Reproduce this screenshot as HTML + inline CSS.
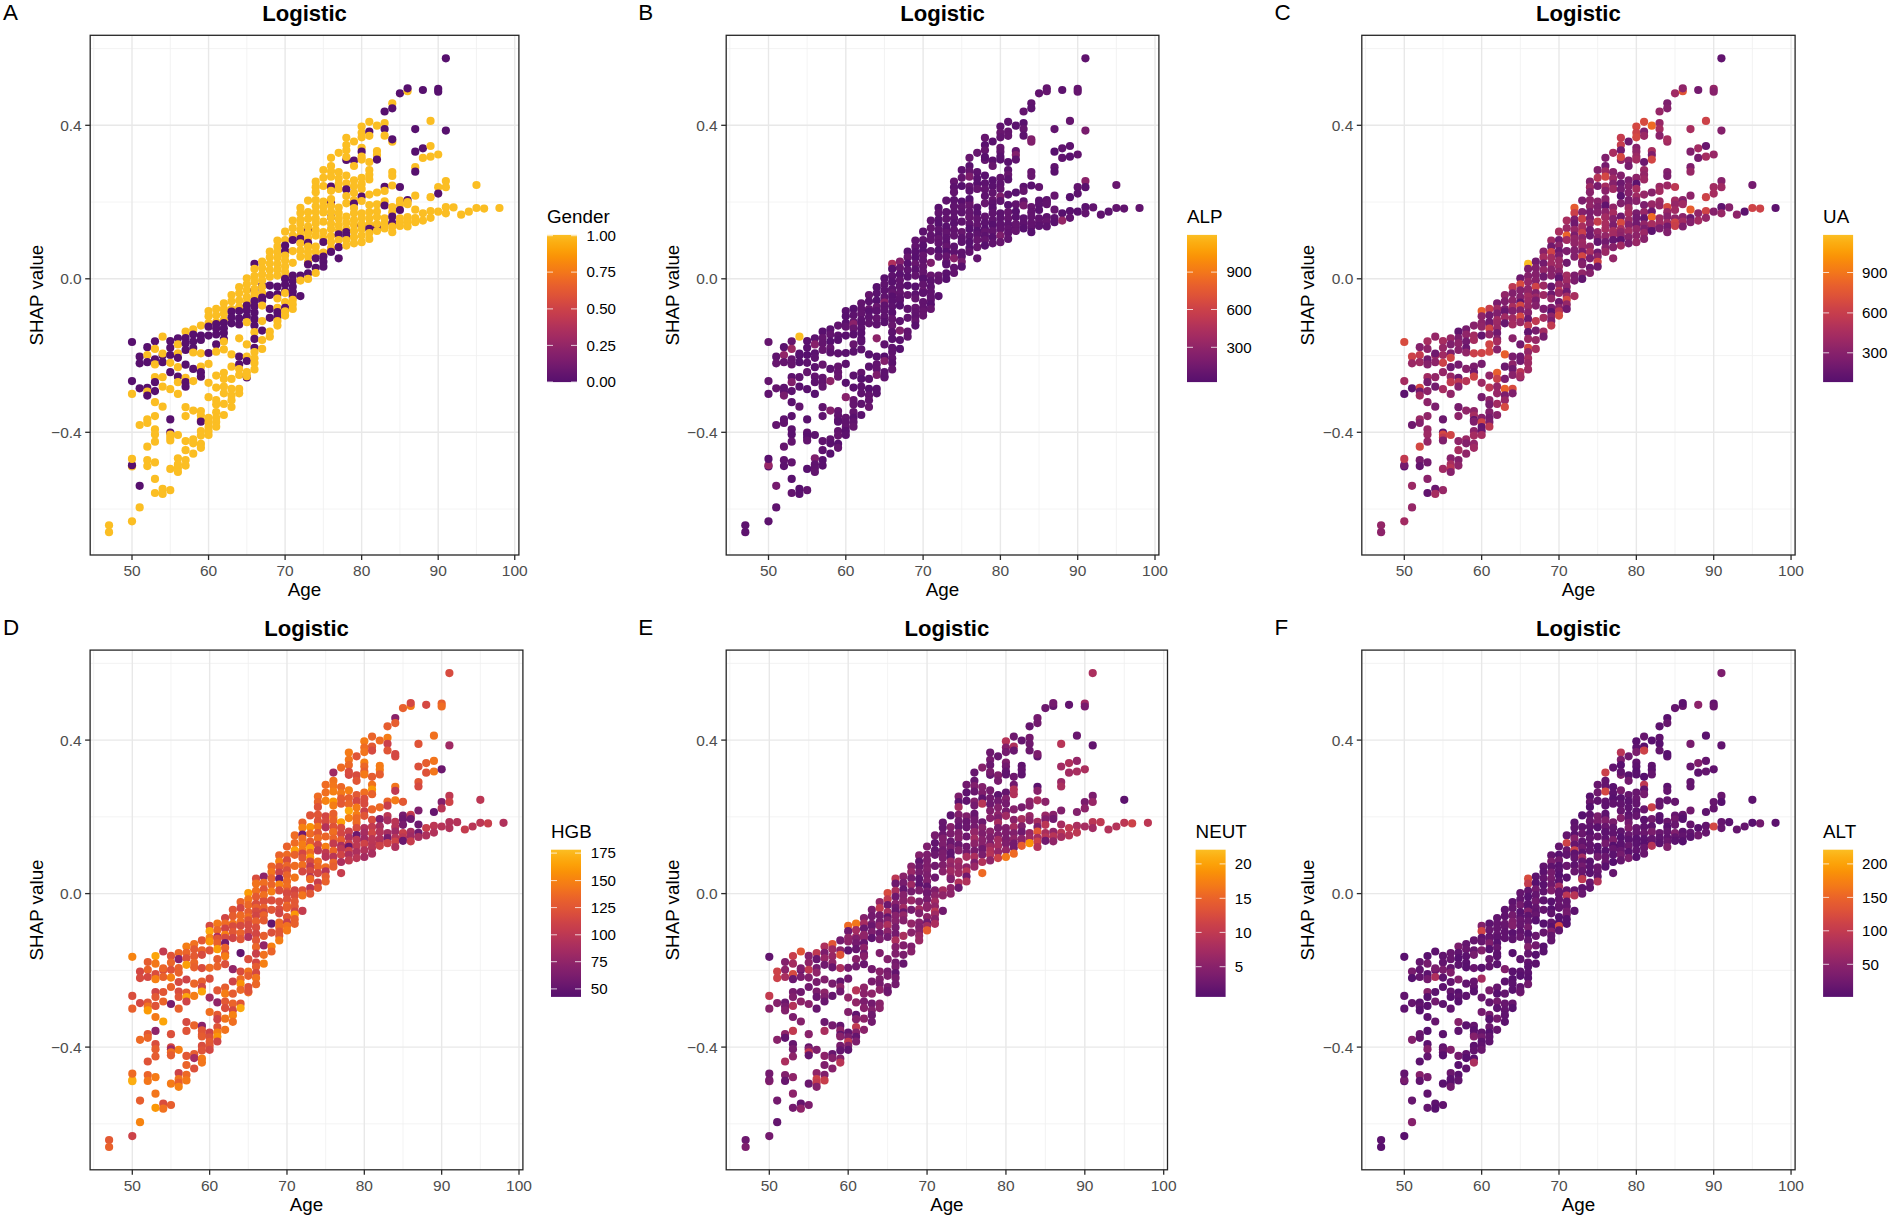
<!DOCTYPE html>
<html lang="en"><head><meta charset="utf-8"><title>SHAP dependence plots</title>
<style>html,body{margin:0;padding:0;background:#fff}svg{display:block}</style></head>
<body>
<svg width="1890" height="1219" viewBox="0 0 1890 1219" font-family="Liberation Sans, Arial, Helvetica, sans-serif">
<defs><linearGradient id="inf" x1="0" y1="1" x2="0" y2="0">
<stop offset="0%" stop-color="#57106e"/>
<stop offset="5%" stop-color="#62146e"/>
<stop offset="10%" stop-color="#6f196e"/>
<stop offset="15%" stop-color="#7c1d6d"/>
<stop offset="20%" stop-color="#87216b"/>
<stop offset="25%" stop-color="#932667"/>
<stop offset="30%" stop-color="#a02a63"/>
<stop offset="35%" stop-color="#ab2f5e"/>
<stop offset="40%" stop-color="#b73557"/>
<stop offset="45%" stop-color="#c33b4f"/>
<stop offset="50%" stop-color="#cc4248"/>
<stop offset="55%" stop-color="#d74b3f"/>
<stop offset="60%" stop-color="#e05536"/>
<stop offset="65%" stop-color="#e75e2e"/>
<stop offset="70%" stop-color="#ee6a24"/>
<stop offset="75%" stop-color="#f37819"/>
<stop offset="80%" stop-color="#f78410"/>
<stop offset="85%" stop-color="#fa9207"/>
<stop offset="90%" stop-color="#fca108"/>
<stop offset="95%" stop-color="#fcae12"/>
<stop offset="100%" stop-color="#fbbe23"/>
</linearGradient></defs>
<rect width="1890" height="1219" fill="#fff"/>
<g>
<line x1="93.72" x2="93.72" y1="35.30" y2="555.00" stroke="#f0f0f0" stroke-width="0.8"/>
<line x1="170.28" x2="170.28" y1="35.30" y2="555.00" stroke="#f0f0f0" stroke-width="0.8"/>
<line x1="246.82" x2="246.82" y1="35.30" y2="555.00" stroke="#f0f0f0" stroke-width="0.8"/>
<line x1="323.38" x2="323.38" y1="35.30" y2="555.00" stroke="#f0f0f0" stroke-width="0.8"/>
<line x1="399.93" x2="399.93" y1="35.30" y2="555.00" stroke="#f0f0f0" stroke-width="0.8"/>
<line x1="476.48" x2="476.48" y1="35.30" y2="555.00" stroke="#f0f0f0" stroke-width="0.8"/>
<line x1="90.20" x2="518.90" y1="48.55" y2="48.55" stroke="#f0f0f0" stroke-width="0.8"/>
<line x1="90.20" x2="518.90" y1="202.05" y2="202.05" stroke="#f0f0f0" stroke-width="0.8"/>
<line x1="90.20" x2="518.90" y1="355.55" y2="355.55" stroke="#f0f0f0" stroke-width="0.8"/>
<line x1="90.20" x2="518.90" y1="509.05" y2="509.05" stroke="#f0f0f0" stroke-width="0.8"/>
<line x1="132.00" x2="132.00" y1="35.30" y2="555.00" stroke="#e8e8e8" stroke-width="1.4"/>
<line x1="208.55" x2="208.55" y1="35.30" y2="555.00" stroke="#e8e8e8" stroke-width="1.4"/>
<line x1="285.10" x2="285.10" y1="35.30" y2="555.00" stroke="#e8e8e8" stroke-width="1.4"/>
<line x1="361.65" x2="361.65" y1="35.30" y2="555.00" stroke="#e8e8e8" stroke-width="1.4"/>
<line x1="438.20" x2="438.20" y1="35.30" y2="555.00" stroke="#e8e8e8" stroke-width="1.4"/>
<line x1="514.75" x2="514.75" y1="35.30" y2="555.00" stroke="#e8e8e8" stroke-width="1.4"/>
<line x1="90.20" x2="518.90" y1="125.30" y2="125.30" stroke="#e8e8e8" stroke-width="1.4"/>
<line x1="90.20" x2="518.90" y1="278.80" y2="278.80" stroke="#e8e8e8" stroke-width="1.4"/>
<line x1="90.20" x2="518.90" y1="432.30" y2="432.30" stroke="#e8e8e8" stroke-width="1.4"/>
<circle cx="109.03" cy="525.30" r="4.1" fill="#fbbe23"/>
<circle cx="109.03" cy="532.20" r="4.1" fill="#fbbe23"/>
<circle cx="132.00" cy="342.00" r="4.1" fill="#57106e"/>
<circle cx="132.00" cy="381.10" r="4.1" fill="#57106e"/>
<circle cx="132.00" cy="393.90" r="4.1" fill="#fbbe23"/>
<circle cx="132.00" cy="466.40" r="4.1" fill="#fbbe23"/>
<circle cx="132.00" cy="465.20" r="4.1" fill="#57106e"/>
<circle cx="132.00" cy="458.90" r="4.1" fill="#fbbe23"/>
<circle cx="132.00" cy="521.30" r="4.1" fill="#fbbe23"/>
<circle cx="139.66" cy="356.70" r="4.1" fill="#57106e"/>
<circle cx="139.66" cy="363.30" r="4.1" fill="#57106e"/>
<circle cx="139.66" cy="388.30" r="4.1" fill="#57106e"/>
<circle cx="139.66" cy="425.00" r="4.1" fill="#fbbe23"/>
<circle cx="139.66" cy="485.80" r="4.1" fill="#57106e"/>
<circle cx="139.66" cy="507.40" r="4.1" fill="#fbbe23"/>
<circle cx="147.31" cy="347.20" r="4.1" fill="#57106e"/>
<circle cx="147.31" cy="355.00" r="4.1" fill="#fbbe23"/>
<circle cx="147.31" cy="362.20" r="4.1" fill="#57106e"/>
<circle cx="147.31" cy="387.80" r="4.1" fill="#57106e"/>
<circle cx="147.31" cy="391.70" r="4.1" fill="#fbbe23"/>
<circle cx="147.31" cy="395.60" r="4.1" fill="#57106e"/>
<circle cx="147.31" cy="419.40" r="4.1" fill="#fbbe23"/>
<circle cx="147.31" cy="423.00" r="4.1" fill="#fbbe23"/>
<circle cx="147.31" cy="446.70" r="4.1" fill="#fbbe23"/>
<circle cx="147.31" cy="460.20" r="4.1" fill="#fbbe23"/>
<circle cx="147.31" cy="466.10" r="4.1" fill="#fbbe23"/>
<circle cx="154.97" cy="341.30" r="4.1" fill="#57106e"/>
<circle cx="154.97" cy="348.90" r="4.1" fill="#fbbe23"/>
<circle cx="154.97" cy="359.40" r="4.1" fill="#57106e"/>
<circle cx="154.97" cy="364.40" r="4.1" fill="#fbbe23"/>
<circle cx="154.97" cy="377.20" r="4.1" fill="#fbbe23"/>
<circle cx="154.97" cy="382.20" r="4.1" fill="#57106e"/>
<circle cx="154.97" cy="391.10" r="4.1" fill="#57106e"/>
<circle cx="154.97" cy="402.20" r="4.1" fill="#fbbe23"/>
<circle cx="154.97" cy="416.10" r="4.1" fill="#fbbe23"/>
<circle cx="154.97" cy="429.40" r="4.1" fill="#fbbe23"/>
<circle cx="154.97" cy="434.40" r="4.1" fill="#fbbe23"/>
<circle cx="154.97" cy="441.70" r="4.1" fill="#fbbe23"/>
<circle cx="154.97" cy="462.40" r="4.1" fill="#fbbe23"/>
<circle cx="154.97" cy="478.90" r="4.1" fill="#fbbe23"/>
<circle cx="154.97" cy="493.00" r="4.1" fill="#fbbe23"/>
<circle cx="162.62" cy="336.70" r="4.1" fill="#fbbe23"/>
<circle cx="162.62" cy="355.50" r="4.1" fill="#57106e"/>
<circle cx="162.62" cy="353.50" r="4.1" fill="#fbbe23"/>
<circle cx="162.62" cy="362.20" r="4.1" fill="#57106e"/>
<circle cx="162.62" cy="377.20" r="4.1" fill="#fbbe23"/>
<circle cx="162.62" cy="386.70" r="4.1" fill="#fbbe23"/>
<circle cx="162.62" cy="406.70" r="4.1" fill="#fbbe23"/>
<circle cx="162.62" cy="488.90" r="4.1" fill="#fbbe23"/>
<circle cx="162.62" cy="493.90" r="4.1" fill="#fbbe23"/>
<circle cx="170.28" cy="341.10" r="4.1" fill="#57106e"/>
<circle cx="170.28" cy="347.77" r="4.1" fill="#57106e"/>
<circle cx="170.28" cy="355.00" r="4.1" fill="#57106e"/>
<circle cx="170.28" cy="362.80" r="4.1" fill="#fbbe23"/>
<circle cx="170.28" cy="372.20" r="4.1" fill="#57106e"/>
<circle cx="170.28" cy="389.20" r="4.1" fill="#fbbe23"/>
<circle cx="170.28" cy="419.40" r="4.1" fill="#57106e"/>
<circle cx="170.28" cy="432.50" r="4.1" fill="#57106e"/>
<circle cx="170.28" cy="434.50" r="4.1" fill="#fbbe23"/>
<circle cx="170.28" cy="437.50" r="4.1" fill="#fbbe23"/>
<circle cx="170.28" cy="440.50" r="4.1" fill="#fbbe23"/>
<circle cx="170.28" cy="468.90" r="4.1" fill="#fbbe23"/>
<circle cx="170.28" cy="490.20" r="4.1" fill="#fbbe23"/>
<circle cx="177.93" cy="338.30" r="4.1" fill="#57106e"/>
<circle cx="177.93" cy="344.40" r="4.1" fill="#fbbe23"/>
<circle cx="177.93" cy="353.30" r="4.1" fill="#fbbe23"/>
<circle cx="177.93" cy="357.80" r="4.1" fill="#57106e"/>
<circle cx="177.93" cy="367.20" r="4.1" fill="#fbbe23"/>
<circle cx="177.93" cy="376.70" r="4.1" fill="#57106e"/>
<circle cx="177.93" cy="382.20" r="4.1" fill="#fbbe23"/>
<circle cx="177.93" cy="393.90" r="4.1" fill="#fbbe23"/>
<circle cx="177.93" cy="435.00" r="4.1" fill="#fbbe23"/>
<circle cx="177.93" cy="458.30" r="4.1" fill="#fbbe23"/>
<circle cx="177.93" cy="464.40" r="4.1" fill="#fbbe23"/>
<circle cx="177.93" cy="468.00" r="4.1" fill="#fbbe23"/>
<circle cx="177.93" cy="472.00" r="4.1" fill="#fbbe23"/>
<circle cx="185.59" cy="331.70" r="4.1" fill="#fbbe23"/>
<circle cx="185.59" cy="338.00" r="4.1" fill="#57106e"/>
<circle cx="185.59" cy="343.44" r="4.1" fill="#57106e"/>
<circle cx="185.59" cy="350.00" r="4.1" fill="#57106e"/>
<circle cx="185.59" cy="364.70" r="4.1" fill="#57106e"/>
<circle cx="185.59" cy="377.80" r="4.1" fill="#fbbe23"/>
<circle cx="185.59" cy="382.20" r="4.1" fill="#57106e"/>
<circle cx="185.59" cy="386.70" r="4.1" fill="#57106e"/>
<circle cx="185.59" cy="407.20" r="4.1" fill="#fbbe23"/>
<circle cx="185.59" cy="416.10" r="4.1" fill="#fbbe23"/>
<circle cx="185.59" cy="441.10" r="4.1" fill="#fbbe23"/>
<circle cx="185.59" cy="450.20" r="4.1" fill="#fbbe23"/>
<circle cx="185.59" cy="460.00" r="4.1" fill="#fbbe23"/>
<circle cx="185.59" cy="465.60" r="4.1" fill="#fbbe23"/>
<circle cx="193.24" cy="329.40" r="4.1" fill="#fbbe23"/>
<circle cx="193.24" cy="334.50" r="4.1" fill="#57106e"/>
<circle cx="193.24" cy="341.49" r="4.1" fill="#57106e"/>
<circle cx="193.24" cy="348.00" r="4.1" fill="#57106e"/>
<circle cx="193.24" cy="352.50" r="4.1" fill="#fbbe23"/>
<circle cx="193.24" cy="368.90" r="4.1" fill="#57106e"/>
<circle cx="193.24" cy="381.10" r="4.1" fill="#fbbe23"/>
<circle cx="193.24" cy="410.60" r="4.1" fill="#fbbe23"/>
<circle cx="193.24" cy="439.40" r="4.1" fill="#fbbe23"/>
<circle cx="193.24" cy="443.30" r="4.1" fill="#fbbe23"/>
<circle cx="193.24" cy="453.70" r="4.1" fill="#fbbe23"/>
<circle cx="200.89" cy="325.60" r="4.1" fill="#fbbe23"/>
<circle cx="200.89" cy="335.60" r="4.1" fill="#57106e"/>
<circle cx="200.89" cy="340.00" r="4.1" fill="#57106e"/>
<circle cx="200.89" cy="353.30" r="4.1" fill="#fbbe23"/>
<circle cx="200.89" cy="366.70" r="4.1" fill="#fbbe23"/>
<circle cx="200.89" cy="372.20" r="4.1" fill="#57106e"/>
<circle cx="200.89" cy="376.70" r="4.1" fill="#57106e"/>
<circle cx="200.89" cy="411.10" r="4.1" fill="#fbbe23"/>
<circle cx="200.89" cy="415.60" r="4.1" fill="#fbbe23"/>
<circle cx="200.89" cy="420.00" r="4.1" fill="#fbbe23"/>
<circle cx="200.89" cy="421.70" r="4.1" fill="#57106e"/>
<circle cx="200.89" cy="431.10" r="4.1" fill="#fbbe23"/>
<circle cx="200.89" cy="435.60" r="4.1" fill="#fbbe23"/>
<circle cx="200.89" cy="443.90" r="4.1" fill="#fbbe23"/>
<circle cx="200.89" cy="447.80" r="4.1" fill="#fbbe23"/>
<circle cx="208.55" cy="311.10" r="4.1" fill="#fbbe23"/>
<circle cx="208.55" cy="316.37" r="4.1" fill="#fbbe23"/>
<circle cx="208.55" cy="323.00" r="4.1" fill="#fbbe23"/>
<circle cx="208.55" cy="326.70" r="4.1" fill="#57106e"/>
<circle cx="208.55" cy="335.60" r="4.1" fill="#57106e"/>
<circle cx="208.55" cy="353.00" r="4.1" fill="#57106e"/>
<circle cx="208.55" cy="363.90" r="4.1" fill="#fbbe23"/>
<circle cx="208.55" cy="382.80" r="4.1" fill="#fbbe23"/>
<circle cx="208.55" cy="397.20" r="4.1" fill="#fbbe23"/>
<circle cx="208.55" cy="417.80" r="4.1" fill="#fbbe23"/>
<circle cx="208.55" cy="422.46" r="4.1" fill="#fbbe23"/>
<circle cx="208.55" cy="427.00" r="4.1" fill="#fbbe23"/>
<circle cx="208.55" cy="431.00" r="4.1" fill="#fbbe23"/>
<circle cx="208.55" cy="435.00" r="4.1" fill="#fbbe23"/>
<circle cx="216.20" cy="308.90" r="4.1" fill="#fbbe23"/>
<circle cx="216.20" cy="315.24" r="4.1" fill="#fbbe23"/>
<circle cx="216.20" cy="322.00" r="4.1" fill="#fbbe23"/>
<circle cx="216.20" cy="324.00" r="4.1" fill="#57106e"/>
<circle cx="216.20" cy="328.49" r="4.1" fill="#57106e"/>
<circle cx="216.20" cy="334.40" r="4.1" fill="#57106e"/>
<circle cx="216.20" cy="344.40" r="4.1" fill="#57106e"/>
<circle cx="216.20" cy="351.70" r="4.1" fill="#fbbe23"/>
<circle cx="216.20" cy="375.60" r="4.1" fill="#fbbe23"/>
<circle cx="216.20" cy="387.60" r="4.1" fill="#fbbe23"/>
<circle cx="216.20" cy="400.00" r="4.1" fill="#fbbe23"/>
<circle cx="216.20" cy="404.40" r="4.1" fill="#fbbe23"/>
<circle cx="216.20" cy="412.20" r="4.1" fill="#fbbe23"/>
<circle cx="216.20" cy="417.80" r="4.1" fill="#fbbe23"/>
<circle cx="216.20" cy="422.00" r="4.1" fill="#fbbe23"/>
<circle cx="216.20" cy="426.70" r="4.1" fill="#fbbe23"/>
<circle cx="223.86" cy="303.30" r="4.1" fill="#fbbe23"/>
<circle cx="223.86" cy="308.88" r="4.1" fill="#fbbe23"/>
<circle cx="223.86" cy="313.69" r="4.1" fill="#fbbe23"/>
<circle cx="223.86" cy="320.00" r="4.1" fill="#fbbe23"/>
<circle cx="223.86" cy="323.00" r="4.1" fill="#57106e"/>
<circle cx="223.86" cy="328.23" r="4.1" fill="#57106e"/>
<circle cx="223.86" cy="332.98" r="4.1" fill="#57106e"/>
<circle cx="223.86" cy="339.00" r="4.1" fill="#57106e"/>
<circle cx="223.86" cy="341.50" r="4.1" fill="#fbbe23"/>
<circle cx="223.86" cy="349.40" r="4.1" fill="#fbbe23"/>
<circle cx="223.86" cy="372.80" r="4.1" fill="#fbbe23"/>
<circle cx="223.86" cy="378.90" r="4.1" fill="#fbbe23"/>
<circle cx="223.86" cy="386.70" r="4.1" fill="#fbbe23"/>
<circle cx="223.86" cy="393.30" r="4.1" fill="#fbbe23"/>
<circle cx="223.86" cy="403.90" r="4.1" fill="#fbbe23"/>
<circle cx="223.86" cy="415.00" r="4.1" fill="#fbbe23"/>
<circle cx="231.51" cy="295.00" r="4.1" fill="#fbbe23"/>
<circle cx="231.51" cy="301.35" r="4.1" fill="#fbbe23"/>
<circle cx="231.51" cy="309.00" r="4.1" fill="#fbbe23"/>
<circle cx="231.51" cy="311.50" r="4.1" fill="#57106e"/>
<circle cx="231.51" cy="317.28" r="4.1" fill="#57106e"/>
<circle cx="231.51" cy="323.30" r="4.1" fill="#57106e"/>
<circle cx="231.51" cy="354.40" r="4.1" fill="#fbbe23"/>
<circle cx="231.51" cy="366.70" r="4.1" fill="#fbbe23"/>
<circle cx="231.51" cy="378.90" r="4.1" fill="#fbbe23"/>
<circle cx="231.51" cy="388.90" r="4.1" fill="#fbbe23"/>
<circle cx="231.51" cy="395.46" r="4.1" fill="#fbbe23"/>
<circle cx="231.51" cy="400.36" r="4.1" fill="#fbbe23"/>
<circle cx="231.51" cy="407.00" r="4.1" fill="#fbbe23"/>
<circle cx="239.17" cy="287.20" r="4.1" fill="#fbbe23"/>
<circle cx="239.17" cy="293.36" r="4.1" fill="#fbbe23"/>
<circle cx="239.17" cy="300.60" r="4.1" fill="#fbbe23"/>
<circle cx="239.17" cy="307.00" r="4.1" fill="#fbbe23"/>
<circle cx="239.17" cy="311.00" r="4.1" fill="#57106e"/>
<circle cx="239.17" cy="318.42" r="4.1" fill="#57106e"/>
<circle cx="239.17" cy="324.40" r="4.1" fill="#57106e"/>
<circle cx="239.17" cy="338.30" r="4.1" fill="#fbbe23"/>
<circle cx="239.17" cy="356.70" r="4.1" fill="#57106e"/>
<circle cx="239.17" cy="364.40" r="4.1" fill="#57106e"/>
<circle cx="239.17" cy="369.00" r="4.1" fill="#fbbe23"/>
<circle cx="239.17" cy="375.00" r="4.1" fill="#fbbe23"/>
<circle cx="239.17" cy="388.90" r="4.1" fill="#fbbe23"/>
<circle cx="239.17" cy="393.30" r="4.1" fill="#fbbe23"/>
<circle cx="246.82" cy="278.30" r="4.1" fill="#fbbe23"/>
<circle cx="246.82" cy="284.47" r="4.1" fill="#fbbe23"/>
<circle cx="246.82" cy="290.23" r="4.1" fill="#fbbe23"/>
<circle cx="246.82" cy="297.21" r="4.1" fill="#fbbe23"/>
<circle cx="246.82" cy="302.50" r="4.1" fill="#fbbe23"/>
<circle cx="246.82" cy="305.60" r="4.1" fill="#57106e"/>
<circle cx="246.82" cy="310.42" r="4.1" fill="#57106e"/>
<circle cx="246.82" cy="316.70" r="4.1" fill="#57106e"/>
<circle cx="246.82" cy="322.20" r="4.1" fill="#fbbe23"/>
<circle cx="246.82" cy="344.40" r="4.1" fill="#fbbe23"/>
<circle cx="246.82" cy="356.70" r="4.1" fill="#fbbe23"/>
<circle cx="246.82" cy="361.00" r="4.1" fill="#57106e"/>
<circle cx="246.82" cy="372.20" r="4.1" fill="#fbbe23"/>
<circle cx="246.82" cy="377.50" r="4.1" fill="#57106e"/>
<circle cx="246.82" cy="376.20" r="4.1" fill="#fbbe23"/>
<circle cx="254.48" cy="263.90" r="4.1" fill="#57106e"/>
<circle cx="254.48" cy="290.00" r="4.1" fill="#57106e"/>
<circle cx="254.48" cy="268.90" r="4.1" fill="#fbbe23"/>
<circle cx="254.48" cy="276.17" r="4.1" fill="#fbbe23"/>
<circle cx="254.48" cy="281.96" r="4.1" fill="#fbbe23"/>
<circle cx="254.48" cy="289.00" r="4.1" fill="#fbbe23"/>
<circle cx="254.48" cy="293.00" r="4.1" fill="#fbbe23"/>
<circle cx="254.48" cy="296.70" r="4.1" fill="#fbbe23"/>
<circle cx="254.48" cy="301.00" r="4.1" fill="#57106e"/>
<circle cx="254.48" cy="306.58" r="4.1" fill="#57106e"/>
<circle cx="254.48" cy="312.69" r="4.1" fill="#57106e"/>
<circle cx="254.48" cy="319.14" r="4.1" fill="#57106e"/>
<circle cx="254.48" cy="325.60" r="4.1" fill="#57106e"/>
<circle cx="254.48" cy="332.20" r="4.1" fill="#fbbe23"/>
<circle cx="254.48" cy="338.90" r="4.1" fill="#57106e"/>
<circle cx="254.48" cy="347.80" r="4.1" fill="#57106e"/>
<circle cx="254.48" cy="352.00" r="4.1" fill="#fbbe23"/>
<circle cx="254.48" cy="358.31" r="4.1" fill="#fbbe23"/>
<circle cx="254.48" cy="363.09" r="4.1" fill="#fbbe23"/>
<circle cx="254.48" cy="369.40" r="4.1" fill="#fbbe23"/>
<circle cx="262.13" cy="285.60" r="4.1" fill="#57106e"/>
<circle cx="262.13" cy="261.70" r="4.1" fill="#fbbe23"/>
<circle cx="262.13" cy="268.09" r="4.1" fill="#fbbe23"/>
<circle cx="262.13" cy="274.44" r="4.1" fill="#fbbe23"/>
<circle cx="262.13" cy="280.28" r="4.1" fill="#fbbe23"/>
<circle cx="262.13" cy="286.82" r="4.1" fill="#fbbe23"/>
<circle cx="262.13" cy="293.00" r="4.1" fill="#fbbe23"/>
<circle cx="262.13" cy="297.50" r="4.1" fill="#57106e"/>
<circle cx="262.13" cy="300.50" r="4.1" fill="#57106e"/>
<circle cx="262.13" cy="305.60" r="4.1" fill="#fbbe23"/>
<circle cx="262.13" cy="321.10" r="4.1" fill="#fbbe23"/>
<circle cx="262.13" cy="330.60" r="4.1" fill="#57106e"/>
<circle cx="262.13" cy="340.00" r="4.1" fill="#fbbe23"/>
<circle cx="262.13" cy="348.90" r="4.1" fill="#fbbe23"/>
<circle cx="269.79" cy="251.70" r="4.1" fill="#fbbe23"/>
<circle cx="269.79" cy="257.25" r="4.1" fill="#fbbe23"/>
<circle cx="269.79" cy="263.50" r="4.1" fill="#fbbe23"/>
<circle cx="269.79" cy="269.98" r="4.1" fill="#fbbe23"/>
<circle cx="269.79" cy="276.70" r="4.1" fill="#fbbe23"/>
<circle cx="269.79" cy="285.60" r="4.1" fill="#57106e"/>
<circle cx="269.79" cy="295.00" r="4.1" fill="#57106e"/>
<circle cx="269.79" cy="308.90" r="4.1" fill="#57106e"/>
<circle cx="269.79" cy="317.80" r="4.1" fill="#57106e"/>
<circle cx="269.79" cy="331.70" r="4.1" fill="#fbbe23"/>
<circle cx="269.79" cy="336.70" r="4.1" fill="#fbbe23"/>
<circle cx="277.44" cy="240.60" r="4.1" fill="#fbbe23"/>
<circle cx="277.44" cy="246.72" r="4.1" fill="#fbbe23"/>
<circle cx="277.44" cy="252.15" r="4.1" fill="#fbbe23"/>
<circle cx="277.44" cy="257.80" r="4.1" fill="#fbbe23"/>
<circle cx="277.44" cy="264.07" r="4.1" fill="#fbbe23"/>
<circle cx="277.44" cy="269.69" r="4.1" fill="#fbbe23"/>
<circle cx="277.44" cy="275.60" r="4.1" fill="#fbbe23"/>
<circle cx="277.44" cy="286.70" r="4.1" fill="#57106e"/>
<circle cx="277.44" cy="294.40" r="4.1" fill="#57106e"/>
<circle cx="277.44" cy="298.50" r="4.1" fill="#fbbe23"/>
<circle cx="277.44" cy="307.80" r="4.1" fill="#fbbe23"/>
<circle cx="277.44" cy="312.20" r="4.1" fill="#57106e"/>
<circle cx="277.44" cy="316.70" r="4.1" fill="#57106e"/>
<circle cx="277.44" cy="321.00" r="4.1" fill="#fbbe23"/>
<circle cx="277.44" cy="325.60" r="4.1" fill="#fbbe23"/>
<circle cx="285.10" cy="231.70" r="4.1" fill="#fbbe23"/>
<circle cx="285.10" cy="240.00" r="4.1" fill="#fbbe23"/>
<circle cx="285.10" cy="245.60" r="4.1" fill="#57106e"/>
<circle cx="285.10" cy="251.10" r="4.1" fill="#57106e"/>
<circle cx="285.10" cy="255.60" r="4.1" fill="#fbbe23"/>
<circle cx="285.10" cy="260.55" r="4.1" fill="#fbbe23"/>
<circle cx="285.10" cy="266.62" r="4.1" fill="#fbbe23"/>
<circle cx="285.10" cy="271.74" r="4.1" fill="#fbbe23"/>
<circle cx="285.10" cy="276.70" r="4.1" fill="#fbbe23"/>
<circle cx="285.10" cy="278.90" r="4.1" fill="#57106e"/>
<circle cx="285.10" cy="284.59" r="4.1" fill="#57106e"/>
<circle cx="285.10" cy="291.10" r="4.1" fill="#57106e"/>
<circle cx="285.10" cy="293.00" r="4.1" fill="#fbbe23"/>
<circle cx="285.10" cy="302.20" r="4.1" fill="#fbbe23"/>
<circle cx="285.10" cy="307.80" r="4.1" fill="#57106e"/>
<circle cx="285.10" cy="311.30" r="4.1" fill="#fbbe23"/>
<circle cx="285.10" cy="315.60" r="4.1" fill="#fbbe23"/>
<circle cx="292.75" cy="220.60" r="4.1" fill="#fbbe23"/>
<circle cx="292.75" cy="228.22" r="4.1" fill="#fbbe23"/>
<circle cx="292.75" cy="235.60" r="4.1" fill="#fbbe23"/>
<circle cx="292.75" cy="240.00" r="4.1" fill="#57106e"/>
<circle cx="292.75" cy="251.10" r="4.1" fill="#fbbe23"/>
<circle cx="292.75" cy="262.80" r="4.1" fill="#fbbe23"/>
<circle cx="292.75" cy="275.60" r="4.1" fill="#57106e"/>
<circle cx="292.75" cy="280.92" r="4.1" fill="#57106e"/>
<circle cx="292.75" cy="286.75" r="4.1" fill="#57106e"/>
<circle cx="292.75" cy="291.79" r="4.1" fill="#57106e"/>
<circle cx="292.75" cy="296.70" r="4.1" fill="#57106e"/>
<circle cx="292.75" cy="299.80" r="4.1" fill="#fbbe23"/>
<circle cx="292.75" cy="304.40" r="4.1" fill="#fbbe23"/>
<circle cx="292.75" cy="309.00" r="4.1" fill="#fbbe23"/>
<circle cx="300.41" cy="207.80" r="4.1" fill="#fbbe23"/>
<circle cx="300.41" cy="213.02" r="4.1" fill="#fbbe23"/>
<circle cx="300.41" cy="219.69" r="4.1" fill="#fbbe23"/>
<circle cx="300.41" cy="223.87" r="4.1" fill="#fbbe23"/>
<circle cx="300.41" cy="229.91" r="4.1" fill="#fbbe23"/>
<circle cx="300.41" cy="235.60" r="4.1" fill="#fbbe23"/>
<circle cx="300.41" cy="238.90" r="4.1" fill="#57106e"/>
<circle cx="300.41" cy="243.30" r="4.1" fill="#fbbe23"/>
<circle cx="300.41" cy="250.41" r="4.1" fill="#fbbe23"/>
<circle cx="300.41" cy="256.70" r="4.1" fill="#fbbe23"/>
<circle cx="300.41" cy="275.60" r="4.1" fill="#57106e"/>
<circle cx="300.41" cy="280.60" r="4.1" fill="#fbbe23"/>
<circle cx="300.41" cy="296.10" r="4.1" fill="#57106e"/>
<circle cx="308.06" cy="200.60" r="4.1" fill="#fbbe23"/>
<circle cx="308.06" cy="230.00" r="4.1" fill="#57106e"/>
<circle cx="308.06" cy="212.20" r="4.1" fill="#fbbe23"/>
<circle cx="308.06" cy="218.89" r="4.1" fill="#fbbe23"/>
<circle cx="308.06" cy="226.70" r="4.1" fill="#fbbe23"/>
<circle cx="308.06" cy="233.00" r="4.1" fill="#fbbe23"/>
<circle cx="308.06" cy="238.00" r="4.1" fill="#fbbe23"/>
<circle cx="308.06" cy="242.80" r="4.1" fill="#57106e"/>
<circle cx="308.06" cy="246.70" r="4.1" fill="#fbbe23"/>
<circle cx="308.06" cy="251.85" r="4.1" fill="#fbbe23"/>
<circle cx="308.06" cy="256.30" r="4.1" fill="#fbbe23"/>
<circle cx="308.06" cy="262.20" r="4.1" fill="#fbbe23"/>
<circle cx="308.06" cy="264.40" r="4.1" fill="#57106e"/>
<circle cx="308.06" cy="273.30" r="4.1" fill="#57106e"/>
<circle cx="308.06" cy="278.90" r="4.1" fill="#fbbe23"/>
<circle cx="315.72" cy="181.70" r="4.1" fill="#fbbe23"/>
<circle cx="315.72" cy="187.22" r="4.1" fill="#fbbe23"/>
<circle cx="315.72" cy="192.20" r="4.1" fill="#fbbe23"/>
<circle cx="315.72" cy="200.00" r="4.1" fill="#fbbe23"/>
<circle cx="315.72" cy="206.36" r="4.1" fill="#fbbe23"/>
<circle cx="315.72" cy="211.98" r="4.1" fill="#fbbe23"/>
<circle cx="315.72" cy="218.40" r="4.1" fill="#fbbe23"/>
<circle cx="315.72" cy="223.44" r="4.1" fill="#fbbe23"/>
<circle cx="315.72" cy="229.98" r="4.1" fill="#fbbe23"/>
<circle cx="315.72" cy="235.60" r="4.1" fill="#fbbe23"/>
<circle cx="315.72" cy="246.70" r="4.1" fill="#fbbe23"/>
<circle cx="315.72" cy="252.00" r="4.1" fill="#fbbe23"/>
<circle cx="315.72" cy="258.30" r="4.1" fill="#57106e"/>
<circle cx="315.72" cy="267.80" r="4.1" fill="#57106e"/>
<circle cx="315.72" cy="273.00" r="4.1" fill="#fbbe23"/>
<circle cx="323.38" cy="170.00" r="4.1" fill="#fbbe23"/>
<circle cx="323.38" cy="177.80" r="4.1" fill="#fbbe23"/>
<circle cx="323.38" cy="186.00" r="4.1" fill="#fbbe23"/>
<circle cx="323.38" cy="201.50" r="4.1" fill="#fbbe23"/>
<circle cx="323.38" cy="207.15" r="4.1" fill="#fbbe23"/>
<circle cx="323.38" cy="212.50" r="4.1" fill="#fbbe23"/>
<circle cx="323.38" cy="221.70" r="4.1" fill="#fbbe23"/>
<circle cx="323.38" cy="232.00" r="4.1" fill="#fbbe23"/>
<circle cx="323.38" cy="238.00" r="4.1" fill="#fbbe23"/>
<circle cx="323.38" cy="242.00" r="4.1" fill="#57106e"/>
<circle cx="323.38" cy="252.50" r="4.1" fill="#fbbe23"/>
<circle cx="323.38" cy="256.50" r="4.1" fill="#57106e"/>
<circle cx="323.38" cy="261.73" r="4.1" fill="#57106e"/>
<circle cx="323.38" cy="266.70" r="4.1" fill="#57106e"/>
<circle cx="331.03" cy="157.80" r="4.1" fill="#fbbe23"/>
<circle cx="331.03" cy="166.00" r="4.1" fill="#fbbe23"/>
<circle cx="331.03" cy="171.28" r="4.1" fill="#fbbe23"/>
<circle cx="331.03" cy="176.70" r="4.1" fill="#fbbe23"/>
<circle cx="331.03" cy="186.70" r="4.1" fill="#57106e"/>
<circle cx="331.03" cy="190.80" r="4.1" fill="#fbbe23"/>
<circle cx="331.03" cy="202.50" r="4.1" fill="#57106e"/>
<circle cx="331.03" cy="217.00" r="4.1" fill="#57106e"/>
<circle cx="331.03" cy="199.00" r="4.1" fill="#fbbe23"/>
<circle cx="331.03" cy="205.67" r="4.1" fill="#fbbe23"/>
<circle cx="331.03" cy="211.96" r="4.1" fill="#fbbe23"/>
<circle cx="331.03" cy="217.33" r="4.1" fill="#fbbe23"/>
<circle cx="331.03" cy="223.76" r="4.1" fill="#fbbe23"/>
<circle cx="331.03" cy="228.92" r="4.1" fill="#fbbe23"/>
<circle cx="331.03" cy="236.07" r="4.1" fill="#fbbe23"/>
<circle cx="331.03" cy="242.11" r="4.1" fill="#fbbe23"/>
<circle cx="331.03" cy="248.00" r="4.1" fill="#fbbe23"/>
<circle cx="331.03" cy="251.90" r="4.1" fill="#57106e"/>
<circle cx="338.69" cy="152.80" r="4.1" fill="#fbbe23"/>
<circle cx="338.69" cy="172.20" r="4.1" fill="#fbbe23"/>
<circle cx="338.69" cy="178.56" r="4.1" fill="#fbbe23"/>
<circle cx="338.69" cy="183.85" r="4.1" fill="#fbbe23"/>
<circle cx="338.69" cy="188.90" r="4.1" fill="#fbbe23"/>
<circle cx="338.69" cy="207.50" r="4.1" fill="#fbbe23"/>
<circle cx="338.69" cy="213.03" r="4.1" fill="#fbbe23"/>
<circle cx="338.69" cy="219.07" r="4.1" fill="#fbbe23"/>
<circle cx="338.69" cy="225.39" r="4.1" fill="#fbbe23"/>
<circle cx="338.69" cy="231.00" r="4.1" fill="#fbbe23"/>
<circle cx="338.69" cy="234.40" r="4.1" fill="#57106e"/>
<circle cx="338.69" cy="240.00" r="4.1" fill="#fbbe23"/>
<circle cx="338.69" cy="247.20" r="4.1" fill="#57106e"/>
<circle cx="338.69" cy="258.30" r="4.1" fill="#57106e"/>
<circle cx="346.34" cy="137.80" r="4.1" fill="#fbbe23"/>
<circle cx="346.34" cy="160.00" r="4.1" fill="#57106e"/>
<circle cx="346.34" cy="145.00" r="4.1" fill="#fbbe23"/>
<circle cx="346.34" cy="150.24" r="4.1" fill="#fbbe23"/>
<circle cx="346.34" cy="157.00" r="4.1" fill="#fbbe23"/>
<circle cx="346.34" cy="175.60" r="4.1" fill="#fbbe23"/>
<circle cx="346.34" cy="183.30" r="4.1" fill="#fbbe23"/>
<circle cx="346.34" cy="189.40" r="4.1" fill="#57106e"/>
<circle cx="346.34" cy="196.00" r="4.1" fill="#fbbe23"/>
<circle cx="346.34" cy="203.30" r="4.1" fill="#fbbe23"/>
<circle cx="346.34" cy="216.70" r="4.1" fill="#fbbe23"/>
<circle cx="346.34" cy="222.79" r="4.1" fill="#fbbe23"/>
<circle cx="346.34" cy="229.00" r="4.1" fill="#fbbe23"/>
<circle cx="346.34" cy="232.00" r="4.1" fill="#57106e"/>
<circle cx="346.34" cy="236.00" r="4.1" fill="#57106e"/>
<circle cx="346.34" cy="240.00" r="4.1" fill="#fbbe23"/>
<circle cx="346.34" cy="245.60" r="4.1" fill="#fbbe23"/>
<circle cx="354.00" cy="141.50" r="4.1" fill="#fbbe23"/>
<circle cx="354.00" cy="160.60" r="4.1" fill="#57106e"/>
<circle cx="354.00" cy="166.00" r="4.1" fill="#fbbe23"/>
<circle cx="354.00" cy="180.30" r="4.1" fill="#fbbe23"/>
<circle cx="354.00" cy="186.34" r="4.1" fill="#fbbe23"/>
<circle cx="354.00" cy="192.82" r="4.1" fill="#fbbe23"/>
<circle cx="354.00" cy="200.00" r="4.1" fill="#fbbe23"/>
<circle cx="354.00" cy="203.60" r="4.1" fill="#57106e"/>
<circle cx="354.00" cy="208.00" r="4.1" fill="#fbbe23"/>
<circle cx="354.00" cy="213.18" r="4.1" fill="#fbbe23"/>
<circle cx="354.00" cy="220.20" r="4.1" fill="#fbbe23"/>
<circle cx="354.00" cy="225.06" r="4.1" fill="#fbbe23"/>
<circle cx="354.00" cy="231.13" r="4.1" fill="#fbbe23"/>
<circle cx="354.00" cy="237.24" r="4.1" fill="#fbbe23"/>
<circle cx="354.00" cy="243.30" r="4.1" fill="#fbbe23"/>
<circle cx="361.65" cy="126.50" r="4.1" fill="#fbbe23"/>
<circle cx="361.65" cy="132.80" r="4.1" fill="#fbbe23"/>
<circle cx="361.65" cy="137.30" r="4.1" fill="#fbbe23"/>
<circle cx="361.65" cy="147.80" r="4.1" fill="#fbbe23"/>
<circle cx="361.65" cy="151.70" r="4.1" fill="#57106e"/>
<circle cx="361.65" cy="156.70" r="4.1" fill="#fbbe23"/>
<circle cx="361.65" cy="159.60" r="4.1" fill="#fbbe23"/>
<circle cx="361.65" cy="177.80" r="4.1" fill="#fbbe23"/>
<circle cx="361.65" cy="183.94" r="4.1" fill="#fbbe23"/>
<circle cx="361.65" cy="188.90" r="4.1" fill="#fbbe23"/>
<circle cx="361.65" cy="196.50" r="4.1" fill="#57106e"/>
<circle cx="361.65" cy="201.00" r="4.1" fill="#fbbe23"/>
<circle cx="361.65" cy="225.60" r="4.1" fill="#57106e"/>
<circle cx="361.65" cy="213.30" r="4.1" fill="#fbbe23"/>
<circle cx="361.65" cy="217.98" r="4.1" fill="#fbbe23"/>
<circle cx="361.65" cy="224.00" r="4.1" fill="#fbbe23"/>
<circle cx="361.65" cy="229.00" r="4.1" fill="#fbbe23"/>
<circle cx="361.65" cy="235.52" r="4.1" fill="#fbbe23"/>
<circle cx="361.65" cy="242.20" r="4.1" fill="#fbbe23"/>
<circle cx="369.31" cy="121.80" r="4.1" fill="#fbbe23"/>
<circle cx="369.31" cy="131.70" r="4.1" fill="#57106e"/>
<circle cx="369.31" cy="135.80" r="4.1" fill="#fbbe23"/>
<circle cx="369.31" cy="162.00" r="4.1" fill="#fbbe23"/>
<circle cx="369.31" cy="170.00" r="4.1" fill="#fbbe23"/>
<circle cx="369.31" cy="174.78" r="4.1" fill="#fbbe23"/>
<circle cx="369.31" cy="179.40" r="4.1" fill="#fbbe23"/>
<circle cx="369.31" cy="194.60" r="4.1" fill="#fbbe23"/>
<circle cx="369.31" cy="205.00" r="4.1" fill="#fbbe23"/>
<circle cx="369.31" cy="212.08" r="4.1" fill="#fbbe23"/>
<circle cx="369.31" cy="218.44" r="4.1" fill="#fbbe23"/>
<circle cx="369.31" cy="224.40" r="4.1" fill="#fbbe23"/>
<circle cx="369.31" cy="228.90" r="4.1" fill="#57106e"/>
<circle cx="369.31" cy="233.00" r="4.1" fill="#fbbe23"/>
<circle cx="369.31" cy="238.90" r="4.1" fill="#fbbe23"/>
<circle cx="376.96" cy="125.70" r="4.1" fill="#fbbe23"/>
<circle cx="376.96" cy="151.00" r="4.1" fill="#fbbe23"/>
<circle cx="376.96" cy="155.00" r="4.1" fill="#fbbe23"/>
<circle cx="376.96" cy="159.60" r="4.1" fill="#57106e"/>
<circle cx="376.96" cy="192.50" r="4.1" fill="#fbbe23"/>
<circle cx="376.96" cy="227.00" r="4.1" fill="#57106e"/>
<circle cx="376.96" cy="204.40" r="4.1" fill="#fbbe23"/>
<circle cx="376.96" cy="211.52" r="4.1" fill="#fbbe23"/>
<circle cx="376.96" cy="217.11" r="4.1" fill="#fbbe23"/>
<circle cx="376.96" cy="224.00" r="4.1" fill="#fbbe23"/>
<circle cx="376.96" cy="231.00" r="4.1" fill="#fbbe23"/>
<circle cx="384.62" cy="111.50" r="4.1" fill="#57106e"/>
<circle cx="384.62" cy="123.00" r="4.1" fill="#fbbe23"/>
<circle cx="384.62" cy="129.00" r="4.1" fill="#57106e"/>
<circle cx="384.62" cy="135.70" r="4.1" fill="#fbbe23"/>
<circle cx="384.62" cy="186.80" r="4.1" fill="#57106e"/>
<circle cx="384.62" cy="190.90" r="4.1" fill="#fbbe23"/>
<circle cx="384.62" cy="201.30" r="4.1" fill="#fbbe23"/>
<circle cx="384.62" cy="205.50" r="4.1" fill="#57106e"/>
<circle cx="384.62" cy="218.40" r="4.1" fill="#fbbe23"/>
<circle cx="384.62" cy="223.26" r="4.1" fill="#fbbe23"/>
<circle cx="384.62" cy="228.40" r="4.1" fill="#fbbe23"/>
<circle cx="392.27" cy="103.30" r="4.1" fill="#fbbe23"/>
<circle cx="392.27" cy="108.30" r="4.1" fill="#57106e"/>
<circle cx="392.27" cy="141.70" r="4.1" fill="#fbbe23"/>
<circle cx="392.27" cy="139.30" r="4.1" fill="#57106e"/>
<circle cx="392.27" cy="172.00" r="4.1" fill="#fbbe23"/>
<circle cx="392.27" cy="176.00" r="4.1" fill="#fbbe23"/>
<circle cx="392.27" cy="185.50" r="4.1" fill="#fbbe23"/>
<circle cx="392.27" cy="207.00" r="4.1" fill="#fbbe23"/>
<circle cx="392.27" cy="212.20" r="4.1" fill="#fbbe23"/>
<circle cx="392.27" cy="216.70" r="4.1" fill="#57106e"/>
<circle cx="392.27" cy="223.00" r="4.1" fill="#57106e"/>
<circle cx="392.27" cy="226.70" r="4.1" fill="#fbbe23"/>
<circle cx="392.27" cy="232.20" r="4.1" fill="#fbbe23"/>
<circle cx="399.93" cy="93.30" r="4.1" fill="#57106e"/>
<circle cx="399.93" cy="187.00" r="4.1" fill="#57106e"/>
<circle cx="399.93" cy="200.70" r="4.1" fill="#fbbe23"/>
<circle cx="399.93" cy="204.50" r="4.1" fill="#fbbe23"/>
<circle cx="399.93" cy="210.00" r="4.1" fill="#57106e"/>
<circle cx="399.93" cy="218.40" r="4.1" fill="#fbbe23"/>
<circle cx="399.93" cy="222.50" r="4.1" fill="#fbbe23"/>
<circle cx="399.93" cy="226.00" r="4.1" fill="#fbbe23"/>
<circle cx="407.58" cy="91.20" r="4.1" fill="#fbbe23"/>
<circle cx="407.58" cy="88.30" r="4.1" fill="#57106e"/>
<circle cx="407.58" cy="200.00" r="4.1" fill="#57106e"/>
<circle cx="407.58" cy="202.00" r="4.1" fill="#fbbe23"/>
<circle cx="407.58" cy="204.20" r="4.1" fill="#fbbe23"/>
<circle cx="407.58" cy="217.00" r="4.1" fill="#fbbe23"/>
<circle cx="407.58" cy="221.52" r="4.1" fill="#fbbe23"/>
<circle cx="407.58" cy="226.50" r="4.1" fill="#fbbe23"/>
<circle cx="415.24" cy="129.10" r="4.1" fill="#57106e"/>
<circle cx="415.24" cy="151.70" r="4.1" fill="#57106e"/>
<circle cx="415.24" cy="167.20" r="4.1" fill="#fbbe23"/>
<circle cx="415.24" cy="171.70" r="4.1" fill="#57106e"/>
<circle cx="415.24" cy="195.70" r="4.1" fill="#fbbe23"/>
<circle cx="415.24" cy="209.70" r="4.1" fill="#fbbe23"/>
<circle cx="415.24" cy="218.00" r="4.1" fill="#fbbe23"/>
<circle cx="415.24" cy="222.20" r="4.1" fill="#fbbe23"/>
<circle cx="422.89" cy="90.00" r="4.1" fill="#57106e"/>
<circle cx="422.89" cy="148.30" r="4.1" fill="#57106e"/>
<circle cx="422.89" cy="157.90" r="4.1" fill="#fbbe23"/>
<circle cx="422.89" cy="213.30" r="4.1" fill="#fbbe23"/>
<circle cx="422.89" cy="220.60" r="4.1" fill="#fbbe23"/>
<circle cx="430.55" cy="120.90" r="4.1" fill="#fbbe23"/>
<circle cx="430.55" cy="146.00" r="4.1" fill="#fbbe23"/>
<circle cx="430.55" cy="156.70" r="4.1" fill="#fbbe23"/>
<circle cx="430.55" cy="197.20" r="4.1" fill="#fbbe23"/>
<circle cx="430.55" cy="211.10" r="4.1" fill="#fbbe23"/>
<circle cx="430.55" cy="217.80" r="4.1" fill="#fbbe23"/>
<circle cx="438.20" cy="88.90" r="4.1" fill="#57106e"/>
<circle cx="438.20" cy="91.70" r="4.1" fill="#57106e"/>
<circle cx="438.20" cy="154.50" r="4.1" fill="#fbbe23"/>
<circle cx="438.20" cy="187.20" r="4.1" fill="#fbbe23"/>
<circle cx="438.20" cy="193.60" r="4.1" fill="#57106e"/>
<circle cx="438.20" cy="211.70" r="4.1" fill="#fbbe23"/>
<circle cx="445.86" cy="58.30" r="4.1" fill="#57106e"/>
<circle cx="445.86" cy="130.60" r="4.1" fill="#57106e"/>
<circle cx="445.86" cy="181.10" r="4.1" fill="#fbbe23"/>
<circle cx="445.86" cy="187.20" r="4.1" fill="#fbbe23"/>
<circle cx="445.86" cy="207.20" r="4.1" fill="#fbbe23"/>
<circle cx="445.86" cy="213.30" r="4.1" fill="#fbbe23"/>
<circle cx="453.51" cy="207.40" r="4.1" fill="#fbbe23"/>
<circle cx="461.17" cy="214.70" r="4.1" fill="#fbbe23"/>
<circle cx="468.82" cy="211.70" r="4.1" fill="#fbbe23"/>
<circle cx="476.48" cy="185.00" r="4.1" fill="#fbbe23"/>
<circle cx="476.48" cy="208.00" r="4.1" fill="#fbbe23"/>
<circle cx="484.13" cy="208.60" r="4.1" fill="#fbbe23"/>
<circle cx="499.44" cy="208.00" r="4.1" fill="#fbbe23"/>
<rect x="90.20" y="35.30" width="428.70" height="519.70" fill="none" stroke="#262626" stroke-width="1.3"/>
<line x1="132.00" x2="132.00" y1="555.00" y2="560.00" stroke="#2b2b2b" stroke-width="1.3"/>
<text x="132.00" y="575.70" font-size="15.5" fill="#4d4d4d" text-anchor="middle">50</text>
<line x1="208.55" x2="208.55" y1="555.00" y2="560.00" stroke="#2b2b2b" stroke-width="1.3"/>
<text x="208.55" y="575.70" font-size="15.5" fill="#4d4d4d" text-anchor="middle">60</text>
<line x1="285.10" x2="285.10" y1="555.00" y2="560.00" stroke="#2b2b2b" stroke-width="1.3"/>
<text x="285.10" y="575.70" font-size="15.5" fill="#4d4d4d" text-anchor="middle">70</text>
<line x1="361.65" x2="361.65" y1="555.00" y2="560.00" stroke="#2b2b2b" stroke-width="1.3"/>
<text x="361.65" y="575.70" font-size="15.5" fill="#4d4d4d" text-anchor="middle">80</text>
<line x1="438.20" x2="438.20" y1="555.00" y2="560.00" stroke="#2b2b2b" stroke-width="1.3"/>
<text x="438.20" y="575.70" font-size="15.5" fill="#4d4d4d" text-anchor="middle">90</text>
<line x1="514.75" x2="514.75" y1="555.00" y2="560.00" stroke="#2b2b2b" stroke-width="1.3"/>
<text x="514.75" y="575.70" font-size="15.5" fill="#4d4d4d" text-anchor="middle">100</text>
<line x1="85.20" x2="90.20" y1="125.30" y2="125.30" stroke="#2b2b2b" stroke-width="1.3"/>
<text x="81.70" y="130.70" font-size="15.5" fill="#4d4d4d" text-anchor="end">0.4</text>
<line x1="85.20" x2="90.20" y1="278.80" y2="278.80" stroke="#2b2b2b" stroke-width="1.3"/>
<text x="81.70" y="284.20" font-size="15.5" fill="#4d4d4d" text-anchor="end">0.0</text>
<line x1="85.20" x2="90.20" y1="432.30" y2="432.30" stroke="#2b2b2b" stroke-width="1.3"/>
<text x="81.70" y="437.70" font-size="15.5" fill="#4d4d4d" text-anchor="end">−0.4</text>
<text x="304.55" y="595.80" font-size="18.8" fill="#000" text-anchor="middle">Age</text>
<text transform="translate(42.80,295.15) rotate(-90)" font-size="18.8" fill="#000" text-anchor="middle">SHAP value</text>
<text x="304.55" y="20.70" font-size="22.1" font-weight="bold" fill="#000" text-anchor="middle">Logistic</text>
<text x="2.9" y="19.70" font-size="22.4" fill="#000">A</text>
<text x="547.00" y="222.90" font-size="18.8" fill="#000">Gender</text>
<rect x="547.00" y="234.90" width="30" height="147.20" fill="url(#inf)"/>
<line x1="547.00" x2="553.00" y1="235.70" y2="235.70" stroke="#fff" stroke-width="0.9" opacity="0.85"/>
<line x1="571.00" x2="577.00" y1="235.70" y2="235.70" stroke="#fff" stroke-width="0.9" opacity="0.85"/>
<text x="586.60" y="241.00" font-size="15.1" fill="#000">1.00</text>
<line x1="547.00" x2="553.00" y1="272.10" y2="272.10" stroke="#fff" stroke-width="0.9" opacity="0.85"/>
<line x1="571.00" x2="577.00" y1="272.10" y2="272.10" stroke="#fff" stroke-width="0.9" opacity="0.85"/>
<text x="586.60" y="277.40" font-size="15.1" fill="#000">0.75</text>
<line x1="547.00" x2="553.00" y1="308.90" y2="308.90" stroke="#fff" stroke-width="0.9" opacity="0.85"/>
<line x1="571.00" x2="577.00" y1="308.90" y2="308.90" stroke="#fff" stroke-width="0.9" opacity="0.85"/>
<text x="586.60" y="314.20" font-size="15.1" fill="#000">0.50</text>
<line x1="547.00" x2="553.00" y1="345.40" y2="345.40" stroke="#fff" stroke-width="0.9" opacity="0.85"/>
<line x1="571.00" x2="577.00" y1="345.40" y2="345.40" stroke="#fff" stroke-width="0.9" opacity="0.85"/>
<text x="586.60" y="350.70" font-size="15.1" fill="#000">0.25</text>
<line x1="547.00" x2="553.00" y1="382.00" y2="382.00" stroke="#fff" stroke-width="0.9" opacity="0.85"/>
<line x1="571.00" x2="577.00" y1="382.00" y2="382.00" stroke="#fff" stroke-width="0.9" opacity="0.85"/>
<text x="586.60" y="387.30" font-size="15.1" fill="#000">0.00</text>
</g>
<g>
<line x1="729.85" x2="729.85" y1="35.30" y2="555.00" stroke="#f0f0f0" stroke-width="0.8"/>
<line x1="807.15" x2="807.15" y1="35.30" y2="555.00" stroke="#f0f0f0" stroke-width="0.8"/>
<line x1="884.45" x2="884.45" y1="35.30" y2="555.00" stroke="#f0f0f0" stroke-width="0.8"/>
<line x1="961.75" x2="961.75" y1="35.30" y2="555.00" stroke="#f0f0f0" stroke-width="0.8"/>
<line x1="1039.05" x2="1039.05" y1="35.30" y2="555.00" stroke="#f0f0f0" stroke-width="0.8"/>
<line x1="1116.35" x2="1116.35" y1="35.30" y2="555.00" stroke="#f0f0f0" stroke-width="0.8"/>
<line x1="726.20" x2="1158.90" y1="48.55" y2="48.55" stroke="#f0f0f0" stroke-width="0.8"/>
<line x1="726.20" x2="1158.90" y1="202.05" y2="202.05" stroke="#f0f0f0" stroke-width="0.8"/>
<line x1="726.20" x2="1158.90" y1="355.55" y2="355.55" stroke="#f0f0f0" stroke-width="0.8"/>
<line x1="726.20" x2="1158.90" y1="509.05" y2="509.05" stroke="#f0f0f0" stroke-width="0.8"/>
<line x1="768.50" x2="768.50" y1="35.30" y2="555.00" stroke="#e8e8e8" stroke-width="1.4"/>
<line x1="845.80" x2="845.80" y1="35.30" y2="555.00" stroke="#e8e8e8" stroke-width="1.4"/>
<line x1="923.10" x2="923.10" y1="35.30" y2="555.00" stroke="#e8e8e8" stroke-width="1.4"/>
<line x1="1000.40" x2="1000.40" y1="35.30" y2="555.00" stroke="#e8e8e8" stroke-width="1.4"/>
<line x1="1077.70" x2="1077.70" y1="35.30" y2="555.00" stroke="#e8e8e8" stroke-width="1.4"/>
<line x1="1155.00" x2="1155.00" y1="35.30" y2="555.00" stroke="#e8e8e8" stroke-width="1.4"/>
<line x1="726.20" x2="1158.90" y1="125.30" y2="125.30" stroke="#e8e8e8" stroke-width="1.4"/>
<line x1="726.20" x2="1158.90" y1="278.80" y2="278.80" stroke="#e8e8e8" stroke-width="1.4"/>
<line x1="726.20" x2="1158.90" y1="432.30" y2="432.30" stroke="#e8e8e8" stroke-width="1.4"/>
<circle cx="745.31" cy="525.30" r="4.1" fill="#5d126e"/>
<circle cx="745.31" cy="532.20" r="4.1" fill="#5d126e"/>
<circle cx="768.50" cy="342.00" r="4.1" fill="#65156e"/>
<circle cx="768.50" cy="381.10" r="4.1" fill="#64156e"/>
<circle cx="768.50" cy="393.90" r="4.1" fill="#5f136e"/>
<circle cx="768.50" cy="466.40" r="4.1" fill="#59106e"/>
<circle cx="768.50" cy="465.20" r="4.1" fill="#982766"/>
<circle cx="768.50" cy="458.90" r="4.1" fill="#59106e"/>
<circle cx="768.50" cy="521.30" r="4.1" fill="#5d126e"/>
<circle cx="776.23" cy="356.70" r="4.1" fill="#5f136e"/>
<circle cx="776.23" cy="363.30" r="4.1" fill="#67166e"/>
<circle cx="776.23" cy="388.30" r="4.1" fill="#65156e"/>
<circle cx="776.23" cy="425.00" r="4.1" fill="#62146e"/>
<circle cx="776.23" cy="485.80" r="4.1" fill="#751b6e"/>
<circle cx="776.23" cy="507.40" r="4.1" fill="#5f136e"/>
<circle cx="783.96" cy="347.20" r="4.1" fill="#5c126e"/>
<circle cx="783.96" cy="355.00" r="4.1" fill="#902568"/>
<circle cx="783.96" cy="362.20" r="4.1" fill="#65156e"/>
<circle cx="783.96" cy="387.80" r="4.1" fill="#5d126e"/>
<circle cx="783.96" cy="391.70" r="4.1" fill="#5d126e"/>
<circle cx="783.96" cy="395.60" r="4.1" fill="#771c6d"/>
<circle cx="783.96" cy="419.40" r="4.1" fill="#5d126e"/>
<circle cx="783.96" cy="423.00" r="4.1" fill="#61136e"/>
<circle cx="783.96" cy="446.70" r="4.1" fill="#65156e"/>
<circle cx="783.96" cy="460.20" r="4.1" fill="#5f136e"/>
<circle cx="783.96" cy="466.10" r="4.1" fill="#5c126e"/>
<circle cx="791.69" cy="341.30" r="4.1" fill="#67166e"/>
<circle cx="791.69" cy="348.90" r="4.1" fill="#9b2964"/>
<circle cx="791.69" cy="359.40" r="4.1" fill="#64156e"/>
<circle cx="791.69" cy="364.40" r="4.1" fill="#65156e"/>
<circle cx="791.69" cy="377.20" r="4.1" fill="#5d126e"/>
<circle cx="791.69" cy="382.20" r="4.1" fill="#801f6c"/>
<circle cx="791.69" cy="391.10" r="4.1" fill="#5c126e"/>
<circle cx="791.69" cy="402.20" r="4.1" fill="#5c126e"/>
<circle cx="791.69" cy="416.10" r="4.1" fill="#5c126e"/>
<circle cx="791.69" cy="429.40" r="4.1" fill="#5d126e"/>
<circle cx="791.69" cy="434.40" r="4.1" fill="#59106e"/>
<circle cx="791.69" cy="441.70" r="4.1" fill="#62146e"/>
<circle cx="791.69" cy="462.40" r="4.1" fill="#62146e"/>
<circle cx="791.69" cy="478.90" r="4.1" fill="#59106e"/>
<circle cx="791.69" cy="493.00" r="4.1" fill="#62146e"/>
<circle cx="799.42" cy="336.70" r="4.1" fill="#fbbe23"/>
<circle cx="799.42" cy="355.50" r="4.1" fill="#57106e"/>
<circle cx="799.42" cy="353.50" r="4.1" fill="#57106e"/>
<circle cx="799.42" cy="362.20" r="4.1" fill="#57106e"/>
<circle cx="799.42" cy="377.20" r="4.1" fill="#5f136e"/>
<circle cx="799.42" cy="386.70" r="4.1" fill="#59106e"/>
<circle cx="799.42" cy="406.70" r="4.1" fill="#62146e"/>
<circle cx="799.42" cy="488.90" r="4.1" fill="#57106e"/>
<circle cx="799.42" cy="493.90" r="4.1" fill="#59106e"/>
<circle cx="807.15" cy="341.10" r="4.1" fill="#5a116e"/>
<circle cx="807.15" cy="347.77" r="4.1" fill="#5a116e"/>
<circle cx="807.15" cy="355.00" r="4.1" fill="#57106e"/>
<circle cx="807.15" cy="362.80" r="4.1" fill="#5d126e"/>
<circle cx="807.15" cy="372.20" r="4.1" fill="#64156e"/>
<circle cx="807.15" cy="389.20" r="4.1" fill="#59106e"/>
<circle cx="807.15" cy="419.40" r="4.1" fill="#5a116e"/>
<circle cx="807.15" cy="432.50" r="4.1" fill="#61136e"/>
<circle cx="807.15" cy="434.50" r="4.1" fill="#5a116e"/>
<circle cx="807.15" cy="437.50" r="4.1" fill="#59106e"/>
<circle cx="807.15" cy="440.50" r="4.1" fill="#62146e"/>
<circle cx="807.15" cy="468.90" r="4.1" fill="#57106e"/>
<circle cx="807.15" cy="490.20" r="4.1" fill="#62146e"/>
<circle cx="814.88" cy="338.30" r="4.1" fill="#5c126e"/>
<circle cx="814.88" cy="344.40" r="4.1" fill="#87216b"/>
<circle cx="814.88" cy="353.30" r="4.1" fill="#5a116e"/>
<circle cx="814.88" cy="357.80" r="4.1" fill="#5d126e"/>
<circle cx="814.88" cy="367.20" r="4.1" fill="#5c126e"/>
<circle cx="814.88" cy="376.70" r="4.1" fill="#61136e"/>
<circle cx="814.88" cy="382.20" r="4.1" fill="#5d126e"/>
<circle cx="814.88" cy="393.90" r="4.1" fill="#57106e"/>
<circle cx="814.88" cy="435.00" r="4.1" fill="#5c126e"/>
<circle cx="814.88" cy="458.30" r="4.1" fill="#7d1e6d"/>
<circle cx="814.88" cy="464.40" r="4.1" fill="#5f136e"/>
<circle cx="814.88" cy="468.00" r="4.1" fill="#5f136e"/>
<circle cx="814.88" cy="472.00" r="4.1" fill="#62146e"/>
<circle cx="822.61" cy="331.70" r="4.1" fill="#59106e"/>
<circle cx="822.61" cy="338.00" r="4.1" fill="#65156e"/>
<circle cx="822.61" cy="343.44" r="4.1" fill="#64156e"/>
<circle cx="822.61" cy="350.00" r="4.1" fill="#67166e"/>
<circle cx="822.61" cy="364.70" r="4.1" fill="#67166e"/>
<circle cx="822.61" cy="377.80" r="4.1" fill="#62146e"/>
<circle cx="822.61" cy="382.20" r="4.1" fill="#62146e"/>
<circle cx="822.61" cy="386.70" r="4.1" fill="#64156e"/>
<circle cx="822.61" cy="407.20" r="4.1" fill="#61136e"/>
<circle cx="822.61" cy="416.10" r="4.1" fill="#5f136e"/>
<circle cx="822.61" cy="441.10" r="4.1" fill="#5f136e"/>
<circle cx="822.61" cy="450.20" r="4.1" fill="#5d126e"/>
<circle cx="822.61" cy="460.00" r="4.1" fill="#57106e"/>
<circle cx="822.61" cy="465.60" r="4.1" fill="#59106e"/>
<circle cx="830.34" cy="329.40" r="4.1" fill="#5a116e"/>
<circle cx="830.34" cy="334.50" r="4.1" fill="#62146e"/>
<circle cx="830.34" cy="341.49" r="4.1" fill="#57106e"/>
<circle cx="830.34" cy="348.00" r="4.1" fill="#65156e"/>
<circle cx="830.34" cy="352.50" r="4.1" fill="#5c126e"/>
<circle cx="830.34" cy="368.90" r="4.1" fill="#5c126e"/>
<circle cx="830.34" cy="381.10" r="4.1" fill="#8c2369"/>
<circle cx="830.34" cy="410.60" r="4.1" fill="#82206c"/>
<circle cx="830.34" cy="439.40" r="4.1" fill="#61136e"/>
<circle cx="830.34" cy="443.30" r="4.1" fill="#5a116e"/>
<circle cx="830.34" cy="453.70" r="4.1" fill="#57106e"/>
<circle cx="838.07" cy="325.60" r="4.1" fill="#61136e"/>
<circle cx="838.07" cy="335.60" r="4.1" fill="#5c126e"/>
<circle cx="838.07" cy="340.00" r="4.1" fill="#59106e"/>
<circle cx="838.07" cy="353.30" r="4.1" fill="#5d126e"/>
<circle cx="838.07" cy="366.70" r="4.1" fill="#65156e"/>
<circle cx="838.07" cy="372.20" r="4.1" fill="#65156e"/>
<circle cx="838.07" cy="376.70" r="4.1" fill="#67166e"/>
<circle cx="838.07" cy="411.10" r="4.1" fill="#65156e"/>
<circle cx="838.07" cy="415.60" r="4.1" fill="#61136e"/>
<circle cx="838.07" cy="420.00" r="4.1" fill="#61136e"/>
<circle cx="838.07" cy="421.70" r="4.1" fill="#5a116e"/>
<circle cx="838.07" cy="431.10" r="4.1" fill="#62146e"/>
<circle cx="838.07" cy="435.60" r="4.1" fill="#65156e"/>
<circle cx="838.07" cy="443.90" r="4.1" fill="#57106e"/>
<circle cx="838.07" cy="447.80" r="4.1" fill="#64156e"/>
<circle cx="845.80" cy="311.10" r="4.1" fill="#5a116e"/>
<circle cx="845.80" cy="316.37" r="4.1" fill="#57106e"/>
<circle cx="845.80" cy="323.00" r="4.1" fill="#59106e"/>
<circle cx="845.80" cy="326.70" r="4.1" fill="#61136e"/>
<circle cx="845.80" cy="335.60" r="4.1" fill="#59106e"/>
<circle cx="845.80" cy="353.00" r="4.1" fill="#5a116e"/>
<circle cx="845.80" cy="363.90" r="4.1" fill="#5d126e"/>
<circle cx="845.80" cy="382.80" r="4.1" fill="#57106e"/>
<circle cx="845.80" cy="397.20" r="4.1" fill="#87216b"/>
<circle cx="845.80" cy="417.80" r="4.1" fill="#64156e"/>
<circle cx="845.80" cy="422.46" r="4.1" fill="#5f136e"/>
<circle cx="845.80" cy="427.00" r="4.1" fill="#61136e"/>
<circle cx="845.80" cy="431.00" r="4.1" fill="#59106e"/>
<circle cx="845.80" cy="435.00" r="4.1" fill="#5c126e"/>
<circle cx="853.53" cy="308.90" r="4.1" fill="#57106e"/>
<circle cx="853.53" cy="315.24" r="4.1" fill="#5d126e"/>
<circle cx="853.53" cy="322.00" r="4.1" fill="#65156e"/>
<circle cx="853.53" cy="324.00" r="4.1" fill="#8a226a"/>
<circle cx="853.53" cy="328.49" r="4.1" fill="#67166e"/>
<circle cx="853.53" cy="334.40" r="4.1" fill="#59106e"/>
<circle cx="853.53" cy="344.40" r="4.1" fill="#67166e"/>
<circle cx="853.53" cy="351.70" r="4.1" fill="#5c126e"/>
<circle cx="853.53" cy="375.60" r="4.1" fill="#5c126e"/>
<circle cx="853.53" cy="387.60" r="4.1" fill="#59106e"/>
<circle cx="853.53" cy="400.00" r="4.1" fill="#67166e"/>
<circle cx="853.53" cy="404.40" r="4.1" fill="#64156e"/>
<circle cx="853.53" cy="412.20" r="4.1" fill="#64156e"/>
<circle cx="853.53" cy="417.80" r="4.1" fill="#59106e"/>
<circle cx="853.53" cy="422.00" r="4.1" fill="#61136e"/>
<circle cx="853.53" cy="426.70" r="4.1" fill="#65156e"/>
<circle cx="861.26" cy="303.30" r="4.1" fill="#62146e"/>
<circle cx="861.26" cy="308.88" r="4.1" fill="#61136e"/>
<circle cx="861.26" cy="313.69" r="4.1" fill="#62146e"/>
<circle cx="861.26" cy="320.00" r="4.1" fill="#5d126e"/>
<circle cx="861.26" cy="323.00" r="4.1" fill="#5c126e"/>
<circle cx="861.26" cy="328.23" r="4.1" fill="#5d126e"/>
<circle cx="861.26" cy="332.98" r="4.1" fill="#59106e"/>
<circle cx="861.26" cy="339.00" r="4.1" fill="#59106e"/>
<circle cx="861.26" cy="341.50" r="4.1" fill="#5c126e"/>
<circle cx="861.26" cy="349.40" r="4.1" fill="#5d126e"/>
<circle cx="861.26" cy="372.80" r="4.1" fill="#62146e"/>
<circle cx="861.26" cy="378.90" r="4.1" fill="#57106e"/>
<circle cx="861.26" cy="386.70" r="4.1" fill="#5c126e"/>
<circle cx="861.26" cy="393.30" r="4.1" fill="#5f136e"/>
<circle cx="861.26" cy="403.90" r="4.1" fill="#5f136e"/>
<circle cx="861.26" cy="415.00" r="4.1" fill="#5a116e"/>
<circle cx="868.99" cy="295.00" r="4.1" fill="#64156e"/>
<circle cx="868.99" cy="301.35" r="4.1" fill="#5c126e"/>
<circle cx="868.99" cy="309.00" r="4.1" fill="#67166e"/>
<circle cx="868.99" cy="311.50" r="4.1" fill="#59106e"/>
<circle cx="868.99" cy="317.28" r="4.1" fill="#5d126e"/>
<circle cx="868.99" cy="323.30" r="4.1" fill="#61136e"/>
<circle cx="868.99" cy="354.40" r="4.1" fill="#57106e"/>
<circle cx="868.99" cy="366.70" r="4.1" fill="#5c126e"/>
<circle cx="868.99" cy="378.90" r="4.1" fill="#5c126e"/>
<circle cx="868.99" cy="388.90" r="4.1" fill="#57106e"/>
<circle cx="868.99" cy="395.46" r="4.1" fill="#61136e"/>
<circle cx="868.99" cy="400.36" r="4.1" fill="#62146e"/>
<circle cx="868.99" cy="407.00" r="4.1" fill="#67166e"/>
<circle cx="876.72" cy="287.20" r="4.1" fill="#57106e"/>
<circle cx="876.72" cy="293.36" r="4.1" fill="#5a116e"/>
<circle cx="876.72" cy="300.60" r="4.1" fill="#57106e"/>
<circle cx="876.72" cy="307.00" r="4.1" fill="#67166e"/>
<circle cx="876.72" cy="311.00" r="4.1" fill="#5d126e"/>
<circle cx="876.72" cy="318.42" r="4.1" fill="#64156e"/>
<circle cx="876.72" cy="324.40" r="4.1" fill="#5f136e"/>
<circle cx="876.72" cy="338.30" r="4.1" fill="#8c2369"/>
<circle cx="876.72" cy="356.70" r="4.1" fill="#57106e"/>
<circle cx="876.72" cy="364.40" r="4.1" fill="#62146e"/>
<circle cx="876.72" cy="369.00" r="4.1" fill="#62146e"/>
<circle cx="876.72" cy="375.00" r="4.1" fill="#7d1e6d"/>
<circle cx="876.72" cy="388.90" r="4.1" fill="#5a116e"/>
<circle cx="876.72" cy="393.30" r="4.1" fill="#5a116e"/>
<circle cx="884.45" cy="278.30" r="4.1" fill="#5a116e"/>
<circle cx="884.45" cy="284.47" r="4.1" fill="#5f136e"/>
<circle cx="884.45" cy="290.23" r="4.1" fill="#5d126e"/>
<circle cx="884.45" cy="297.21" r="4.1" fill="#5f136e"/>
<circle cx="884.45" cy="302.50" r="4.1" fill="#8a226a"/>
<circle cx="884.45" cy="305.60" r="4.1" fill="#5f136e"/>
<circle cx="884.45" cy="310.42" r="4.1" fill="#5f136e"/>
<circle cx="884.45" cy="316.70" r="4.1" fill="#5f136e"/>
<circle cx="884.45" cy="322.20" r="4.1" fill="#59106e"/>
<circle cx="884.45" cy="344.40" r="4.1" fill="#5f136e"/>
<circle cx="884.45" cy="356.70" r="4.1" fill="#57106e"/>
<circle cx="884.45" cy="361.00" r="4.1" fill="#82206c"/>
<circle cx="884.45" cy="372.20" r="4.1" fill="#5d126e"/>
<circle cx="884.45" cy="377.50" r="4.1" fill="#65156e"/>
<circle cx="884.45" cy="376.20" r="4.1" fill="#5d126e"/>
<circle cx="892.18" cy="263.90" r="4.1" fill="#ae305c"/>
<circle cx="892.18" cy="290.00" r="4.1" fill="#5f136e"/>
<circle cx="892.18" cy="268.90" r="4.1" fill="#57106e"/>
<circle cx="892.18" cy="276.17" r="4.1" fill="#5d126e"/>
<circle cx="892.18" cy="281.96" r="4.1" fill="#59106e"/>
<circle cx="892.18" cy="289.00" r="4.1" fill="#5d126e"/>
<circle cx="892.18" cy="293.00" r="4.1" fill="#65156e"/>
<circle cx="892.18" cy="296.70" r="4.1" fill="#59106e"/>
<circle cx="892.18" cy="301.00" r="4.1" fill="#5a116e"/>
<circle cx="892.18" cy="306.58" r="4.1" fill="#5c126e"/>
<circle cx="892.18" cy="312.69" r="4.1" fill="#59106e"/>
<circle cx="892.18" cy="319.14" r="4.1" fill="#64156e"/>
<circle cx="892.18" cy="325.60" r="4.1" fill="#67166e"/>
<circle cx="892.18" cy="332.20" r="4.1" fill="#5c126e"/>
<circle cx="892.18" cy="338.90" r="4.1" fill="#5a116e"/>
<circle cx="892.18" cy="347.80" r="4.1" fill="#5c126e"/>
<circle cx="892.18" cy="352.00" r="4.1" fill="#5f136e"/>
<circle cx="892.18" cy="358.31" r="4.1" fill="#61136e"/>
<circle cx="892.18" cy="363.09" r="4.1" fill="#5c126e"/>
<circle cx="892.18" cy="369.40" r="4.1" fill="#64156e"/>
<circle cx="899.91" cy="285.60" r="4.1" fill="#65156e"/>
<circle cx="899.91" cy="261.70" r="4.1" fill="#84206b"/>
<circle cx="899.91" cy="268.09" r="4.1" fill="#67166e"/>
<circle cx="899.91" cy="274.44" r="4.1" fill="#5a116e"/>
<circle cx="899.91" cy="280.28" r="4.1" fill="#61136e"/>
<circle cx="899.91" cy="286.82" r="4.1" fill="#5f136e"/>
<circle cx="899.91" cy="293.00" r="4.1" fill="#64156e"/>
<circle cx="899.91" cy="297.50" r="4.1" fill="#5f136e"/>
<circle cx="899.91" cy="300.50" r="4.1" fill="#5d126e"/>
<circle cx="899.91" cy="305.60" r="4.1" fill="#57106e"/>
<circle cx="899.91" cy="321.10" r="4.1" fill="#5d126e"/>
<circle cx="899.91" cy="330.60" r="4.1" fill="#801f6c"/>
<circle cx="899.91" cy="340.00" r="4.1" fill="#5a116e"/>
<circle cx="899.91" cy="348.90" r="4.1" fill="#57106e"/>
<circle cx="907.64" cy="251.70" r="4.1" fill="#5a116e"/>
<circle cx="907.64" cy="257.25" r="4.1" fill="#67166e"/>
<circle cx="907.64" cy="263.50" r="4.1" fill="#59106e"/>
<circle cx="907.64" cy="269.98" r="4.1" fill="#5f136e"/>
<circle cx="907.64" cy="276.70" r="4.1" fill="#5a116e"/>
<circle cx="907.64" cy="285.60" r="4.1" fill="#57106e"/>
<circle cx="907.64" cy="295.00" r="4.1" fill="#64156e"/>
<circle cx="907.64" cy="308.90" r="4.1" fill="#5f136e"/>
<circle cx="907.64" cy="317.80" r="4.1" fill="#62146e"/>
<circle cx="907.64" cy="331.70" r="4.1" fill="#62146e"/>
<circle cx="907.64" cy="336.70" r="4.1" fill="#62146e"/>
<circle cx="915.37" cy="240.60" r="4.1" fill="#61136e"/>
<circle cx="915.37" cy="246.72" r="4.1" fill="#61136e"/>
<circle cx="915.37" cy="252.15" r="4.1" fill="#59106e"/>
<circle cx="915.37" cy="257.80" r="4.1" fill="#57106e"/>
<circle cx="915.37" cy="264.07" r="4.1" fill="#67166e"/>
<circle cx="915.37" cy="269.69" r="4.1" fill="#5c126e"/>
<circle cx="915.37" cy="275.60" r="4.1" fill="#62146e"/>
<circle cx="915.37" cy="286.70" r="4.1" fill="#57106e"/>
<circle cx="915.37" cy="294.40" r="4.1" fill="#5c126e"/>
<circle cx="915.37" cy="298.50" r="4.1" fill="#64156e"/>
<circle cx="915.37" cy="307.80" r="4.1" fill="#67166e"/>
<circle cx="915.37" cy="312.20" r="4.1" fill="#62146e"/>
<circle cx="915.37" cy="316.70" r="4.1" fill="#5f136e"/>
<circle cx="915.37" cy="321.00" r="4.1" fill="#64156e"/>
<circle cx="915.37" cy="325.60" r="4.1" fill="#59106e"/>
<circle cx="923.10" cy="231.70" r="4.1" fill="#5d126e"/>
<circle cx="923.10" cy="240.00" r="4.1" fill="#61136e"/>
<circle cx="923.10" cy="245.60" r="4.1" fill="#59106e"/>
<circle cx="923.10" cy="251.10" r="4.1" fill="#57106e"/>
<circle cx="923.10" cy="255.60" r="4.1" fill="#65156e"/>
<circle cx="923.10" cy="260.55" r="4.1" fill="#62146e"/>
<circle cx="923.10" cy="266.62" r="4.1" fill="#64156e"/>
<circle cx="923.10" cy="271.74" r="4.1" fill="#64156e"/>
<circle cx="923.10" cy="276.70" r="4.1" fill="#64156e"/>
<circle cx="923.10" cy="278.90" r="4.1" fill="#57106e"/>
<circle cx="923.10" cy="284.59" r="4.1" fill="#62146e"/>
<circle cx="923.10" cy="291.10" r="4.1" fill="#67166e"/>
<circle cx="923.10" cy="293.00" r="4.1" fill="#5d126e"/>
<circle cx="923.10" cy="302.20" r="4.1" fill="#61136e"/>
<circle cx="923.10" cy="307.80" r="4.1" fill="#61136e"/>
<circle cx="923.10" cy="311.30" r="4.1" fill="#65156e"/>
<circle cx="923.10" cy="315.60" r="4.1" fill="#65156e"/>
<circle cx="930.83" cy="220.60" r="4.1" fill="#61136e"/>
<circle cx="930.83" cy="228.22" r="4.1" fill="#65156e"/>
<circle cx="930.83" cy="235.60" r="4.1" fill="#62146e"/>
<circle cx="930.83" cy="240.00" r="4.1" fill="#62146e"/>
<circle cx="930.83" cy="251.10" r="4.1" fill="#64156e"/>
<circle cx="930.83" cy="262.80" r="4.1" fill="#7c1d6d"/>
<circle cx="930.83" cy="275.60" r="4.1" fill="#67166e"/>
<circle cx="930.83" cy="280.92" r="4.1" fill="#5c126e"/>
<circle cx="930.83" cy="286.75" r="4.1" fill="#5d126e"/>
<circle cx="930.83" cy="291.79" r="4.1" fill="#5f136e"/>
<circle cx="930.83" cy="296.70" r="4.1" fill="#61136e"/>
<circle cx="930.83" cy="299.80" r="4.1" fill="#5f136e"/>
<circle cx="930.83" cy="304.40" r="4.1" fill="#59106e"/>
<circle cx="930.83" cy="309.00" r="4.1" fill="#65156e"/>
<circle cx="938.56" cy="207.80" r="4.1" fill="#59106e"/>
<circle cx="938.56" cy="213.02" r="4.1" fill="#61136e"/>
<circle cx="938.56" cy="219.69" r="4.1" fill="#5c126e"/>
<circle cx="938.56" cy="223.87" r="4.1" fill="#57106e"/>
<circle cx="938.56" cy="229.91" r="4.1" fill="#5f136e"/>
<circle cx="938.56" cy="235.60" r="4.1" fill="#5c126e"/>
<circle cx="938.56" cy="238.90" r="4.1" fill="#64156e"/>
<circle cx="938.56" cy="243.30" r="4.1" fill="#61136e"/>
<circle cx="938.56" cy="250.41" r="4.1" fill="#57106e"/>
<circle cx="938.56" cy="256.70" r="4.1" fill="#62146e"/>
<circle cx="938.56" cy="275.60" r="4.1" fill="#64156e"/>
<circle cx="938.56" cy="280.60" r="4.1" fill="#61136e"/>
<circle cx="938.56" cy="296.10" r="4.1" fill="#59106e"/>
<circle cx="946.29" cy="200.60" r="4.1" fill="#5f136e"/>
<circle cx="946.29" cy="230.00" r="4.1" fill="#65156e"/>
<circle cx="946.29" cy="212.20" r="4.1" fill="#5f136e"/>
<circle cx="946.29" cy="218.89" r="4.1" fill="#62146e"/>
<circle cx="946.29" cy="226.70" r="4.1" fill="#59106e"/>
<circle cx="946.29" cy="233.00" r="4.1" fill="#62146e"/>
<circle cx="946.29" cy="238.00" r="4.1" fill="#5d126e"/>
<circle cx="946.29" cy="242.80" r="4.1" fill="#5d126e"/>
<circle cx="946.29" cy="246.70" r="4.1" fill="#65156e"/>
<circle cx="946.29" cy="251.85" r="4.1" fill="#57106e"/>
<circle cx="946.29" cy="256.30" r="4.1" fill="#65156e"/>
<circle cx="946.29" cy="262.20" r="4.1" fill="#64156e"/>
<circle cx="946.29" cy="264.40" r="4.1" fill="#59106e"/>
<circle cx="946.29" cy="273.30" r="4.1" fill="#5a116e"/>
<circle cx="946.29" cy="278.90" r="4.1" fill="#57106e"/>
<circle cx="954.02" cy="181.70" r="4.1" fill="#65156e"/>
<circle cx="954.02" cy="187.22" r="4.1" fill="#5d126e"/>
<circle cx="954.02" cy="192.20" r="4.1" fill="#61136e"/>
<circle cx="954.02" cy="200.00" r="4.1" fill="#5c126e"/>
<circle cx="954.02" cy="206.36" r="4.1" fill="#5f136e"/>
<circle cx="954.02" cy="211.98" r="4.1" fill="#5f136e"/>
<circle cx="954.02" cy="218.40" r="4.1" fill="#5f136e"/>
<circle cx="954.02" cy="223.44" r="4.1" fill="#5a116e"/>
<circle cx="954.02" cy="229.98" r="4.1" fill="#61136e"/>
<circle cx="954.02" cy="235.60" r="4.1" fill="#62146e"/>
<circle cx="954.02" cy="246.70" r="4.1" fill="#5d126e"/>
<circle cx="954.02" cy="252.00" r="4.1" fill="#5d126e"/>
<circle cx="954.02" cy="258.30" r="4.1" fill="#87216b"/>
<circle cx="954.02" cy="267.80" r="4.1" fill="#61136e"/>
<circle cx="954.02" cy="273.00" r="4.1" fill="#61136e"/>
<circle cx="961.75" cy="170.00" r="4.1" fill="#5d126e"/>
<circle cx="961.75" cy="177.80" r="4.1" fill="#64156e"/>
<circle cx="961.75" cy="186.00" r="4.1" fill="#57106e"/>
<circle cx="961.75" cy="201.50" r="4.1" fill="#59106e"/>
<circle cx="961.75" cy="207.15" r="4.1" fill="#62146e"/>
<circle cx="961.75" cy="212.50" r="4.1" fill="#5f136e"/>
<circle cx="961.75" cy="221.70" r="4.1" fill="#5f136e"/>
<circle cx="961.75" cy="232.00" r="4.1" fill="#67166e"/>
<circle cx="961.75" cy="238.00" r="4.1" fill="#5d126e"/>
<circle cx="961.75" cy="242.00" r="4.1" fill="#5c126e"/>
<circle cx="961.75" cy="252.50" r="4.1" fill="#5f136e"/>
<circle cx="961.75" cy="256.50" r="4.1" fill="#5f136e"/>
<circle cx="961.75" cy="261.73" r="4.1" fill="#751b6e"/>
<circle cx="961.75" cy="266.70" r="4.1" fill="#5a116e"/>
<circle cx="969.48" cy="157.80" r="4.1" fill="#67166e"/>
<circle cx="969.48" cy="166.00" r="4.1" fill="#5a116e"/>
<circle cx="969.48" cy="171.28" r="4.1" fill="#65156e"/>
<circle cx="969.48" cy="176.70" r="4.1" fill="#7c1d6d"/>
<circle cx="969.48" cy="186.70" r="4.1" fill="#64156e"/>
<circle cx="969.48" cy="190.80" r="4.1" fill="#5c126e"/>
<circle cx="969.48" cy="202.50" r="4.1" fill="#7c1d6d"/>
<circle cx="969.48" cy="217.00" r="4.1" fill="#87216b"/>
<circle cx="969.48" cy="199.00" r="4.1" fill="#57106e"/>
<circle cx="969.48" cy="205.67" r="4.1" fill="#67166e"/>
<circle cx="969.48" cy="211.96" r="4.1" fill="#64156e"/>
<circle cx="969.48" cy="217.33" r="4.1" fill="#65156e"/>
<circle cx="969.48" cy="223.76" r="4.1" fill="#61136e"/>
<circle cx="969.48" cy="228.92" r="4.1" fill="#57106e"/>
<circle cx="969.48" cy="236.07" r="4.1" fill="#5d126e"/>
<circle cx="969.48" cy="242.11" r="4.1" fill="#57106e"/>
<circle cx="969.48" cy="248.00" r="4.1" fill="#57106e"/>
<circle cx="969.48" cy="251.90" r="4.1" fill="#61136e"/>
<circle cx="977.21" cy="152.80" r="4.1" fill="#67166e"/>
<circle cx="977.21" cy="172.20" r="4.1" fill="#5d126e"/>
<circle cx="977.21" cy="178.56" r="4.1" fill="#59106e"/>
<circle cx="977.21" cy="183.85" r="4.1" fill="#59106e"/>
<circle cx="977.21" cy="188.90" r="4.1" fill="#65156e"/>
<circle cx="977.21" cy="207.50" r="4.1" fill="#5a116e"/>
<circle cx="977.21" cy="213.03" r="4.1" fill="#59106e"/>
<circle cx="977.21" cy="219.07" r="4.1" fill="#62146e"/>
<circle cx="977.21" cy="225.39" r="4.1" fill="#62146e"/>
<circle cx="977.21" cy="231.00" r="4.1" fill="#57106e"/>
<circle cx="977.21" cy="234.40" r="4.1" fill="#5f136e"/>
<circle cx="977.21" cy="240.00" r="4.1" fill="#67166e"/>
<circle cx="977.21" cy="247.20" r="4.1" fill="#65156e"/>
<circle cx="977.21" cy="258.30" r="4.1" fill="#62146e"/>
<circle cx="984.94" cy="137.80" r="4.1" fill="#65156e"/>
<circle cx="984.94" cy="160.00" r="4.1" fill="#64156e"/>
<circle cx="984.94" cy="145.00" r="4.1" fill="#59106e"/>
<circle cx="984.94" cy="150.24" r="4.1" fill="#64156e"/>
<circle cx="984.94" cy="157.00" r="4.1" fill="#57106e"/>
<circle cx="984.94" cy="175.60" r="4.1" fill="#59106e"/>
<circle cx="984.94" cy="183.30" r="4.1" fill="#5d126e"/>
<circle cx="984.94" cy="189.40" r="4.1" fill="#62146e"/>
<circle cx="984.94" cy="196.00" r="4.1" fill="#5f136e"/>
<circle cx="984.94" cy="203.30" r="4.1" fill="#67166e"/>
<circle cx="984.94" cy="216.70" r="4.1" fill="#62146e"/>
<circle cx="984.94" cy="222.79" r="4.1" fill="#5c126e"/>
<circle cx="984.94" cy="229.00" r="4.1" fill="#59106e"/>
<circle cx="984.94" cy="232.00" r="4.1" fill="#64156e"/>
<circle cx="984.94" cy="236.00" r="4.1" fill="#5c126e"/>
<circle cx="984.94" cy="240.00" r="4.1" fill="#65156e"/>
<circle cx="984.94" cy="245.60" r="4.1" fill="#57106e"/>
<circle cx="992.67" cy="141.50" r="4.1" fill="#5a116e"/>
<circle cx="992.67" cy="160.60" r="4.1" fill="#5c126e"/>
<circle cx="992.67" cy="166.00" r="4.1" fill="#67166e"/>
<circle cx="992.67" cy="180.30" r="4.1" fill="#59106e"/>
<circle cx="992.67" cy="186.34" r="4.1" fill="#5a116e"/>
<circle cx="992.67" cy="192.82" r="4.1" fill="#62146e"/>
<circle cx="992.67" cy="200.00" r="4.1" fill="#67166e"/>
<circle cx="992.67" cy="203.60" r="4.1" fill="#5c126e"/>
<circle cx="992.67" cy="208.00" r="4.1" fill="#59106e"/>
<circle cx="992.67" cy="213.18" r="4.1" fill="#5f136e"/>
<circle cx="992.67" cy="220.20" r="4.1" fill="#5f136e"/>
<circle cx="992.67" cy="225.06" r="4.1" fill="#57106e"/>
<circle cx="992.67" cy="231.13" r="4.1" fill="#62146e"/>
<circle cx="992.67" cy="237.24" r="4.1" fill="#59106e"/>
<circle cx="992.67" cy="243.30" r="4.1" fill="#61136e"/>
<circle cx="1000.40" cy="126.50" r="4.1" fill="#5f136e"/>
<circle cx="1000.40" cy="132.80" r="4.1" fill="#67166e"/>
<circle cx="1000.40" cy="137.30" r="4.1" fill="#62146e"/>
<circle cx="1000.40" cy="147.80" r="4.1" fill="#67166e"/>
<circle cx="1000.40" cy="151.70" r="4.1" fill="#62146e"/>
<circle cx="1000.40" cy="156.70" r="4.1" fill="#5a116e"/>
<circle cx="1000.40" cy="159.60" r="4.1" fill="#5a116e"/>
<circle cx="1000.40" cy="177.80" r="4.1" fill="#62146e"/>
<circle cx="1000.40" cy="183.94" r="4.1" fill="#5f136e"/>
<circle cx="1000.40" cy="188.90" r="4.1" fill="#62146e"/>
<circle cx="1000.40" cy="196.50" r="4.1" fill="#7d1e6d"/>
<circle cx="1000.40" cy="201.00" r="4.1" fill="#5f136e"/>
<circle cx="1000.40" cy="225.60" r="4.1" fill="#5d126e"/>
<circle cx="1000.40" cy="213.30" r="4.1" fill="#5c126e"/>
<circle cx="1000.40" cy="217.98" r="4.1" fill="#5d126e"/>
<circle cx="1000.40" cy="224.00" r="4.1" fill="#5f136e"/>
<circle cx="1000.40" cy="229.00" r="4.1" fill="#61136e"/>
<circle cx="1000.40" cy="235.52" r="4.1" fill="#7d1e6d"/>
<circle cx="1000.40" cy="242.20" r="4.1" fill="#67166e"/>
<circle cx="1008.13" cy="121.80" r="4.1" fill="#5f136e"/>
<circle cx="1008.13" cy="131.70" r="4.1" fill="#65156e"/>
<circle cx="1008.13" cy="135.80" r="4.1" fill="#65156e"/>
<circle cx="1008.13" cy="162.00" r="4.1" fill="#59106e"/>
<circle cx="1008.13" cy="170.00" r="4.1" fill="#5d126e"/>
<circle cx="1008.13" cy="174.78" r="4.1" fill="#67166e"/>
<circle cx="1008.13" cy="179.40" r="4.1" fill="#5c126e"/>
<circle cx="1008.13" cy="194.60" r="4.1" fill="#5c126e"/>
<circle cx="1008.13" cy="205.00" r="4.1" fill="#57106e"/>
<circle cx="1008.13" cy="212.08" r="4.1" fill="#65156e"/>
<circle cx="1008.13" cy="218.44" r="4.1" fill="#64156e"/>
<circle cx="1008.13" cy="224.40" r="4.1" fill="#5f136e"/>
<circle cx="1008.13" cy="228.90" r="4.1" fill="#62146e"/>
<circle cx="1008.13" cy="233.00" r="4.1" fill="#61136e"/>
<circle cx="1008.13" cy="238.90" r="4.1" fill="#62146e"/>
<circle cx="1015.86" cy="125.70" r="4.1" fill="#5a116e"/>
<circle cx="1015.86" cy="151.00" r="4.1" fill="#65156e"/>
<circle cx="1015.86" cy="155.00" r="4.1" fill="#82206c"/>
<circle cx="1015.86" cy="159.60" r="4.1" fill="#5f136e"/>
<circle cx="1015.86" cy="192.50" r="4.1" fill="#57106e"/>
<circle cx="1015.86" cy="227.00" r="4.1" fill="#61136e"/>
<circle cx="1015.86" cy="204.40" r="4.1" fill="#61136e"/>
<circle cx="1015.86" cy="211.52" r="4.1" fill="#57106e"/>
<circle cx="1015.86" cy="217.11" r="4.1" fill="#59106e"/>
<circle cx="1015.86" cy="224.00" r="4.1" fill="#65156e"/>
<circle cx="1015.86" cy="231.00" r="4.1" fill="#65156e"/>
<circle cx="1023.59" cy="111.50" r="4.1" fill="#64156e"/>
<circle cx="1023.59" cy="123.00" r="4.1" fill="#59106e"/>
<circle cx="1023.59" cy="129.00" r="4.1" fill="#64156e"/>
<circle cx="1023.59" cy="135.70" r="4.1" fill="#5d126e"/>
<circle cx="1023.59" cy="186.80" r="4.1" fill="#5c126e"/>
<circle cx="1023.59" cy="190.90" r="4.1" fill="#65156e"/>
<circle cx="1023.59" cy="201.30" r="4.1" fill="#64156e"/>
<circle cx="1023.59" cy="205.50" r="4.1" fill="#781c6d"/>
<circle cx="1023.59" cy="218.40" r="4.1" fill="#5d126e"/>
<circle cx="1023.59" cy="223.26" r="4.1" fill="#5d126e"/>
<circle cx="1023.59" cy="228.40" r="4.1" fill="#57106e"/>
<circle cx="1031.32" cy="103.30" r="4.1" fill="#5f136e"/>
<circle cx="1031.32" cy="108.30" r="4.1" fill="#5c126e"/>
<circle cx="1031.32" cy="141.70" r="4.1" fill="#801f6c"/>
<circle cx="1031.32" cy="139.30" r="4.1" fill="#801f6c"/>
<circle cx="1031.32" cy="172.00" r="4.1" fill="#67166e"/>
<circle cx="1031.32" cy="176.00" r="4.1" fill="#67166e"/>
<circle cx="1031.32" cy="185.50" r="4.1" fill="#59106e"/>
<circle cx="1031.32" cy="207.00" r="4.1" fill="#64156e"/>
<circle cx="1031.32" cy="212.20" r="4.1" fill="#62146e"/>
<circle cx="1031.32" cy="216.70" r="4.1" fill="#62146e"/>
<circle cx="1031.32" cy="223.00" r="4.1" fill="#62146e"/>
<circle cx="1031.32" cy="226.70" r="4.1" fill="#61136e"/>
<circle cx="1031.32" cy="232.20" r="4.1" fill="#57106e"/>
<circle cx="1039.05" cy="93.30" r="4.1" fill="#61136e"/>
<circle cx="1039.05" cy="187.00" r="4.1" fill="#61136e"/>
<circle cx="1039.05" cy="200.70" r="4.1" fill="#5c126e"/>
<circle cx="1039.05" cy="204.50" r="4.1" fill="#5c126e"/>
<circle cx="1039.05" cy="210.00" r="4.1" fill="#5a116e"/>
<circle cx="1039.05" cy="218.40" r="4.1" fill="#61136e"/>
<circle cx="1039.05" cy="222.50" r="4.1" fill="#61136e"/>
<circle cx="1039.05" cy="226.00" r="4.1" fill="#5c126e"/>
<circle cx="1046.78" cy="91.20" r="4.1" fill="#67166e"/>
<circle cx="1046.78" cy="88.30" r="4.1" fill="#64156e"/>
<circle cx="1046.78" cy="200.00" r="4.1" fill="#5c126e"/>
<circle cx="1046.78" cy="202.00" r="4.1" fill="#61136e"/>
<circle cx="1046.78" cy="204.20" r="4.1" fill="#61136e"/>
<circle cx="1046.78" cy="217.00" r="4.1" fill="#5d126e"/>
<circle cx="1046.78" cy="221.52" r="4.1" fill="#65156e"/>
<circle cx="1046.78" cy="226.50" r="4.1" fill="#5d126e"/>
<circle cx="1054.51" cy="129.10" r="4.1" fill="#62146e"/>
<circle cx="1054.51" cy="151.70" r="4.1" fill="#57106e"/>
<circle cx="1054.51" cy="167.20" r="4.1" fill="#5f136e"/>
<circle cx="1054.51" cy="171.70" r="4.1" fill="#5a116e"/>
<circle cx="1054.51" cy="195.70" r="4.1" fill="#67166e"/>
<circle cx="1054.51" cy="209.70" r="4.1" fill="#65156e"/>
<circle cx="1054.51" cy="218.00" r="4.1" fill="#5d126e"/>
<circle cx="1054.51" cy="222.20" r="4.1" fill="#5a116e"/>
<circle cx="1062.24" cy="90.00" r="4.1" fill="#5d126e"/>
<circle cx="1062.24" cy="148.30" r="4.1" fill="#5f136e"/>
<circle cx="1062.24" cy="157.90" r="4.1" fill="#5f136e"/>
<circle cx="1062.24" cy="213.30" r="4.1" fill="#57106e"/>
<circle cx="1062.24" cy="220.60" r="4.1" fill="#932667"/>
<circle cx="1069.97" cy="120.90" r="4.1" fill="#65156e"/>
<circle cx="1069.97" cy="146.00" r="4.1" fill="#5d126e"/>
<circle cx="1069.97" cy="156.70" r="4.1" fill="#5a116e"/>
<circle cx="1069.97" cy="197.20" r="4.1" fill="#57106e"/>
<circle cx="1069.97" cy="211.10" r="4.1" fill="#5a116e"/>
<circle cx="1069.97" cy="217.80" r="4.1" fill="#61136e"/>
<circle cx="1077.70" cy="88.90" r="4.1" fill="#64156e"/>
<circle cx="1077.70" cy="91.70" r="4.1" fill="#65156e"/>
<circle cx="1077.70" cy="154.50" r="4.1" fill="#62146e"/>
<circle cx="1077.70" cy="187.20" r="4.1" fill="#62146e"/>
<circle cx="1077.70" cy="193.60" r="4.1" fill="#5c126e"/>
<circle cx="1077.70" cy="211.70" r="4.1" fill="#59106e"/>
<circle cx="1085.43" cy="58.30" r="4.1" fill="#5f136e"/>
<circle cx="1085.43" cy="130.60" r="4.1" fill="#781c6d"/>
<circle cx="1085.43" cy="181.10" r="4.1" fill="#8a226a"/>
<circle cx="1085.43" cy="187.20" r="4.1" fill="#5a116e"/>
<circle cx="1085.43" cy="207.20" r="4.1" fill="#5a116e"/>
<circle cx="1085.43" cy="213.30" r="4.1" fill="#62146e"/>
<circle cx="1093.16" cy="207.40" r="4.1" fill="#61136e"/>
<circle cx="1100.89" cy="214.70" r="4.1" fill="#5f136e"/>
<circle cx="1108.62" cy="211.70" r="4.1" fill="#5c126e"/>
<circle cx="1116.35" cy="185.00" r="4.1" fill="#67166e"/>
<circle cx="1116.35" cy="208.00" r="4.1" fill="#62146e"/>
<circle cx="1124.08" cy="208.60" r="4.1" fill="#61136e"/>
<circle cx="1139.54" cy="208.00" r="4.1" fill="#62146e"/>
<rect x="726.20" y="35.30" width="432.70" height="519.70" fill="none" stroke="#262626" stroke-width="1.3"/>
<line x1="768.50" x2="768.50" y1="555.00" y2="560.00" stroke="#2b2b2b" stroke-width="1.3"/>
<text x="768.50" y="575.70" font-size="15.5" fill="#4d4d4d" text-anchor="middle">50</text>
<line x1="845.80" x2="845.80" y1="555.00" y2="560.00" stroke="#2b2b2b" stroke-width="1.3"/>
<text x="845.80" y="575.70" font-size="15.5" fill="#4d4d4d" text-anchor="middle">60</text>
<line x1="923.10" x2="923.10" y1="555.00" y2="560.00" stroke="#2b2b2b" stroke-width="1.3"/>
<text x="923.10" y="575.70" font-size="15.5" fill="#4d4d4d" text-anchor="middle">70</text>
<line x1="1000.40" x2="1000.40" y1="555.00" y2="560.00" stroke="#2b2b2b" stroke-width="1.3"/>
<text x="1000.40" y="575.70" font-size="15.5" fill="#4d4d4d" text-anchor="middle">80</text>
<line x1="1077.70" x2="1077.70" y1="555.00" y2="560.00" stroke="#2b2b2b" stroke-width="1.3"/>
<text x="1077.70" y="575.70" font-size="15.5" fill="#4d4d4d" text-anchor="middle">90</text>
<line x1="1155.00" x2="1155.00" y1="555.00" y2="560.00" stroke="#2b2b2b" stroke-width="1.3"/>
<text x="1155.00" y="575.70" font-size="15.5" fill="#4d4d4d" text-anchor="middle">100</text>
<line x1="721.20" x2="726.20" y1="125.30" y2="125.30" stroke="#2b2b2b" stroke-width="1.3"/>
<text x="717.70" y="130.70" font-size="15.5" fill="#4d4d4d" text-anchor="end">0.4</text>
<line x1="721.20" x2="726.20" y1="278.80" y2="278.80" stroke="#2b2b2b" stroke-width="1.3"/>
<text x="717.70" y="284.20" font-size="15.5" fill="#4d4d4d" text-anchor="end">0.0</text>
<line x1="721.20" x2="726.20" y1="432.30" y2="432.30" stroke="#2b2b2b" stroke-width="1.3"/>
<text x="717.70" y="437.70" font-size="15.5" fill="#4d4d4d" text-anchor="end">−0.4</text>
<text x="942.55" y="595.80" font-size="18.8" fill="#000" text-anchor="middle">Age</text>
<text transform="translate(678.80,295.15) rotate(-90)" font-size="18.8" fill="#000" text-anchor="middle">SHAP value</text>
<text x="942.55" y="20.70" font-size="22.1" font-weight="bold" fill="#000" text-anchor="middle">Logistic</text>
<text x="638.3" y="19.70" font-size="22.4" fill="#000">B</text>
<text x="1187.00" y="222.90" font-size="18.8" fill="#000">ALP</text>
<rect x="1187.00" y="234.90" width="30" height="147.20" fill="url(#inf)"/>
<line x1="1187.00" x2="1193.00" y1="272.10" y2="272.10" stroke="#fff" stroke-width="0.9" opacity="0.85"/>
<line x1="1211.00" x2="1217.00" y1="272.10" y2="272.10" stroke="#fff" stroke-width="0.9" opacity="0.85"/>
<text x="1226.40" y="277.40" font-size="15.1" fill="#000">900</text>
<line x1="1187.00" x2="1193.00" y1="309.50" y2="309.50" stroke="#fff" stroke-width="0.9" opacity="0.85"/>
<line x1="1211.00" x2="1217.00" y1="309.50" y2="309.50" stroke="#fff" stroke-width="0.9" opacity="0.85"/>
<text x="1226.40" y="314.80" font-size="15.1" fill="#000">600</text>
<line x1="1187.00" x2="1193.00" y1="347.30" y2="347.30" stroke="#fff" stroke-width="0.9" opacity="0.85"/>
<line x1="1211.00" x2="1217.00" y1="347.30" y2="347.30" stroke="#fff" stroke-width="0.9" opacity="0.85"/>
<text x="1226.40" y="352.60" font-size="15.1" fill="#000">300</text>
</g>
<g>
<line x1="1365.62" x2="1365.62" y1="35.30" y2="555.00" stroke="#f0f0f0" stroke-width="0.8"/>
<line x1="1442.97" x2="1442.97" y1="35.30" y2="555.00" stroke="#f0f0f0" stroke-width="0.8"/>
<line x1="1520.33" x2="1520.33" y1="35.30" y2="555.00" stroke="#f0f0f0" stroke-width="0.8"/>
<line x1="1597.67" x2="1597.67" y1="35.30" y2="555.00" stroke="#f0f0f0" stroke-width="0.8"/>
<line x1="1675.03" x2="1675.03" y1="35.30" y2="555.00" stroke="#f0f0f0" stroke-width="0.8"/>
<line x1="1752.38" x2="1752.38" y1="35.30" y2="555.00" stroke="#f0f0f0" stroke-width="0.8"/>
<line x1="1361.80" x2="1795.10" y1="48.55" y2="48.55" stroke="#f0f0f0" stroke-width="0.8"/>
<line x1="1361.80" x2="1795.10" y1="202.05" y2="202.05" stroke="#f0f0f0" stroke-width="0.8"/>
<line x1="1361.80" x2="1795.10" y1="355.55" y2="355.55" stroke="#f0f0f0" stroke-width="0.8"/>
<line x1="1361.80" x2="1795.10" y1="509.05" y2="509.05" stroke="#f0f0f0" stroke-width="0.8"/>
<line x1="1404.30" x2="1404.30" y1="35.30" y2="555.00" stroke="#e8e8e8" stroke-width="1.4"/>
<line x1="1481.65" x2="1481.65" y1="35.30" y2="555.00" stroke="#e8e8e8" stroke-width="1.4"/>
<line x1="1559.00" x2="1559.00" y1="35.30" y2="555.00" stroke="#e8e8e8" stroke-width="1.4"/>
<line x1="1636.35" x2="1636.35" y1="35.30" y2="555.00" stroke="#e8e8e8" stroke-width="1.4"/>
<line x1="1713.70" x2="1713.70" y1="35.30" y2="555.00" stroke="#e8e8e8" stroke-width="1.4"/>
<line x1="1791.05" x2="1791.05" y1="35.30" y2="555.00" stroke="#e8e8e8" stroke-width="1.4"/>
<line x1="1361.80" x2="1795.10" y1="125.30" y2="125.30" stroke="#e8e8e8" stroke-width="1.4"/>
<line x1="1361.80" x2="1795.10" y1="278.80" y2="278.80" stroke="#e8e8e8" stroke-width="1.4"/>
<line x1="1361.80" x2="1795.10" y1="432.30" y2="432.30" stroke="#e8e8e8" stroke-width="1.4"/>
<circle cx="1381.10" cy="525.30" r="4.1" fill="#932667"/>
<circle cx="1381.10" cy="532.20" r="4.1" fill="#8c2369"/>
<circle cx="1404.30" cy="342.00" r="4.1" fill="#d74b3f"/>
<circle cx="1404.30" cy="381.10" r="4.1" fill="#a52c60"/>
<circle cx="1404.30" cy="393.90" r="4.1" fill="#5c126e"/>
<circle cx="1404.30" cy="466.40" r="4.1" fill="#5c126e"/>
<circle cx="1404.30" cy="465.20" r="4.1" fill="#751b6e"/>
<circle cx="1404.30" cy="458.90" r="4.1" fill="#c13a50"/>
<circle cx="1404.30" cy="521.30" r="4.1" fill="#a22b62"/>
<circle cx="1412.03" cy="356.70" r="4.1" fill="#cc4248"/>
<circle cx="1412.03" cy="363.30" r="4.1" fill="#9a2865"/>
<circle cx="1412.03" cy="388.30" r="4.1" fill="#5d126e"/>
<circle cx="1412.03" cy="425.00" r="4.1" fill="#6f196e"/>
<circle cx="1412.03" cy="485.80" r="4.1" fill="#9b2964"/>
<circle cx="1412.03" cy="507.40" r="4.1" fill="#952667"/>
<circle cx="1419.77" cy="347.20" r="4.1" fill="#85216b"/>
<circle cx="1419.77" cy="355.00" r="4.1" fill="#c33b4f"/>
<circle cx="1419.77" cy="362.20" r="4.1" fill="#9f2a63"/>
<circle cx="1419.77" cy="387.80" r="4.1" fill="#d34743"/>
<circle cx="1419.77" cy="391.70" r="4.1" fill="#71196e"/>
<circle cx="1419.77" cy="395.60" r="4.1" fill="#a22b62"/>
<circle cx="1419.77" cy="419.40" r="4.1" fill="#9a2865"/>
<circle cx="1419.77" cy="423.00" r="4.1" fill="#85216b"/>
<circle cx="1419.77" cy="446.70" r="4.1" fill="#d34743"/>
<circle cx="1419.77" cy="460.20" r="4.1" fill="#771c6d"/>
<circle cx="1419.77" cy="466.10" r="4.1" fill="#65156e"/>
<circle cx="1427.50" cy="341.30" r="4.1" fill="#a62d60"/>
<circle cx="1427.50" cy="348.90" r="4.1" fill="#8f2469"/>
<circle cx="1427.50" cy="359.40" r="4.1" fill="#721a6e"/>
<circle cx="1427.50" cy="364.40" r="4.1" fill="#85216b"/>
<circle cx="1427.50" cy="377.20" r="4.1" fill="#a22b62"/>
<circle cx="1427.50" cy="382.20" r="4.1" fill="#771c6d"/>
<circle cx="1427.50" cy="391.10" r="4.1" fill="#8c2369"/>
<circle cx="1427.50" cy="402.20" r="4.1" fill="#8c2369"/>
<circle cx="1427.50" cy="416.10" r="4.1" fill="#902568"/>
<circle cx="1427.50" cy="429.40" r="4.1" fill="#972766"/>
<circle cx="1427.50" cy="434.40" r="4.1" fill="#9d2964"/>
<circle cx="1427.50" cy="441.70" r="4.1" fill="#952667"/>
<circle cx="1427.50" cy="462.40" r="4.1" fill="#741a6e"/>
<circle cx="1427.50" cy="478.90" r="4.1" fill="#8a226a"/>
<circle cx="1427.50" cy="493.00" r="4.1" fill="#61136e"/>
<circle cx="1435.24" cy="336.70" r="4.1" fill="#952667"/>
<circle cx="1435.24" cy="355.50" r="4.1" fill="#a32c61"/>
<circle cx="1435.24" cy="353.50" r="4.1" fill="#6f196e"/>
<circle cx="1435.24" cy="362.20" r="4.1" fill="#8d2369"/>
<circle cx="1435.24" cy="377.20" r="4.1" fill="#932667"/>
<circle cx="1435.24" cy="386.70" r="4.1" fill="#721a6e"/>
<circle cx="1435.24" cy="406.70" r="4.1" fill="#7c1d6d"/>
<circle cx="1435.24" cy="488.90" r="4.1" fill="#6a176e"/>
<circle cx="1435.24" cy="493.90" r="4.1" fill="#a62d60"/>
<circle cx="1442.97" cy="341.10" r="4.1" fill="#a62d60"/>
<circle cx="1442.97" cy="347.77" r="4.1" fill="#972766"/>
<circle cx="1442.97" cy="355.00" r="4.1" fill="#a02a63"/>
<circle cx="1442.97" cy="362.80" r="4.1" fill="#cb4149"/>
<circle cx="1442.97" cy="372.20" r="4.1" fill="#952667"/>
<circle cx="1442.97" cy="389.20" r="4.1" fill="#a62d60"/>
<circle cx="1442.97" cy="419.40" r="4.1" fill="#6c186e"/>
<circle cx="1442.97" cy="432.50" r="4.1" fill="#5d126e"/>
<circle cx="1442.97" cy="434.50" r="4.1" fill="#d44842"/>
<circle cx="1442.97" cy="437.50" r="4.1" fill="#c13a50"/>
<circle cx="1442.97" cy="440.50" r="4.1" fill="#801f6c"/>
<circle cx="1442.97" cy="468.90" r="4.1" fill="#a02a63"/>
<circle cx="1442.97" cy="490.20" r="4.1" fill="#972766"/>
<circle cx="1450.71" cy="338.30" r="4.1" fill="#972766"/>
<circle cx="1450.71" cy="344.40" r="4.1" fill="#801f6c"/>
<circle cx="1450.71" cy="353.30" r="4.1" fill="#7d1e6d"/>
<circle cx="1450.71" cy="357.80" r="4.1" fill="#cf4446"/>
<circle cx="1450.71" cy="367.20" r="4.1" fill="#6f196e"/>
<circle cx="1450.71" cy="376.70" r="4.1" fill="#982766"/>
<circle cx="1450.71" cy="382.20" r="4.1" fill="#c13a50"/>
<circle cx="1450.71" cy="393.90" r="4.1" fill="#902568"/>
<circle cx="1450.71" cy="435.00" r="4.1" fill="#cf4446"/>
<circle cx="1450.71" cy="458.30" r="4.1" fill="#87216b"/>
<circle cx="1450.71" cy="464.40" r="4.1" fill="#a82e5f"/>
<circle cx="1450.71" cy="468.00" r="4.1" fill="#b93556"/>
<circle cx="1450.71" cy="472.00" r="4.1" fill="#87216b"/>
<circle cx="1458.44" cy="331.70" r="4.1" fill="#62146e"/>
<circle cx="1458.44" cy="338.00" r="4.1" fill="#7c1d6d"/>
<circle cx="1458.44" cy="343.44" r="4.1" fill="#8d2369"/>
<circle cx="1458.44" cy="350.00" r="4.1" fill="#8a226a"/>
<circle cx="1458.44" cy="364.70" r="4.1" fill="#751b6e"/>
<circle cx="1458.44" cy="377.80" r="4.1" fill="#71196e"/>
<circle cx="1458.44" cy="382.20" r="4.1" fill="#bd3853"/>
<circle cx="1458.44" cy="386.70" r="4.1" fill="#87216b"/>
<circle cx="1458.44" cy="407.20" r="4.1" fill="#771c6d"/>
<circle cx="1458.44" cy="416.10" r="4.1" fill="#8d2369"/>
<circle cx="1458.44" cy="441.10" r="4.1" fill="#8f2469"/>
<circle cx="1458.44" cy="450.20" r="4.1" fill="#a62d60"/>
<circle cx="1458.44" cy="460.00" r="4.1" fill="#84206b"/>
<circle cx="1458.44" cy="465.60" r="4.1" fill="#8f2469"/>
<circle cx="1466.18" cy="329.40" r="4.1" fill="#771c6d"/>
<circle cx="1466.18" cy="334.50" r="4.1" fill="#8f2469"/>
<circle cx="1466.18" cy="341.49" r="4.1" fill="#721a6e"/>
<circle cx="1466.18" cy="348.00" r="4.1" fill="#6a176e"/>
<circle cx="1466.18" cy="352.50" r="4.1" fill="#902568"/>
<circle cx="1466.18" cy="368.90" r="4.1" fill="#85216b"/>
<circle cx="1466.18" cy="381.10" r="4.1" fill="#b73557"/>
<circle cx="1466.18" cy="410.60" r="4.1" fill="#902568"/>
<circle cx="1466.18" cy="439.40" r="4.1" fill="#9a2865"/>
<circle cx="1466.18" cy="443.30" r="4.1" fill="#84206b"/>
<circle cx="1466.18" cy="453.70" r="4.1" fill="#8f2469"/>
<circle cx="1473.91" cy="325.60" r="4.1" fill="#87216b"/>
<circle cx="1473.91" cy="335.60" r="4.1" fill="#a32c61"/>
<circle cx="1473.91" cy="340.00" r="4.1" fill="#a52c60"/>
<circle cx="1473.91" cy="353.30" r="4.1" fill="#ca404a"/>
<circle cx="1473.91" cy="366.70" r="4.1" fill="#7c1d6d"/>
<circle cx="1473.91" cy="372.20" r="4.1" fill="#71196e"/>
<circle cx="1473.91" cy="376.70" r="4.1" fill="#ce4347"/>
<circle cx="1473.91" cy="411.10" r="4.1" fill="#902568"/>
<circle cx="1473.91" cy="415.60" r="4.1" fill="#a52c60"/>
<circle cx="1473.91" cy="420.00" r="4.1" fill="#61136e"/>
<circle cx="1473.91" cy="421.70" r="4.1" fill="#7f1e6c"/>
<circle cx="1473.91" cy="431.10" r="4.1" fill="#8d2369"/>
<circle cx="1473.91" cy="435.60" r="4.1" fill="#a52c60"/>
<circle cx="1473.91" cy="443.90" r="4.1" fill="#922568"/>
<circle cx="1473.91" cy="447.80" r="4.1" fill="#a02a63"/>
<circle cx="1481.65" cy="311.10" r="4.1" fill="#e75e2e"/>
<circle cx="1481.65" cy="316.37" r="4.1" fill="#8d2369"/>
<circle cx="1481.65" cy="323.00" r="4.1" fill="#8c2369"/>
<circle cx="1481.65" cy="326.70" r="4.1" fill="#902568"/>
<circle cx="1481.65" cy="335.60" r="4.1" fill="#65156e"/>
<circle cx="1481.65" cy="353.00" r="4.1" fill="#ce4347"/>
<circle cx="1481.65" cy="363.90" r="4.1" fill="#771c6d"/>
<circle cx="1481.65" cy="382.80" r="4.1" fill="#9d2964"/>
<circle cx="1481.65" cy="397.20" r="4.1" fill="#781c6d"/>
<circle cx="1481.65" cy="417.80" r="4.1" fill="#85216b"/>
<circle cx="1481.65" cy="422.46" r="4.1" fill="#cf4446"/>
<circle cx="1481.65" cy="427.00" r="4.1" fill="#64156e"/>
<circle cx="1481.65" cy="431.00" r="4.1" fill="#69166e"/>
<circle cx="1481.65" cy="435.00" r="4.1" fill="#a62d60"/>
<circle cx="1489.38" cy="308.90" r="4.1" fill="#c63d4d"/>
<circle cx="1489.38" cy="315.24" r="4.1" fill="#741a6e"/>
<circle cx="1489.38" cy="322.00" r="4.1" fill="#71196e"/>
<circle cx="1489.38" cy="324.00" r="4.1" fill="#741a6e"/>
<circle cx="1489.38" cy="328.49" r="4.1" fill="#ce4347"/>
<circle cx="1489.38" cy="334.40" r="4.1" fill="#932667"/>
<circle cx="1489.38" cy="344.40" r="4.1" fill="#cf4446"/>
<circle cx="1489.38" cy="351.70" r="4.1" fill="#d24644"/>
<circle cx="1489.38" cy="375.60" r="4.1" fill="#932667"/>
<circle cx="1489.38" cy="387.60" r="4.1" fill="#bc3754"/>
<circle cx="1489.38" cy="400.00" r="4.1" fill="#8f2469"/>
<circle cx="1489.38" cy="404.40" r="4.1" fill="#7a1d6d"/>
<circle cx="1489.38" cy="412.20" r="4.1" fill="#84206b"/>
<circle cx="1489.38" cy="417.80" r="4.1" fill="#771c6d"/>
<circle cx="1489.38" cy="422.00" r="4.1" fill="#7d1e6d"/>
<circle cx="1489.38" cy="426.70" r="4.1" fill="#bd3853"/>
<circle cx="1497.12" cy="303.30" r="4.1" fill="#7c1d6d"/>
<circle cx="1497.12" cy="308.88" r="4.1" fill="#9f2a63"/>
<circle cx="1497.12" cy="313.69" r="4.1" fill="#801f6c"/>
<circle cx="1497.12" cy="320.00" r="4.1" fill="#a22b62"/>
<circle cx="1497.12" cy="323.00" r="4.1" fill="#9b2964"/>
<circle cx="1497.12" cy="328.23" r="4.1" fill="#972766"/>
<circle cx="1497.12" cy="332.98" r="4.1" fill="#721a6e"/>
<circle cx="1497.12" cy="339.00" r="4.1" fill="#87216b"/>
<circle cx="1497.12" cy="341.50" r="4.1" fill="#a52c60"/>
<circle cx="1497.12" cy="349.40" r="4.1" fill="#88226a"/>
<circle cx="1497.12" cy="372.80" r="4.1" fill="#e75e2e"/>
<circle cx="1497.12" cy="378.90" r="4.1" fill="#ca404a"/>
<circle cx="1497.12" cy="386.70" r="4.1" fill="#952667"/>
<circle cx="1497.12" cy="393.30" r="4.1" fill="#982766"/>
<circle cx="1497.12" cy="403.90" r="4.1" fill="#a22b62"/>
<circle cx="1497.12" cy="415.00" r="4.1" fill="#8a226a"/>
<circle cx="1504.86" cy="295.00" r="4.1" fill="#902568"/>
<circle cx="1504.86" cy="301.35" r="4.1" fill="#801f6c"/>
<circle cx="1504.86" cy="309.00" r="4.1" fill="#7f1e6c"/>
<circle cx="1504.86" cy="311.50" r="4.1" fill="#6a176e"/>
<circle cx="1504.86" cy="317.28" r="4.1" fill="#9f2a63"/>
<circle cx="1504.86" cy="323.30" r="4.1" fill="#67166e"/>
<circle cx="1504.86" cy="354.40" r="4.1" fill="#e75e2e"/>
<circle cx="1504.86" cy="366.70" r="4.1" fill="#6c186e"/>
<circle cx="1504.86" cy="378.90" r="4.1" fill="#7d1e6d"/>
<circle cx="1504.86" cy="388.90" r="4.1" fill="#e9612b"/>
<circle cx="1504.86" cy="395.46" r="4.1" fill="#7c1d6d"/>
<circle cx="1504.86" cy="400.36" r="4.1" fill="#982766"/>
<circle cx="1504.86" cy="407.00" r="4.1" fill="#d54a41"/>
<circle cx="1512.59" cy="287.20" r="4.1" fill="#bc3754"/>
<circle cx="1512.59" cy="293.36" r="4.1" fill="#82206c"/>
<circle cx="1512.59" cy="300.60" r="4.1" fill="#8f2469"/>
<circle cx="1512.59" cy="307.00" r="4.1" fill="#a82e5f"/>
<circle cx="1512.59" cy="311.00" r="4.1" fill="#84206b"/>
<circle cx="1512.59" cy="318.42" r="4.1" fill="#9f2a63"/>
<circle cx="1512.59" cy="324.40" r="4.1" fill="#a52c60"/>
<circle cx="1512.59" cy="338.30" r="4.1" fill="#88226a"/>
<circle cx="1512.59" cy="356.70" r="4.1" fill="#7a1d6d"/>
<circle cx="1512.59" cy="364.40" r="4.1" fill="#8d2369"/>
<circle cx="1512.59" cy="369.00" r="4.1" fill="#6f196e"/>
<circle cx="1512.59" cy="375.00" r="4.1" fill="#88226a"/>
<circle cx="1512.59" cy="388.90" r="4.1" fill="#d74b3f"/>
<circle cx="1512.59" cy="393.30" r="4.1" fill="#801f6c"/>
<circle cx="1520.33" cy="278.30" r="4.1" fill="#6f196e"/>
<circle cx="1520.33" cy="284.47" r="4.1" fill="#d74b3f"/>
<circle cx="1520.33" cy="290.23" r="4.1" fill="#85216b"/>
<circle cx="1520.33" cy="297.21" r="4.1" fill="#85216b"/>
<circle cx="1520.33" cy="302.50" r="4.1" fill="#5f136e"/>
<circle cx="1520.33" cy="305.60" r="4.1" fill="#d34743"/>
<circle cx="1520.33" cy="310.42" r="4.1" fill="#82206c"/>
<circle cx="1520.33" cy="316.70" r="4.1" fill="#d44842"/>
<circle cx="1520.33" cy="322.20" r="4.1" fill="#9a2865"/>
<circle cx="1520.33" cy="344.40" r="4.1" fill="#721a6e"/>
<circle cx="1520.33" cy="356.70" r="4.1" fill="#71196e"/>
<circle cx="1520.33" cy="361.00" r="4.1" fill="#721a6e"/>
<circle cx="1520.33" cy="372.20" r="4.1" fill="#b93556"/>
<circle cx="1520.33" cy="377.50" r="4.1" fill="#87216b"/>
<circle cx="1520.33" cy="376.20" r="4.1" fill="#a62d60"/>
<circle cx="1528.06" cy="263.90" r="4.1" fill="#fbbe23"/>
<circle cx="1528.06" cy="290.00" r="4.1" fill="#7d1e6d"/>
<circle cx="1528.06" cy="268.90" r="4.1" fill="#7f1e6c"/>
<circle cx="1528.06" cy="276.17" r="4.1" fill="#84206b"/>
<circle cx="1528.06" cy="281.96" r="4.1" fill="#952667"/>
<circle cx="1528.06" cy="289.00" r="4.1" fill="#8f2469"/>
<circle cx="1528.06" cy="293.00" r="4.1" fill="#902568"/>
<circle cx="1528.06" cy="296.70" r="4.1" fill="#a32c61"/>
<circle cx="1528.06" cy="301.00" r="4.1" fill="#9d2964"/>
<circle cx="1528.06" cy="306.58" r="4.1" fill="#982766"/>
<circle cx="1528.06" cy="312.69" r="4.1" fill="#87216b"/>
<circle cx="1528.06" cy="319.14" r="4.1" fill="#6d186e"/>
<circle cx="1528.06" cy="325.60" r="4.1" fill="#bf3952"/>
<circle cx="1528.06" cy="332.20" r="4.1" fill="#62146e"/>
<circle cx="1528.06" cy="338.90" r="4.1" fill="#9b2964"/>
<circle cx="1528.06" cy="347.80" r="4.1" fill="#d74b3f"/>
<circle cx="1528.06" cy="352.00" r="4.1" fill="#932667"/>
<circle cx="1528.06" cy="358.31" r="4.1" fill="#a62d60"/>
<circle cx="1528.06" cy="363.09" r="4.1" fill="#9d2964"/>
<circle cx="1528.06" cy="369.40" r="4.1" fill="#a02a63"/>
<circle cx="1535.80" cy="285.60" r="4.1" fill="#7d1e6d"/>
<circle cx="1535.80" cy="261.70" r="4.1" fill="#721a6e"/>
<circle cx="1535.80" cy="268.09" r="4.1" fill="#801f6c"/>
<circle cx="1535.80" cy="274.44" r="4.1" fill="#84206b"/>
<circle cx="1535.80" cy="280.28" r="4.1" fill="#87216b"/>
<circle cx="1535.80" cy="286.82" r="4.1" fill="#ce4347"/>
<circle cx="1535.80" cy="293.00" r="4.1" fill="#82206c"/>
<circle cx="1535.80" cy="297.50" r="4.1" fill="#9a2865"/>
<circle cx="1535.80" cy="300.50" r="4.1" fill="#7c1d6d"/>
<circle cx="1535.80" cy="305.60" r="4.1" fill="#84206b"/>
<circle cx="1535.80" cy="321.10" r="4.1" fill="#bf3952"/>
<circle cx="1535.80" cy="330.60" r="4.1" fill="#771c6d"/>
<circle cx="1535.80" cy="340.00" r="4.1" fill="#972766"/>
<circle cx="1535.80" cy="348.90" r="4.1" fill="#a82e5f"/>
<circle cx="1543.53" cy="251.70" r="4.1" fill="#8a226a"/>
<circle cx="1543.53" cy="257.25" r="4.1" fill="#a62d60"/>
<circle cx="1543.53" cy="263.50" r="4.1" fill="#751b6e"/>
<circle cx="1543.53" cy="269.98" r="4.1" fill="#932667"/>
<circle cx="1543.53" cy="276.70" r="4.1" fill="#6f196e"/>
<circle cx="1543.53" cy="285.60" r="4.1" fill="#9d2964"/>
<circle cx="1543.53" cy="295.00" r="4.1" fill="#9d2964"/>
<circle cx="1543.53" cy="308.90" r="4.1" fill="#7c1d6d"/>
<circle cx="1543.53" cy="317.80" r="4.1" fill="#a52c60"/>
<circle cx="1543.53" cy="331.70" r="4.1" fill="#a22b62"/>
<circle cx="1543.53" cy="336.70" r="4.1" fill="#751b6e"/>
<circle cx="1551.26" cy="240.60" r="4.1" fill="#9f2a63"/>
<circle cx="1551.26" cy="246.72" r="4.1" fill="#721a6e"/>
<circle cx="1551.26" cy="252.15" r="4.1" fill="#ce4347"/>
<circle cx="1551.26" cy="257.80" r="4.1" fill="#a32c61"/>
<circle cx="1551.26" cy="264.07" r="4.1" fill="#a02a63"/>
<circle cx="1551.26" cy="269.69" r="4.1" fill="#88226a"/>
<circle cx="1551.26" cy="275.60" r="4.1" fill="#88226a"/>
<circle cx="1551.26" cy="286.70" r="4.1" fill="#69166e"/>
<circle cx="1551.26" cy="294.40" r="4.1" fill="#6f196e"/>
<circle cx="1551.26" cy="298.50" r="4.1" fill="#932667"/>
<circle cx="1551.26" cy="307.80" r="4.1" fill="#7c1d6d"/>
<circle cx="1551.26" cy="312.20" r="4.1" fill="#5c126e"/>
<circle cx="1551.26" cy="316.70" r="4.1" fill="#8c2369"/>
<circle cx="1551.26" cy="321.00" r="4.1" fill="#7c1d6d"/>
<circle cx="1551.26" cy="325.60" r="4.1" fill="#c03a51"/>
<circle cx="1559.00" cy="231.70" r="4.1" fill="#a82e5f"/>
<circle cx="1559.00" cy="240.00" r="4.1" fill="#741a6e"/>
<circle cx="1559.00" cy="245.60" r="4.1" fill="#88226a"/>
<circle cx="1559.00" cy="251.10" r="4.1" fill="#6f196e"/>
<circle cx="1559.00" cy="255.60" r="4.1" fill="#7d1e6d"/>
<circle cx="1559.00" cy="260.55" r="4.1" fill="#9a2865"/>
<circle cx="1559.00" cy="266.62" r="4.1" fill="#9a2865"/>
<circle cx="1559.00" cy="271.74" r="4.1" fill="#8d2369"/>
<circle cx="1559.00" cy="276.70" r="4.1" fill="#71196e"/>
<circle cx="1559.00" cy="278.90" r="4.1" fill="#62146e"/>
<circle cx="1559.00" cy="284.59" r="4.1" fill="#952667"/>
<circle cx="1559.00" cy="291.10" r="4.1" fill="#ba3655"/>
<circle cx="1559.00" cy="293.00" r="4.1" fill="#982766"/>
<circle cx="1559.00" cy="302.20" r="4.1" fill="#71196e"/>
<circle cx="1559.00" cy="307.80" r="4.1" fill="#8d2369"/>
<circle cx="1559.00" cy="311.30" r="4.1" fill="#b93556"/>
<circle cx="1559.00" cy="315.60" r="4.1" fill="#d54a41"/>
<circle cx="1566.73" cy="220.60" r="4.1" fill="#a82e5f"/>
<circle cx="1566.73" cy="228.22" r="4.1" fill="#9b2964"/>
<circle cx="1566.73" cy="235.60" r="4.1" fill="#ea632a"/>
<circle cx="1566.73" cy="240.00" r="4.1" fill="#a22b62"/>
<circle cx="1566.73" cy="251.10" r="4.1" fill="#7d1e6d"/>
<circle cx="1566.73" cy="262.80" r="4.1" fill="#71196e"/>
<circle cx="1566.73" cy="275.60" r="4.1" fill="#a32c61"/>
<circle cx="1566.73" cy="280.92" r="4.1" fill="#9f2a63"/>
<circle cx="1566.73" cy="286.75" r="4.1" fill="#8d2369"/>
<circle cx="1566.73" cy="291.79" r="4.1" fill="#71196e"/>
<circle cx="1566.73" cy="296.70" r="4.1" fill="#a02a63"/>
<circle cx="1566.73" cy="299.80" r="4.1" fill="#d34743"/>
<circle cx="1566.73" cy="304.40" r="4.1" fill="#932667"/>
<circle cx="1566.73" cy="309.00" r="4.1" fill="#71196e"/>
<circle cx="1574.47" cy="207.80" r="4.1" fill="#e45a31"/>
<circle cx="1574.47" cy="213.02" r="4.1" fill="#ca404a"/>
<circle cx="1574.47" cy="219.69" r="4.1" fill="#7f1e6c"/>
<circle cx="1574.47" cy="223.87" r="4.1" fill="#6f196e"/>
<circle cx="1574.47" cy="229.91" r="4.1" fill="#972766"/>
<circle cx="1574.47" cy="235.60" r="4.1" fill="#7c1d6d"/>
<circle cx="1574.47" cy="238.90" r="4.1" fill="#932667"/>
<circle cx="1574.47" cy="243.30" r="4.1" fill="#902568"/>
<circle cx="1574.47" cy="250.41" r="4.1" fill="#82206c"/>
<circle cx="1574.47" cy="256.70" r="4.1" fill="#82206c"/>
<circle cx="1574.47" cy="275.60" r="4.1" fill="#7c1d6d"/>
<circle cx="1574.47" cy="280.60" r="4.1" fill="#7c1d6d"/>
<circle cx="1574.47" cy="296.10" r="4.1" fill="#a82e5f"/>
<circle cx="1582.20" cy="200.60" r="4.1" fill="#7d1e6d"/>
<circle cx="1582.20" cy="230.00" r="4.1" fill="#a22b62"/>
<circle cx="1582.20" cy="212.20" r="4.1" fill="#82206c"/>
<circle cx="1582.20" cy="218.89" r="4.1" fill="#ca404a"/>
<circle cx="1582.20" cy="226.70" r="4.1" fill="#a82e5f"/>
<circle cx="1582.20" cy="233.00" r="4.1" fill="#c83f4b"/>
<circle cx="1582.20" cy="238.00" r="4.1" fill="#8f2469"/>
<circle cx="1582.20" cy="242.80" r="4.1" fill="#9d2964"/>
<circle cx="1582.20" cy="246.70" r="4.1" fill="#9a2865"/>
<circle cx="1582.20" cy="251.85" r="4.1" fill="#7a1d6d"/>
<circle cx="1582.20" cy="256.30" r="4.1" fill="#d24644"/>
<circle cx="1582.20" cy="262.20" r="4.1" fill="#771c6d"/>
<circle cx="1582.20" cy="264.40" r="4.1" fill="#84206b"/>
<circle cx="1582.20" cy="273.30" r="4.1" fill="#902568"/>
<circle cx="1582.20" cy="278.90" r="4.1" fill="#62146e"/>
<circle cx="1589.94" cy="181.70" r="4.1" fill="#85216b"/>
<circle cx="1589.94" cy="187.22" r="4.1" fill="#9d2964"/>
<circle cx="1589.94" cy="192.20" r="4.1" fill="#88226a"/>
<circle cx="1589.94" cy="200.00" r="4.1" fill="#8f2469"/>
<circle cx="1589.94" cy="206.36" r="4.1" fill="#902568"/>
<circle cx="1589.94" cy="211.98" r="4.1" fill="#7c1d6d"/>
<circle cx="1589.94" cy="218.40" r="4.1" fill="#7f1e6c"/>
<circle cx="1589.94" cy="223.44" r="4.1" fill="#902568"/>
<circle cx="1589.94" cy="229.98" r="4.1" fill="#751b6e"/>
<circle cx="1589.94" cy="235.60" r="4.1" fill="#6f196e"/>
<circle cx="1589.94" cy="246.70" r="4.1" fill="#932667"/>
<circle cx="1589.94" cy="252.00" r="4.1" fill="#a82e5f"/>
<circle cx="1589.94" cy="258.30" r="4.1" fill="#7d1e6d"/>
<circle cx="1589.94" cy="267.80" r="4.1" fill="#6f196e"/>
<circle cx="1589.94" cy="273.00" r="4.1" fill="#85216b"/>
<circle cx="1597.67" cy="170.00" r="4.1" fill="#84206b"/>
<circle cx="1597.67" cy="177.80" r="4.1" fill="#b73557"/>
<circle cx="1597.67" cy="186.00" r="4.1" fill="#781c6d"/>
<circle cx="1597.67" cy="201.50" r="4.1" fill="#8a226a"/>
<circle cx="1597.67" cy="207.15" r="4.1" fill="#801f6c"/>
<circle cx="1597.67" cy="212.50" r="4.1" fill="#85216b"/>
<circle cx="1597.67" cy="221.70" r="4.1" fill="#c63d4d"/>
<circle cx="1597.67" cy="232.00" r="4.1" fill="#982766"/>
<circle cx="1597.67" cy="238.00" r="4.1" fill="#8a226a"/>
<circle cx="1597.67" cy="242.00" r="4.1" fill="#65156e"/>
<circle cx="1597.67" cy="252.50" r="4.1" fill="#71196e"/>
<circle cx="1597.67" cy="256.50" r="4.1" fill="#8a226a"/>
<circle cx="1597.67" cy="261.73" r="4.1" fill="#d04545"/>
<circle cx="1597.67" cy="266.70" r="4.1" fill="#6f196e"/>
<circle cx="1605.41" cy="157.80" r="4.1" fill="#801f6c"/>
<circle cx="1605.41" cy="166.00" r="4.1" fill="#751b6e"/>
<circle cx="1605.41" cy="171.28" r="4.1" fill="#9f2a63"/>
<circle cx="1605.41" cy="176.70" r="4.1" fill="#d34743"/>
<circle cx="1605.41" cy="186.70" r="4.1" fill="#a62d60"/>
<circle cx="1605.41" cy="190.80" r="4.1" fill="#8a226a"/>
<circle cx="1605.41" cy="202.50" r="4.1" fill="#9a2865"/>
<circle cx="1605.41" cy="217.00" r="4.1" fill="#982766"/>
<circle cx="1605.41" cy="199.00" r="4.1" fill="#8a226a"/>
<circle cx="1605.41" cy="205.67" r="4.1" fill="#61136e"/>
<circle cx="1605.41" cy="211.96" r="4.1" fill="#8d2369"/>
<circle cx="1605.41" cy="217.33" r="4.1" fill="#a22b62"/>
<circle cx="1605.41" cy="223.76" r="4.1" fill="#a82e5f"/>
<circle cx="1605.41" cy="228.92" r="4.1" fill="#a62d60"/>
<circle cx="1605.41" cy="236.07" r="4.1" fill="#932667"/>
<circle cx="1605.41" cy="242.11" r="4.1" fill="#721a6e"/>
<circle cx="1605.41" cy="248.00" r="4.1" fill="#85216b"/>
<circle cx="1605.41" cy="251.90" r="4.1" fill="#9a2865"/>
<circle cx="1613.14" cy="152.80" r="4.1" fill="#a82e5f"/>
<circle cx="1613.14" cy="172.20" r="4.1" fill="#8a226a"/>
<circle cx="1613.14" cy="178.56" r="4.1" fill="#9d2964"/>
<circle cx="1613.14" cy="183.85" r="4.1" fill="#85216b"/>
<circle cx="1613.14" cy="188.90" r="4.1" fill="#9f2a63"/>
<circle cx="1613.14" cy="207.50" r="4.1" fill="#922568"/>
<circle cx="1613.14" cy="213.03" r="4.1" fill="#a52c60"/>
<circle cx="1613.14" cy="219.07" r="4.1" fill="#85216b"/>
<circle cx="1613.14" cy="225.39" r="4.1" fill="#7c1d6d"/>
<circle cx="1613.14" cy="231.00" r="4.1" fill="#a82e5f"/>
<circle cx="1613.14" cy="234.40" r="4.1" fill="#a22b62"/>
<circle cx="1613.14" cy="240.00" r="4.1" fill="#65156e"/>
<circle cx="1613.14" cy="247.20" r="4.1" fill="#85216b"/>
<circle cx="1613.14" cy="258.30" r="4.1" fill="#932667"/>
<circle cx="1620.88" cy="137.80" r="4.1" fill="#c43c4e"/>
<circle cx="1620.88" cy="160.00" r="4.1" fill="#8f2469"/>
<circle cx="1620.88" cy="145.00" r="4.1" fill="#c63d4d"/>
<circle cx="1620.88" cy="150.24" r="4.1" fill="#741a6e"/>
<circle cx="1620.88" cy="157.00" r="4.1" fill="#d44842"/>
<circle cx="1620.88" cy="175.60" r="4.1" fill="#82206c"/>
<circle cx="1620.88" cy="183.30" r="4.1" fill="#6d186e"/>
<circle cx="1620.88" cy="189.40" r="4.1" fill="#751b6e"/>
<circle cx="1620.88" cy="196.00" r="4.1" fill="#5c126e"/>
<circle cx="1620.88" cy="203.30" r="4.1" fill="#801f6c"/>
<circle cx="1620.88" cy="216.70" r="4.1" fill="#71196e"/>
<circle cx="1620.88" cy="222.79" r="4.1" fill="#d54a41"/>
<circle cx="1620.88" cy="229.00" r="4.1" fill="#a92e5e"/>
<circle cx="1620.88" cy="232.00" r="4.1" fill="#902568"/>
<circle cx="1620.88" cy="236.00" r="4.1" fill="#8c2369"/>
<circle cx="1620.88" cy="240.00" r="4.1" fill="#5d126e"/>
<circle cx="1620.88" cy="245.60" r="4.1" fill="#a02a63"/>
<circle cx="1628.62" cy="141.50" r="4.1" fill="#71196e"/>
<circle cx="1628.62" cy="160.60" r="4.1" fill="#8a226a"/>
<circle cx="1628.62" cy="166.00" r="4.1" fill="#781c6d"/>
<circle cx="1628.62" cy="180.30" r="4.1" fill="#7c1d6d"/>
<circle cx="1628.62" cy="186.34" r="4.1" fill="#84206b"/>
<circle cx="1628.62" cy="192.82" r="4.1" fill="#85216b"/>
<circle cx="1628.62" cy="200.00" r="4.1" fill="#7a1d6d"/>
<circle cx="1628.62" cy="203.60" r="4.1" fill="#7f1e6c"/>
<circle cx="1628.62" cy="208.00" r="4.1" fill="#9f2a63"/>
<circle cx="1628.62" cy="213.18" r="4.1" fill="#a62d60"/>
<circle cx="1628.62" cy="220.20" r="4.1" fill="#9b2964"/>
<circle cx="1628.62" cy="225.06" r="4.1" fill="#87216b"/>
<circle cx="1628.62" cy="231.13" r="4.1" fill="#a32c61"/>
<circle cx="1628.62" cy="237.24" r="4.1" fill="#85216b"/>
<circle cx="1628.62" cy="243.30" r="4.1" fill="#7a1d6d"/>
<circle cx="1636.35" cy="126.50" r="4.1" fill="#d44842"/>
<circle cx="1636.35" cy="132.80" r="4.1" fill="#cc4248"/>
<circle cx="1636.35" cy="137.30" r="4.1" fill="#d44842"/>
<circle cx="1636.35" cy="147.80" r="4.1" fill="#87216b"/>
<circle cx="1636.35" cy="151.70" r="4.1" fill="#902568"/>
<circle cx="1636.35" cy="156.70" r="4.1" fill="#9b2964"/>
<circle cx="1636.35" cy="159.60" r="4.1" fill="#a32c61"/>
<circle cx="1636.35" cy="177.80" r="4.1" fill="#8c2369"/>
<circle cx="1636.35" cy="183.94" r="4.1" fill="#5c126e"/>
<circle cx="1636.35" cy="188.90" r="4.1" fill="#a62d60"/>
<circle cx="1636.35" cy="196.50" r="4.1" fill="#9f2a63"/>
<circle cx="1636.35" cy="201.00" r="4.1" fill="#88226a"/>
<circle cx="1636.35" cy="225.60" r="4.1" fill="#952667"/>
<circle cx="1636.35" cy="213.30" r="4.1" fill="#781c6d"/>
<circle cx="1636.35" cy="217.98" r="4.1" fill="#71196e"/>
<circle cx="1636.35" cy="224.00" r="4.1" fill="#721a6e"/>
<circle cx="1636.35" cy="229.00" r="4.1" fill="#952667"/>
<circle cx="1636.35" cy="235.52" r="4.1" fill="#8d2369"/>
<circle cx="1636.35" cy="242.20" r="4.1" fill="#982766"/>
<circle cx="1644.09" cy="121.80" r="4.1" fill="#d74b3f"/>
<circle cx="1644.09" cy="131.70" r="4.1" fill="#82206c"/>
<circle cx="1644.09" cy="135.80" r="4.1" fill="#9a2865"/>
<circle cx="1644.09" cy="162.00" r="4.1" fill="#6d186e"/>
<circle cx="1644.09" cy="170.00" r="4.1" fill="#9a2865"/>
<circle cx="1644.09" cy="174.78" r="4.1" fill="#932667"/>
<circle cx="1644.09" cy="179.40" r="4.1" fill="#9d2964"/>
<circle cx="1644.09" cy="194.60" r="4.1" fill="#952667"/>
<circle cx="1644.09" cy="205.00" r="4.1" fill="#7d1e6d"/>
<circle cx="1644.09" cy="212.08" r="4.1" fill="#952667"/>
<circle cx="1644.09" cy="218.44" r="4.1" fill="#65156e"/>
<circle cx="1644.09" cy="224.40" r="4.1" fill="#902568"/>
<circle cx="1644.09" cy="228.90" r="4.1" fill="#7d1e6d"/>
<circle cx="1644.09" cy="233.00" r="4.1" fill="#9a2865"/>
<circle cx="1644.09" cy="238.90" r="4.1" fill="#88226a"/>
<circle cx="1651.82" cy="125.70" r="4.1" fill="#ee6a24"/>
<circle cx="1651.82" cy="151.00" r="4.1" fill="#a82e5f"/>
<circle cx="1651.82" cy="155.00" r="4.1" fill="#7f1e6c"/>
<circle cx="1651.82" cy="159.60" r="4.1" fill="#d24644"/>
<circle cx="1651.82" cy="192.50" r="4.1" fill="#88226a"/>
<circle cx="1651.82" cy="227.00" r="4.1" fill="#781c6d"/>
<circle cx="1651.82" cy="204.40" r="4.1" fill="#972766"/>
<circle cx="1651.82" cy="211.52" r="4.1" fill="#6d186e"/>
<circle cx="1651.82" cy="217.11" r="4.1" fill="#ee6a24"/>
<circle cx="1651.82" cy="224.00" r="4.1" fill="#a62d60"/>
<circle cx="1651.82" cy="231.00" r="4.1" fill="#5d126e"/>
<circle cx="1659.56" cy="111.50" r="4.1" fill="#952667"/>
<circle cx="1659.56" cy="123.00" r="4.1" fill="#972766"/>
<circle cx="1659.56" cy="129.00" r="4.1" fill="#a52c60"/>
<circle cx="1659.56" cy="135.70" r="4.1" fill="#8a226a"/>
<circle cx="1659.56" cy="186.80" r="4.1" fill="#9b2964"/>
<circle cx="1659.56" cy="190.90" r="4.1" fill="#a32c61"/>
<circle cx="1659.56" cy="201.30" r="4.1" fill="#9b2964"/>
<circle cx="1659.56" cy="205.50" r="4.1" fill="#952667"/>
<circle cx="1659.56" cy="218.40" r="4.1" fill="#9b2964"/>
<circle cx="1659.56" cy="223.26" r="4.1" fill="#a02a63"/>
<circle cx="1659.56" cy="228.40" r="4.1" fill="#7d1e6d"/>
<circle cx="1667.29" cy="103.30" r="4.1" fill="#7d1e6d"/>
<circle cx="1667.29" cy="108.30" r="4.1" fill="#84206b"/>
<circle cx="1667.29" cy="141.70" r="4.1" fill="#9f2a63"/>
<circle cx="1667.29" cy="139.30" r="4.1" fill="#a82e5f"/>
<circle cx="1667.29" cy="172.00" r="4.1" fill="#82206c"/>
<circle cx="1667.29" cy="176.00" r="4.1" fill="#7d1e6d"/>
<circle cx="1667.29" cy="185.50" r="4.1" fill="#9d2964"/>
<circle cx="1667.29" cy="207.00" r="4.1" fill="#d54a41"/>
<circle cx="1667.29" cy="212.20" r="4.1" fill="#972766"/>
<circle cx="1667.29" cy="216.70" r="4.1" fill="#87216b"/>
<circle cx="1667.29" cy="223.00" r="4.1" fill="#a02a63"/>
<circle cx="1667.29" cy="226.70" r="4.1" fill="#741a6e"/>
<circle cx="1667.29" cy="232.20" r="4.1" fill="#801f6c"/>
<circle cx="1675.03" cy="93.30" r="4.1" fill="#a02a63"/>
<circle cx="1675.03" cy="187.00" r="4.1" fill="#bd3853"/>
<circle cx="1675.03" cy="200.70" r="4.1" fill="#a32c61"/>
<circle cx="1675.03" cy="204.50" r="4.1" fill="#952667"/>
<circle cx="1675.03" cy="210.00" r="4.1" fill="#a02a63"/>
<circle cx="1675.03" cy="218.40" r="4.1" fill="#8f2469"/>
<circle cx="1675.03" cy="222.50" r="4.1" fill="#cf4446"/>
<circle cx="1675.03" cy="226.00" r="4.1" fill="#c83f4b"/>
<circle cx="1682.76" cy="91.20" r="4.1" fill="#e05536"/>
<circle cx="1682.76" cy="88.30" r="4.1" fill="#8f2469"/>
<circle cx="1682.76" cy="200.00" r="4.1" fill="#8d2369"/>
<circle cx="1682.76" cy="202.00" r="4.1" fill="#82206c"/>
<circle cx="1682.76" cy="204.20" r="4.1" fill="#a02a63"/>
<circle cx="1682.76" cy="217.00" r="4.1" fill="#8a226a"/>
<circle cx="1682.76" cy="221.52" r="4.1" fill="#a22b62"/>
<circle cx="1682.76" cy="226.50" r="4.1" fill="#801f6c"/>
<circle cx="1690.49" cy="129.10" r="4.1" fill="#a82e5f"/>
<circle cx="1690.49" cy="151.70" r="4.1" fill="#82206c"/>
<circle cx="1690.49" cy="167.20" r="4.1" fill="#7f1e6c"/>
<circle cx="1690.49" cy="171.70" r="4.1" fill="#972766"/>
<circle cx="1690.49" cy="195.70" r="4.1" fill="#8d2369"/>
<circle cx="1690.49" cy="209.70" r="4.1" fill="#e75e2e"/>
<circle cx="1690.49" cy="218.00" r="4.1" fill="#6c186e"/>
<circle cx="1690.49" cy="222.20" r="4.1" fill="#84206b"/>
<circle cx="1698.23" cy="90.00" r="4.1" fill="#741a6e"/>
<circle cx="1698.23" cy="148.30" r="4.1" fill="#a22b62"/>
<circle cx="1698.23" cy="157.90" r="4.1" fill="#781c6d"/>
<circle cx="1698.23" cy="213.30" r="4.1" fill="#902568"/>
<circle cx="1698.23" cy="220.60" r="4.1" fill="#a22b62"/>
<circle cx="1705.96" cy="120.90" r="4.1" fill="#cc4248"/>
<circle cx="1705.96" cy="146.00" r="4.1" fill="#69166e"/>
<circle cx="1705.96" cy="156.70" r="4.1" fill="#a52c60"/>
<circle cx="1705.96" cy="197.20" r="4.1" fill="#cc4248"/>
<circle cx="1705.96" cy="211.10" r="4.1" fill="#cf4446"/>
<circle cx="1705.96" cy="217.80" r="4.1" fill="#952667"/>
<circle cx="1713.70" cy="88.90" r="4.1" fill="#932667"/>
<circle cx="1713.70" cy="91.70" r="4.1" fill="#87216b"/>
<circle cx="1713.70" cy="154.50" r="4.1" fill="#982766"/>
<circle cx="1713.70" cy="187.20" r="4.1" fill="#a22b62"/>
<circle cx="1713.70" cy="193.60" r="4.1" fill="#a62d60"/>
<circle cx="1713.70" cy="211.70" r="4.1" fill="#85216b"/>
<circle cx="1721.43" cy="58.30" r="4.1" fill="#62146e"/>
<circle cx="1721.43" cy="130.60" r="4.1" fill="#84206b"/>
<circle cx="1721.43" cy="181.10" r="4.1" fill="#88226a"/>
<circle cx="1721.43" cy="187.20" r="4.1" fill="#9f2a63"/>
<circle cx="1721.43" cy="207.20" r="4.1" fill="#5f136e"/>
<circle cx="1721.43" cy="213.30" r="4.1" fill="#972766"/>
<circle cx="1729.17" cy="207.40" r="4.1" fill="#85216b"/>
<circle cx="1736.90" cy="214.70" r="4.1" fill="#8d2369"/>
<circle cx="1744.64" cy="211.70" r="4.1" fill="#5c126e"/>
<circle cx="1752.38" cy="185.00" r="4.1" fill="#741a6e"/>
<circle cx="1752.38" cy="208.00" r="4.1" fill="#ce4347"/>
<circle cx="1760.11" cy="208.60" r="4.1" fill="#cc4248"/>
<circle cx="1775.58" cy="208.00" r="4.1" fill="#5d126e"/>
<rect x="1361.80" y="35.30" width="433.30" height="519.70" fill="none" stroke="#262626" stroke-width="1.3"/>
<line x1="1404.30" x2="1404.30" y1="555.00" y2="560.00" stroke="#2b2b2b" stroke-width="1.3"/>
<text x="1404.30" y="575.70" font-size="15.5" fill="#4d4d4d" text-anchor="middle">50</text>
<line x1="1481.65" x2="1481.65" y1="555.00" y2="560.00" stroke="#2b2b2b" stroke-width="1.3"/>
<text x="1481.65" y="575.70" font-size="15.5" fill="#4d4d4d" text-anchor="middle">60</text>
<line x1="1559.00" x2="1559.00" y1="555.00" y2="560.00" stroke="#2b2b2b" stroke-width="1.3"/>
<text x="1559.00" y="575.70" font-size="15.5" fill="#4d4d4d" text-anchor="middle">70</text>
<line x1="1636.35" x2="1636.35" y1="555.00" y2="560.00" stroke="#2b2b2b" stroke-width="1.3"/>
<text x="1636.35" y="575.70" font-size="15.5" fill="#4d4d4d" text-anchor="middle">80</text>
<line x1="1713.70" x2="1713.70" y1="555.00" y2="560.00" stroke="#2b2b2b" stroke-width="1.3"/>
<text x="1713.70" y="575.70" font-size="15.5" fill="#4d4d4d" text-anchor="middle">90</text>
<line x1="1791.05" x2="1791.05" y1="555.00" y2="560.00" stroke="#2b2b2b" stroke-width="1.3"/>
<text x="1791.05" y="575.70" font-size="15.5" fill="#4d4d4d" text-anchor="middle">100</text>
<line x1="1356.80" x2="1361.80" y1="125.30" y2="125.30" stroke="#2b2b2b" stroke-width="1.3"/>
<text x="1353.30" y="130.70" font-size="15.5" fill="#4d4d4d" text-anchor="end">0.4</text>
<line x1="1356.80" x2="1361.80" y1="278.80" y2="278.80" stroke="#2b2b2b" stroke-width="1.3"/>
<text x="1353.30" y="284.20" font-size="15.5" fill="#4d4d4d" text-anchor="end">0.0</text>
<line x1="1356.80" x2="1361.80" y1="432.30" y2="432.30" stroke="#2b2b2b" stroke-width="1.3"/>
<text x="1353.30" y="437.70" font-size="15.5" fill="#4d4d4d" text-anchor="end">−0.4</text>
<text x="1578.45" y="595.80" font-size="18.8" fill="#000" text-anchor="middle">Age</text>
<text transform="translate(1314.40,295.15) rotate(-90)" font-size="18.8" fill="#000" text-anchor="middle">SHAP value</text>
<text x="1578.45" y="20.70" font-size="22.1" font-weight="bold" fill="#000" text-anchor="middle">Logistic</text>
<text x="1274.5" y="19.70" font-size="22.4" fill="#000">C</text>
<text x="1823.10" y="222.90" font-size="18.8" fill="#000">UA</text>
<rect x="1823.10" y="234.90" width="30" height="147.20" fill="url(#inf)"/>
<line x1="1823.10" x2="1829.10" y1="272.50" y2="272.50" stroke="#fff" stroke-width="0.9" opacity="0.85"/>
<line x1="1847.10" x2="1853.10" y1="272.50" y2="272.50" stroke="#fff" stroke-width="0.9" opacity="0.85"/>
<text x="1862.10" y="277.80" font-size="15.1" fill="#000">900</text>
<line x1="1823.10" x2="1829.10" y1="312.90" y2="312.90" stroke="#fff" stroke-width="0.9" opacity="0.85"/>
<line x1="1847.10" x2="1853.10" y1="312.90" y2="312.90" stroke="#fff" stroke-width="0.9" opacity="0.85"/>
<text x="1862.10" y="318.20" font-size="15.1" fill="#000">600</text>
<line x1="1823.10" x2="1829.10" y1="352.80" y2="352.80" stroke="#fff" stroke-width="0.9" opacity="0.85"/>
<line x1="1847.10" x2="1853.10" y1="352.80" y2="352.80" stroke="#fff" stroke-width="0.9" opacity="0.85"/>
<text x="1862.10" y="358.10" font-size="15.1" fill="#000">300</text>
</g>
<g>
<line x1="93.63" x2="93.63" y1="650.10" y2="1169.80" stroke="#f0f0f0" stroke-width="0.8"/>
<line x1="170.97" x2="170.97" y1="650.10" y2="1169.80" stroke="#f0f0f0" stroke-width="0.8"/>
<line x1="248.31" x2="248.31" y1="650.10" y2="1169.80" stroke="#f0f0f0" stroke-width="0.8"/>
<line x1="325.65" x2="325.65" y1="650.10" y2="1169.80" stroke="#f0f0f0" stroke-width="0.8"/>
<line x1="402.99" x2="402.99" y1="650.10" y2="1169.80" stroke="#f0f0f0" stroke-width="0.8"/>
<line x1="480.33" x2="480.33" y1="650.10" y2="1169.80" stroke="#f0f0f0" stroke-width="0.8"/>
<line x1="90.10" x2="522.90" y1="663.35" y2="663.35" stroke="#f0f0f0" stroke-width="0.8"/>
<line x1="90.10" x2="522.90" y1="816.85" y2="816.85" stroke="#f0f0f0" stroke-width="0.8"/>
<line x1="90.10" x2="522.90" y1="970.35" y2="970.35" stroke="#f0f0f0" stroke-width="0.8"/>
<line x1="90.10" x2="522.90" y1="1123.85" y2="1123.85" stroke="#f0f0f0" stroke-width="0.8"/>
<line x1="132.30" x2="132.30" y1="650.10" y2="1169.80" stroke="#e8e8e8" stroke-width="1.4"/>
<line x1="209.64" x2="209.64" y1="650.10" y2="1169.80" stroke="#e8e8e8" stroke-width="1.4"/>
<line x1="286.98" x2="286.98" y1="650.10" y2="1169.80" stroke="#e8e8e8" stroke-width="1.4"/>
<line x1="364.32" x2="364.32" y1="650.10" y2="1169.80" stroke="#e8e8e8" stroke-width="1.4"/>
<line x1="441.66" x2="441.66" y1="650.10" y2="1169.80" stroke="#e8e8e8" stroke-width="1.4"/>
<line x1="519.00" x2="519.00" y1="650.10" y2="1169.80" stroke="#e8e8e8" stroke-width="1.4"/>
<line x1="90.10" x2="522.90" y1="740.10" y2="740.10" stroke="#e8e8e8" stroke-width="1.4"/>
<line x1="90.10" x2="522.90" y1="893.60" y2="893.60" stroke="#e8e8e8" stroke-width="1.4"/>
<line x1="90.10" x2="522.90" y1="1047.10" y2="1047.10" stroke="#e8e8e8" stroke-width="1.4"/>
<circle cx="109.10" cy="1140.10" r="4.1" fill="#e35933"/>
<circle cx="109.10" cy="1147.00" r="4.1" fill="#e9612b"/>
<circle cx="132.30" cy="956.80" r="4.1" fill="#f78410"/>
<circle cx="132.30" cy="995.90" r="4.1" fill="#d94d3d"/>
<circle cx="132.30" cy="1008.70" r="4.1" fill="#e8602d"/>
<circle cx="132.30" cy="1081.20" r="4.1" fill="#fcae12"/>
<circle cx="132.30" cy="1080.00" r="4.1" fill="#fcae12"/>
<circle cx="132.30" cy="1073.70" r="4.1" fill="#ee6a24"/>
<circle cx="132.30" cy="1136.10" r="4.1" fill="#cc4248"/>
<circle cx="140.03" cy="971.50" r="4.1" fill="#d34743"/>
<circle cx="140.03" cy="978.10" r="4.1" fill="#d74b3f"/>
<circle cx="140.03" cy="1003.10" r="4.1" fill="#d34743"/>
<circle cx="140.03" cy="1039.80" r="4.1" fill="#ee6a24"/>
<circle cx="140.03" cy="1100.60" r="4.1" fill="#e75e2e"/>
<circle cx="140.03" cy="1122.20" r="4.1" fill="#f78410"/>
<circle cx="147.77" cy="962.00" r="4.1" fill="#e55c30"/>
<circle cx="147.77" cy="969.80" r="4.1" fill="#e9612b"/>
<circle cx="147.77" cy="977.00" r="4.1" fill="#d44842"/>
<circle cx="147.77" cy="1002.60" r="4.1" fill="#e15635"/>
<circle cx="147.77" cy="1006.50" r="4.1" fill="#f1711f"/>
<circle cx="147.77" cy="1010.40" r="4.1" fill="#fb9b06"/>
<circle cx="147.77" cy="1034.20" r="4.1" fill="#e25734"/>
<circle cx="147.77" cy="1037.80" r="4.1" fill="#eb6429"/>
<circle cx="147.77" cy="1061.50" r="4.1" fill="#df5337"/>
<circle cx="147.77" cy="1075.00" r="4.1" fill="#eb6429"/>
<circle cx="147.77" cy="1080.90" r="4.1" fill="#f3761b"/>
<circle cx="155.50" cy="956.10" r="4.1" fill="#fca50a"/>
<circle cx="155.50" cy="963.70" r="4.1" fill="#f37819"/>
<circle cx="155.50" cy="974.20" r="4.1" fill="#d94d3d"/>
<circle cx="155.50" cy="979.20" r="4.1" fill="#f68013"/>
<circle cx="155.50" cy="992.00" r="4.1" fill="#d04545"/>
<circle cx="155.50" cy="997.00" r="4.1" fill="#e35933"/>
<circle cx="155.50" cy="1005.90" r="4.1" fill="#de5238"/>
<circle cx="155.50" cy="1017.00" r="4.1" fill="#f47918"/>
<circle cx="155.50" cy="1030.90" r="4.1" fill="#8f2469"/>
<circle cx="155.50" cy="1044.20" r="4.1" fill="#d94d3d"/>
<circle cx="155.50" cy="1049.20" r="4.1" fill="#e65d2f"/>
<circle cx="155.50" cy="1056.50" r="4.1" fill="#e55c30"/>
<circle cx="155.50" cy="1077.20" r="4.1" fill="#f57b17"/>
<circle cx="155.50" cy="1093.70" r="4.1" fill="#f3761b"/>
<circle cx="155.50" cy="1107.80" r="4.1" fill="#fb9706"/>
<circle cx="163.24" cy="951.50" r="4.1" fill="#c33b4f"/>
<circle cx="163.24" cy="970.30" r="4.1" fill="#da4e3c"/>
<circle cx="163.24" cy="968.30" r="4.1" fill="#eb6429"/>
<circle cx="163.24" cy="977.00" r="4.1" fill="#e9612b"/>
<circle cx="163.24" cy="992.00" r="4.1" fill="#e15635"/>
<circle cx="163.24" cy="1001.50" r="4.1" fill="#eb6429"/>
<circle cx="163.24" cy="1021.50" r="4.1" fill="#fca50a"/>
<circle cx="163.24" cy="1103.70" r="4.1" fill="#d94d3d"/>
<circle cx="163.24" cy="1108.70" r="4.1" fill="#f1711f"/>
<circle cx="170.97" cy="955.90" r="4.1" fill="#df5337"/>
<circle cx="170.97" cy="962.57" r="4.1" fill="#eb6628"/>
<circle cx="170.97" cy="969.80" r="4.1" fill="#dd513a"/>
<circle cx="170.97" cy="977.60" r="4.1" fill="#f68013"/>
<circle cx="170.97" cy="987.00" r="4.1" fill="#e9612b"/>
<circle cx="170.97" cy="1004.00" r="4.1" fill="#781c6d"/>
<circle cx="170.97" cy="1034.20" r="4.1" fill="#db503b"/>
<circle cx="170.97" cy="1047.30" r="4.1" fill="#d34743"/>
<circle cx="170.97" cy="1049.30" r="4.1" fill="#9d2964"/>
<circle cx="170.97" cy="1052.30" r="4.1" fill="#ef6e21"/>
<circle cx="170.97" cy="1055.30" r="4.1" fill="#e55c30"/>
<circle cx="170.97" cy="1083.70" r="4.1" fill="#f57b17"/>
<circle cx="170.97" cy="1105.00" r="4.1" fill="#e75e2e"/>
<circle cx="178.70" cy="953.10" r="4.1" fill="#ec6726"/>
<circle cx="178.70" cy="959.20" r="4.1" fill="#87216b"/>
<circle cx="178.70" cy="968.10" r="4.1" fill="#e9612b"/>
<circle cx="178.70" cy="972.60" r="4.1" fill="#e8602d"/>
<circle cx="178.70" cy="982.00" r="4.1" fill="#d54a41"/>
<circle cx="178.70" cy="991.50" r="4.1" fill="#d84c3e"/>
<circle cx="178.70" cy="997.00" r="4.1" fill="#e05536"/>
<circle cx="178.70" cy="1008.70" r="4.1" fill="#e8602d"/>
<circle cx="178.70" cy="1049.80" r="4.1" fill="#f67e14"/>
<circle cx="178.70" cy="1073.10" r="4.1" fill="#cc4248"/>
<circle cx="178.70" cy="1079.20" r="4.1" fill="#f1731d"/>
<circle cx="178.70" cy="1082.80" r="4.1" fill="#e75e2e"/>
<circle cx="178.70" cy="1086.80" r="4.1" fill="#f68013"/>
<circle cx="186.44" cy="946.50" r="4.1" fill="#f57d15"/>
<circle cx="186.44" cy="952.80" r="4.1" fill="#eb6429"/>
<circle cx="186.44" cy="958.24" r="4.1" fill="#db503b"/>
<circle cx="186.44" cy="964.80" r="4.1" fill="#fc9f07"/>
<circle cx="186.44" cy="979.50" r="4.1" fill="#ce4347"/>
<circle cx="186.44" cy="992.60" r="4.1" fill="#e55c30"/>
<circle cx="186.44" cy="997.00" r="4.1" fill="#fca60c"/>
<circle cx="186.44" cy="1001.50" r="4.1" fill="#cf4446"/>
<circle cx="186.44" cy="1022.00" r="4.1" fill="#d54a41"/>
<circle cx="186.44" cy="1030.90" r="4.1" fill="#df5337"/>
<circle cx="186.44" cy="1055.90" r="4.1" fill="#e25734"/>
<circle cx="186.44" cy="1065.00" r="4.1" fill="#ea632a"/>
<circle cx="186.44" cy="1074.80" r="4.1" fill="#ed6925"/>
<circle cx="186.44" cy="1080.40" r="4.1" fill="#f37819"/>
<circle cx="194.17" cy="944.20" r="4.1" fill="#f1711f"/>
<circle cx="194.17" cy="949.30" r="4.1" fill="#e35933"/>
<circle cx="194.17" cy="956.29" r="4.1" fill="#e45a31"/>
<circle cx="194.17" cy="962.80" r="4.1" fill="#eb6628"/>
<circle cx="194.17" cy="967.30" r="4.1" fill="#e8602d"/>
<circle cx="194.17" cy="983.70" r="4.1" fill="#eb6628"/>
<circle cx="194.17" cy="995.90" r="4.1" fill="#f57d15"/>
<circle cx="194.17" cy="1025.40" r="4.1" fill="#ea632a"/>
<circle cx="194.17" cy="1054.20" r="4.1" fill="#e55c30"/>
<circle cx="194.17" cy="1058.10" r="4.1" fill="#a62d60"/>
<circle cx="194.17" cy="1068.50" r="4.1" fill="#db503b"/>
<circle cx="201.91" cy="940.40" r="4.1" fill="#e25734"/>
<circle cx="201.91" cy="950.40" r="4.1" fill="#eb6429"/>
<circle cx="201.91" cy="954.80" r="4.1" fill="#d74b3f"/>
<circle cx="201.91" cy="968.10" r="4.1" fill="#d84c3e"/>
<circle cx="201.91" cy="981.50" r="4.1" fill="#e65d2f"/>
<circle cx="201.91" cy="987.00" r="4.1" fill="#d24644"/>
<circle cx="201.91" cy="991.50" r="4.1" fill="#fca309"/>
<circle cx="201.91" cy="1025.90" r="4.1" fill="#8a226a"/>
<circle cx="201.91" cy="1030.40" r="4.1" fill="#e05536"/>
<circle cx="201.91" cy="1034.80" r="4.1" fill="#e15635"/>
<circle cx="201.91" cy="1036.50" r="4.1" fill="#e55c30"/>
<circle cx="201.91" cy="1045.90" r="4.1" fill="#d84c3e"/>
<circle cx="201.91" cy="1050.40" r="4.1" fill="#de5238"/>
<circle cx="201.91" cy="1058.70" r="4.1" fill="#f57b17"/>
<circle cx="201.91" cy="1062.60" r="4.1" fill="#f3761b"/>
<circle cx="209.64" cy="925.90" r="4.1" fill="#d54a41"/>
<circle cx="209.64" cy="931.17" r="4.1" fill="#fca80d"/>
<circle cx="209.64" cy="937.80" r="4.1" fill="#f68013"/>
<circle cx="209.64" cy="941.50" r="4.1" fill="#fb9706"/>
<circle cx="209.64" cy="950.40" r="4.1" fill="#df5337"/>
<circle cx="209.64" cy="967.80" r="4.1" fill="#ef6c23"/>
<circle cx="209.64" cy="978.70" r="4.1" fill="#da4e3c"/>
<circle cx="209.64" cy="997.60" r="4.1" fill="#a32c61"/>
<circle cx="209.64" cy="1012.00" r="4.1" fill="#f06f20"/>
<circle cx="209.64" cy="1032.60" r="4.1" fill="#ce4347"/>
<circle cx="209.64" cy="1037.26" r="4.1" fill="#db503b"/>
<circle cx="209.64" cy="1041.80" r="4.1" fill="#e45a31"/>
<circle cx="209.64" cy="1045.80" r="4.1" fill="#e15635"/>
<circle cx="209.64" cy="1049.80" r="4.1" fill="#d34743"/>
<circle cx="217.37" cy="923.70" r="4.1" fill="#f37819"/>
<circle cx="217.37" cy="930.04" r="4.1" fill="#ec6726"/>
<circle cx="217.37" cy="936.80" r="4.1" fill="#b1325a"/>
<circle cx="217.37" cy="938.80" r="4.1" fill="#e05536"/>
<circle cx="217.37" cy="943.29" r="4.1" fill="#e9612b"/>
<circle cx="217.37" cy="949.20" r="4.1" fill="#fb9d07"/>
<circle cx="217.37" cy="959.20" r="4.1" fill="#e55c30"/>
<circle cx="217.37" cy="966.50" r="4.1" fill="#ea632a"/>
<circle cx="217.37" cy="990.40" r="4.1" fill="#e25734"/>
<circle cx="217.37" cy="1002.40" r="4.1" fill="#922568"/>
<circle cx="217.37" cy="1014.80" r="4.1" fill="#e35933"/>
<circle cx="217.37" cy="1019.20" r="4.1" fill="#ce4347"/>
<circle cx="217.37" cy="1027.00" r="4.1" fill="#df5337"/>
<circle cx="217.37" cy="1032.60" r="4.1" fill="#f68013"/>
<circle cx="217.37" cy="1036.80" r="4.1" fill="#fa9407"/>
<circle cx="217.37" cy="1041.50" r="4.1" fill="#d04545"/>
<circle cx="225.11" cy="918.10" r="4.1" fill="#d04545"/>
<circle cx="225.11" cy="923.68" r="4.1" fill="#ef6c23"/>
<circle cx="225.11" cy="928.49" r="4.1" fill="#d04545"/>
<circle cx="225.11" cy="934.80" r="4.1" fill="#f67e14"/>
<circle cx="225.11" cy="937.80" r="4.1" fill="#d74b3f"/>
<circle cx="225.11" cy="943.03" r="4.1" fill="#751b6e"/>
<circle cx="225.11" cy="947.78" r="4.1" fill="#ea632a"/>
<circle cx="225.11" cy="953.80" r="4.1" fill="#e05536"/>
<circle cx="225.11" cy="956.30" r="4.1" fill="#f57d15"/>
<circle cx="225.11" cy="964.20" r="4.1" fill="#db503b"/>
<circle cx="225.11" cy="987.60" r="4.1" fill="#e65d2f"/>
<circle cx="225.11" cy="993.70" r="4.1" fill="#f57d15"/>
<circle cx="225.11" cy="1001.50" r="4.1" fill="#e35933"/>
<circle cx="225.11" cy="1008.10" r="4.1" fill="#da4e3c"/>
<circle cx="225.11" cy="1018.70" r="4.1" fill="#f1731d"/>
<circle cx="225.11" cy="1029.80" r="4.1" fill="#f1731d"/>
<circle cx="232.84" cy="909.80" r="4.1" fill="#e05536"/>
<circle cx="232.84" cy="916.15" r="4.1" fill="#e65d2f"/>
<circle cx="232.84" cy="923.80" r="4.1" fill="#f1731d"/>
<circle cx="232.84" cy="926.30" r="4.1" fill="#d84c3e"/>
<circle cx="232.84" cy="932.08" r="4.1" fill="#e15635"/>
<circle cx="232.84" cy="938.10" r="4.1" fill="#d04545"/>
<circle cx="232.84" cy="969.20" r="4.1" fill="#932667"/>
<circle cx="232.84" cy="981.50" r="4.1" fill="#ce4347"/>
<circle cx="232.84" cy="993.70" r="4.1" fill="#e55c30"/>
<circle cx="232.84" cy="1003.70" r="4.1" fill="#eb6429"/>
<circle cx="232.84" cy="1010.26" r="4.1" fill="#d34743"/>
<circle cx="232.84" cy="1015.16" r="4.1" fill="#f78212"/>
<circle cx="232.84" cy="1021.80" r="4.1" fill="#f06f20"/>
<circle cx="240.58" cy="902.00" r="4.1" fill="#eb6429"/>
<circle cx="240.58" cy="908.16" r="4.1" fill="#d24644"/>
<circle cx="240.58" cy="915.40" r="4.1" fill="#ee6a24"/>
<circle cx="240.58" cy="921.80" r="4.1" fill="#ef6c23"/>
<circle cx="240.58" cy="925.80" r="4.1" fill="#d54a41"/>
<circle cx="240.58" cy="933.22" r="4.1" fill="#ea632a"/>
<circle cx="240.58" cy="939.20" r="4.1" fill="#e15635"/>
<circle cx="240.58" cy="953.10" r="4.1" fill="#62146e"/>
<circle cx="240.58" cy="971.50" r="4.1" fill="#d84c3e"/>
<circle cx="240.58" cy="979.20" r="4.1" fill="#ee6a24"/>
<circle cx="240.58" cy="983.80" r="4.1" fill="#fa9207"/>
<circle cx="240.58" cy="989.80" r="4.1" fill="#ed6925"/>
<circle cx="240.58" cy="1003.70" r="4.1" fill="#e05536"/>
<circle cx="240.58" cy="1008.10" r="4.1" fill="#fcaa0f"/>
<circle cx="248.31" cy="893.10" r="4.1" fill="#fb9b06"/>
<circle cx="248.31" cy="899.27" r="4.1" fill="#f3761b"/>
<circle cx="248.31" cy="905.03" r="4.1" fill="#ec6726"/>
<circle cx="248.31" cy="912.01" r="4.1" fill="#e75e2e"/>
<circle cx="248.31" cy="917.30" r="4.1" fill="#ef6e21"/>
<circle cx="248.31" cy="920.40" r="4.1" fill="#df5337"/>
<circle cx="248.31" cy="925.22" r="4.1" fill="#d54a41"/>
<circle cx="248.31" cy="931.50" r="4.1" fill="#d54a41"/>
<circle cx="248.31" cy="937.00" r="4.1" fill="#b0315b"/>
<circle cx="248.31" cy="959.20" r="4.1" fill="#da4e3c"/>
<circle cx="248.31" cy="971.50" r="4.1" fill="#f1731d"/>
<circle cx="248.31" cy="975.80" r="4.1" fill="#e75e2e"/>
<circle cx="248.31" cy="987.00" r="4.1" fill="#db503b"/>
<circle cx="248.31" cy="992.30" r="4.1" fill="#ef6c23"/>
<circle cx="248.31" cy="991.00" r="4.1" fill="#de5238"/>
<circle cx="256.04" cy="878.70" r="4.1" fill="#d94d3d"/>
<circle cx="256.04" cy="904.80" r="4.1" fill="#d34743"/>
<circle cx="256.04" cy="883.70" r="4.1" fill="#f1731d"/>
<circle cx="256.04" cy="890.97" r="4.1" fill="#f1711f"/>
<circle cx="256.04" cy="896.76" r="4.1" fill="#e45a31"/>
<circle cx="256.04" cy="903.80" r="4.1" fill="#d84c3e"/>
<circle cx="256.04" cy="907.80" r="4.1" fill="#e8602d"/>
<circle cx="256.04" cy="911.50" r="4.1" fill="#d54a41"/>
<circle cx="256.04" cy="915.80" r="4.1" fill="#d04545"/>
<circle cx="256.04" cy="921.38" r="4.1" fill="#e8602d"/>
<circle cx="256.04" cy="927.49" r="4.1" fill="#d94d3d"/>
<circle cx="256.04" cy="933.94" r="4.1" fill="#d24644"/>
<circle cx="256.04" cy="940.40" r="4.1" fill="#e05536"/>
<circle cx="256.04" cy="947.00" r="4.1" fill="#eb6628"/>
<circle cx="256.04" cy="953.70" r="4.1" fill="#c83f4b"/>
<circle cx="256.04" cy="962.60" r="4.1" fill="#d24644"/>
<circle cx="256.04" cy="966.80" r="4.1" fill="#e55c30"/>
<circle cx="256.04" cy="973.11" r="4.1" fill="#d44842"/>
<circle cx="256.04" cy="977.89" r="4.1" fill="#f1731d"/>
<circle cx="256.04" cy="984.20" r="4.1" fill="#eb6628"/>
<circle cx="263.78" cy="900.40" r="4.1" fill="#d74b3f"/>
<circle cx="263.78" cy="876.50" r="4.1" fill="#8c2369"/>
<circle cx="263.78" cy="882.89" r="4.1" fill="#ef6e21"/>
<circle cx="263.78" cy="889.24" r="4.1" fill="#df5337"/>
<circle cx="263.78" cy="895.08" r="4.1" fill="#f06f20"/>
<circle cx="263.78" cy="901.62" r="4.1" fill="#da4e3c"/>
<circle cx="263.78" cy="907.80" r="4.1" fill="#e9612b"/>
<circle cx="263.78" cy="912.30" r="4.1" fill="#d04545"/>
<circle cx="263.78" cy="915.30" r="4.1" fill="#ea632a"/>
<circle cx="263.78" cy="920.40" r="4.1" fill="#e45a31"/>
<circle cx="263.78" cy="935.90" r="4.1" fill="#e65d2f"/>
<circle cx="263.78" cy="945.40" r="4.1" fill="#932667"/>
<circle cx="263.78" cy="954.80" r="4.1" fill="#f1711f"/>
<circle cx="263.78" cy="963.70" r="4.1" fill="#f68013"/>
<circle cx="271.51" cy="866.50" r="4.1" fill="#eb6429"/>
<circle cx="271.51" cy="872.05" r="4.1" fill="#f2741c"/>
<circle cx="271.51" cy="878.30" r="4.1" fill="#e8602d"/>
<circle cx="271.51" cy="884.78" r="4.1" fill="#eb6429"/>
<circle cx="271.51" cy="891.50" r="4.1" fill="#f67e14"/>
<circle cx="271.51" cy="900.40" r="4.1" fill="#da4e3c"/>
<circle cx="271.51" cy="909.80" r="4.1" fill="#e15635"/>
<circle cx="271.51" cy="923.70" r="4.1" fill="#62146e"/>
<circle cx="271.51" cy="932.60" r="4.1" fill="#db503b"/>
<circle cx="271.51" cy="946.50" r="4.1" fill="#f68013"/>
<circle cx="271.51" cy="951.50" r="4.1" fill="#eb6429"/>
<circle cx="279.25" cy="855.40" r="4.1" fill="#ea632a"/>
<circle cx="279.25" cy="861.52" r="4.1" fill="#f68013"/>
<circle cx="279.25" cy="866.95" r="4.1" fill="#e05536"/>
<circle cx="279.25" cy="872.60" r="4.1" fill="#cc4248"/>
<circle cx="279.25" cy="878.87" r="4.1" fill="#6d186e"/>
<circle cx="279.25" cy="884.49" r="4.1" fill="#f78212"/>
<circle cx="279.25" cy="890.40" r="4.1" fill="#d94d3d"/>
<circle cx="279.25" cy="901.50" r="4.1" fill="#db503b"/>
<circle cx="279.25" cy="909.20" r="4.1" fill="#d94d3d"/>
<circle cx="279.25" cy="913.30" r="4.1" fill="#d04545"/>
<circle cx="279.25" cy="922.60" r="4.1" fill="#ec6726"/>
<circle cx="279.25" cy="927.00" r="4.1" fill="#ee6a24"/>
<circle cx="279.25" cy="931.50" r="4.1" fill="#e05536"/>
<circle cx="279.25" cy="935.80" r="4.1" fill="#e05536"/>
<circle cx="279.25" cy="940.40" r="4.1" fill="#f57d15"/>
<circle cx="286.98" cy="846.50" r="4.1" fill="#e9612b"/>
<circle cx="286.98" cy="854.80" r="4.1" fill="#ee6a24"/>
<circle cx="286.98" cy="860.40" r="4.1" fill="#d74b3f"/>
<circle cx="286.98" cy="865.90" r="4.1" fill="#eb6628"/>
<circle cx="286.98" cy="870.40" r="4.1" fill="#da4e3c"/>
<circle cx="286.98" cy="875.35" r="4.1" fill="#ea632a"/>
<circle cx="286.98" cy="881.42" r="4.1" fill="#ee6a24"/>
<circle cx="286.98" cy="886.54" r="4.1" fill="#ef6e21"/>
<circle cx="286.98" cy="891.50" r="4.1" fill="#e35933"/>
<circle cx="286.98" cy="893.70" r="4.1" fill="#d54a41"/>
<circle cx="286.98" cy="899.39" r="4.1" fill="#db503b"/>
<circle cx="286.98" cy="905.90" r="4.1" fill="#ed6925"/>
<circle cx="286.98" cy="907.80" r="4.1" fill="#e75e2e"/>
<circle cx="286.98" cy="917.00" r="4.1" fill="#e15635"/>
<circle cx="286.98" cy="922.60" r="4.1" fill="#ca404a"/>
<circle cx="286.98" cy="926.10" r="4.1" fill="#f1711f"/>
<circle cx="286.98" cy="930.40" r="4.1" fill="#f47918"/>
<circle cx="294.71" cy="835.40" r="4.1" fill="#ef6c23"/>
<circle cx="294.71" cy="843.02" r="4.1" fill="#ef6c23"/>
<circle cx="294.71" cy="850.40" r="4.1" fill="#fc9f07"/>
<circle cx="294.71" cy="854.80" r="4.1" fill="#e9612b"/>
<circle cx="294.71" cy="865.90" r="4.1" fill="#ef6c23"/>
<circle cx="294.71" cy="877.60" r="4.1" fill="#f2741c"/>
<circle cx="294.71" cy="890.40" r="4.1" fill="#d04545"/>
<circle cx="294.71" cy="895.72" r="4.1" fill="#d94d3d"/>
<circle cx="294.71" cy="901.55" r="4.1" fill="#e25734"/>
<circle cx="294.71" cy="906.59" r="4.1" fill="#e25734"/>
<circle cx="294.71" cy="911.50" r="4.1" fill="#d24644"/>
<circle cx="294.71" cy="914.60" r="4.1" fill="#fb9706"/>
<circle cx="294.71" cy="919.20" r="4.1" fill="#e75e2e"/>
<circle cx="294.71" cy="923.80" r="4.1" fill="#e8602d"/>
<circle cx="302.45" cy="822.60" r="4.1" fill="#ea632a"/>
<circle cx="302.45" cy="827.82" r="4.1" fill="#f78212"/>
<circle cx="302.45" cy="834.49" r="4.1" fill="#71196e"/>
<circle cx="302.45" cy="838.67" r="4.1" fill="#ef6e21"/>
<circle cx="302.45" cy="844.71" r="4.1" fill="#f57d15"/>
<circle cx="302.45" cy="850.40" r="4.1" fill="#f57b17"/>
<circle cx="302.45" cy="853.70" r="4.1" fill="#d34743"/>
<circle cx="302.45" cy="858.10" r="4.1" fill="#e05536"/>
<circle cx="302.45" cy="865.21" r="4.1" fill="#f06f20"/>
<circle cx="302.45" cy="871.50" r="4.1" fill="#d44842"/>
<circle cx="302.45" cy="890.40" r="4.1" fill="#df5337"/>
<circle cx="302.45" cy="895.40" r="4.1" fill="#f2741c"/>
<circle cx="302.45" cy="910.90" r="4.1" fill="#c43c4e"/>
<circle cx="310.18" cy="815.40" r="4.1" fill="#df5337"/>
<circle cx="310.18" cy="844.80" r="4.1" fill="#d34743"/>
<circle cx="310.18" cy="827.00" r="4.1" fill="#fa9207"/>
<circle cx="310.18" cy="833.69" r="4.1" fill="#ee6a24"/>
<circle cx="310.18" cy="841.50" r="4.1" fill="#e45a31"/>
<circle cx="310.18" cy="847.80" r="4.1" fill="#fca309"/>
<circle cx="310.18" cy="852.80" r="4.1" fill="#ef6c23"/>
<circle cx="310.18" cy="857.60" r="4.1" fill="#fa9407"/>
<circle cx="310.18" cy="861.50" r="4.1" fill="#d54a41"/>
<circle cx="310.18" cy="866.65" r="4.1" fill="#c03a51"/>
<circle cx="310.18" cy="871.10" r="4.1" fill="#d54a41"/>
<circle cx="310.18" cy="877.00" r="4.1" fill="#bd3853"/>
<circle cx="310.18" cy="879.20" r="4.1" fill="#ee6a24"/>
<circle cx="310.18" cy="888.10" r="4.1" fill="#ba3655"/>
<circle cx="310.18" cy="893.70" r="4.1" fill="#e15635"/>
<circle cx="317.92" cy="796.50" r="4.1" fill="#ef6c23"/>
<circle cx="317.92" cy="802.02" r="4.1" fill="#ea632a"/>
<circle cx="317.92" cy="807.00" r="4.1" fill="#de5238"/>
<circle cx="317.92" cy="814.80" r="4.1" fill="#e05536"/>
<circle cx="317.92" cy="821.16" r="4.1" fill="#de5238"/>
<circle cx="317.92" cy="826.78" r="4.1" fill="#f2741c"/>
<circle cx="317.92" cy="833.20" r="4.1" fill="#e25734"/>
<circle cx="317.92" cy="838.24" r="4.1" fill="#ef6c23"/>
<circle cx="317.92" cy="844.78" r="4.1" fill="#d44842"/>
<circle cx="317.92" cy="850.40" r="4.1" fill="#c03a51"/>
<circle cx="317.92" cy="861.50" r="4.1" fill="#ef6e21"/>
<circle cx="317.92" cy="866.80" r="4.1" fill="#eb6628"/>
<circle cx="317.92" cy="873.10" r="4.1" fill="#d34743"/>
<circle cx="317.92" cy="882.60" r="4.1" fill="#c73e4c"/>
<circle cx="317.92" cy="887.80" r="4.1" fill="#e15635"/>
<circle cx="325.65" cy="784.80" r="4.1" fill="#ef6c23"/>
<circle cx="325.65" cy="792.60" r="4.1" fill="#f06f20"/>
<circle cx="325.65" cy="800.80" r="4.1" fill="#f78212"/>
<circle cx="325.65" cy="816.30" r="4.1" fill="#d24644"/>
<circle cx="325.65" cy="821.95" r="4.1" fill="#d54a41"/>
<circle cx="325.65" cy="827.30" r="4.1" fill="#b43359"/>
<circle cx="325.65" cy="836.50" r="4.1" fill="#eb6429"/>
<circle cx="325.65" cy="846.80" r="4.1" fill="#f67e14"/>
<circle cx="325.65" cy="852.80" r="4.1" fill="#c03a51"/>
<circle cx="325.65" cy="856.80" r="4.1" fill="#b93556"/>
<circle cx="325.65" cy="867.30" r="4.1" fill="#f06f20"/>
<circle cx="325.65" cy="871.30" r="4.1" fill="#b93556"/>
<circle cx="325.65" cy="876.53" r="4.1" fill="#e55c30"/>
<circle cx="325.65" cy="881.50" r="4.1" fill="#e9612b"/>
<circle cx="333.38" cy="772.60" r="4.1" fill="#9f2a63"/>
<circle cx="333.38" cy="780.80" r="4.1" fill="#f1731d"/>
<circle cx="333.38" cy="786.08" r="4.1" fill="#f3761b"/>
<circle cx="333.38" cy="791.50" r="4.1" fill="#f68013"/>
<circle cx="333.38" cy="801.50" r="4.1" fill="#fb9706"/>
<circle cx="333.38" cy="805.60" r="4.1" fill="#f57d15"/>
<circle cx="333.38" cy="817.30" r="4.1" fill="#fb9d07"/>
<circle cx="333.38" cy="831.80" r="4.1" fill="#cf4446"/>
<circle cx="333.38" cy="813.80" r="4.1" fill="#e8602d"/>
<circle cx="333.38" cy="820.47" r="4.1" fill="#e9612b"/>
<circle cx="333.38" cy="826.76" r="4.1" fill="#df5337"/>
<circle cx="333.38" cy="832.13" r="4.1" fill="#ef6e21"/>
<circle cx="333.38" cy="838.56" r="4.1" fill="#eb6429"/>
<circle cx="333.38" cy="843.72" r="4.1" fill="#c33b4f"/>
<circle cx="333.38" cy="850.87" r="4.1" fill="#eb6628"/>
<circle cx="333.38" cy="856.91" r="4.1" fill="#ba3655"/>
<circle cx="333.38" cy="862.80" r="4.1" fill="#eb6628"/>
<circle cx="333.38" cy="866.70" r="4.1" fill="#e65d2f"/>
<circle cx="341.12" cy="767.60" r="4.1" fill="#ee6a24"/>
<circle cx="341.12" cy="787.00" r="4.1" fill="#ec6726"/>
<circle cx="341.12" cy="793.36" r="4.1" fill="#f37819"/>
<circle cx="341.12" cy="798.65" r="4.1" fill="#e55c30"/>
<circle cx="341.12" cy="803.70" r="4.1" fill="#e35933"/>
<circle cx="341.12" cy="822.30" r="4.1" fill="#fca108"/>
<circle cx="341.12" cy="827.83" r="4.1" fill="#d84c3e"/>
<circle cx="341.12" cy="833.87" r="4.1" fill="#d24644"/>
<circle cx="341.12" cy="840.19" r="4.1" fill="#e65d2f"/>
<circle cx="341.12" cy="845.80" r="4.1" fill="#ad305d"/>
<circle cx="341.12" cy="849.20" r="4.1" fill="#bd3853"/>
<circle cx="341.12" cy="854.80" r="4.1" fill="#cf4446"/>
<circle cx="341.12" cy="862.00" r="4.1" fill="#ad305d"/>
<circle cx="341.12" cy="873.10" r="4.1" fill="#c63d4d"/>
<circle cx="348.85" cy="752.60" r="4.1" fill="#f57b17"/>
<circle cx="348.85" cy="774.80" r="4.1" fill="#d44842"/>
<circle cx="348.85" cy="759.80" r="4.1" fill="#f3761b"/>
<circle cx="348.85" cy="765.04" r="4.1" fill="#ec6726"/>
<circle cx="348.85" cy="771.80" r="4.1" fill="#d84c3e"/>
<circle cx="348.85" cy="790.40" r="4.1" fill="#f67e14"/>
<circle cx="348.85" cy="798.10" r="4.1" fill="#e75e2e"/>
<circle cx="348.85" cy="804.20" r="4.1" fill="#eb6628"/>
<circle cx="348.85" cy="810.80" r="4.1" fill="#fca80d"/>
<circle cx="348.85" cy="818.10" r="4.1" fill="#f68013"/>
<circle cx="348.85" cy="831.50" r="4.1" fill="#ca404a"/>
<circle cx="348.85" cy="837.59" r="4.1" fill="#b0315b"/>
<circle cx="348.85" cy="843.80" r="4.1" fill="#cb4149"/>
<circle cx="348.85" cy="846.80" r="4.1" fill="#69166e"/>
<circle cx="348.85" cy="850.80" r="4.1" fill="#cc4248"/>
<circle cx="348.85" cy="854.80" r="4.1" fill="#ae305c"/>
<circle cx="348.85" cy="860.40" r="4.1" fill="#c03a51"/>
<circle cx="356.59" cy="756.30" r="4.1" fill="#e05536"/>
<circle cx="356.59" cy="775.40" r="4.1" fill="#d74b3f"/>
<circle cx="356.59" cy="780.80" r="4.1" fill="#e05536"/>
<circle cx="356.59" cy="795.10" r="4.1" fill="#e35933"/>
<circle cx="356.59" cy="801.14" r="4.1" fill="#d34743"/>
<circle cx="356.59" cy="807.62" r="4.1" fill="#f57b17"/>
<circle cx="356.59" cy="814.80" r="4.1" fill="#f57d15"/>
<circle cx="356.59" cy="818.40" r="4.1" fill="#ed6925"/>
<circle cx="356.59" cy="822.80" r="4.1" fill="#ed6925"/>
<circle cx="356.59" cy="827.98" r="4.1" fill="#d74b3f"/>
<circle cx="356.59" cy="835.00" r="4.1" fill="#6d186e"/>
<circle cx="356.59" cy="839.86" r="4.1" fill="#bd3853"/>
<circle cx="356.59" cy="845.93" r="4.1" fill="#bd3853"/>
<circle cx="356.59" cy="852.04" r="4.1" fill="#ad305d"/>
<circle cx="356.59" cy="858.10" r="4.1" fill="#ba3655"/>
<circle cx="364.32" cy="741.30" r="4.1" fill="#f57b17"/>
<circle cx="364.32" cy="747.60" r="4.1" fill="#ef6c23"/>
<circle cx="364.32" cy="752.10" r="4.1" fill="#f2741c"/>
<circle cx="364.32" cy="762.60" r="4.1" fill="#f67e14"/>
<circle cx="364.32" cy="766.50" r="4.1" fill="#eb6628"/>
<circle cx="364.32" cy="771.50" r="4.1" fill="#e65d2f"/>
<circle cx="364.32" cy="774.40" r="4.1" fill="#f47918"/>
<circle cx="364.32" cy="792.60" r="4.1" fill="#f06f20"/>
<circle cx="364.32" cy="798.74" r="4.1" fill="#d94d3d"/>
<circle cx="364.32" cy="803.70" r="4.1" fill="#d74b3f"/>
<circle cx="364.32" cy="811.30" r="4.1" fill="#ca404a"/>
<circle cx="364.32" cy="815.80" r="4.1" fill="#e05536"/>
<circle cx="364.32" cy="840.40" r="4.1" fill="#a52c60"/>
<circle cx="364.32" cy="828.10" r="4.1" fill="#b1325a"/>
<circle cx="364.32" cy="832.78" r="4.1" fill="#a62d60"/>
<circle cx="364.32" cy="838.80" r="4.1" fill="#a02a63"/>
<circle cx="364.32" cy="843.80" r="4.1" fill="#ce4347"/>
<circle cx="364.32" cy="850.32" r="4.1" fill="#b3325a"/>
<circle cx="364.32" cy="857.00" r="4.1" fill="#a52c60"/>
<circle cx="372.05" cy="736.60" r="4.1" fill="#ea632a"/>
<circle cx="372.05" cy="746.50" r="4.1" fill="#e35933"/>
<circle cx="372.05" cy="750.60" r="4.1" fill="#d54a41"/>
<circle cx="372.05" cy="776.80" r="4.1" fill="#e55c30"/>
<circle cx="372.05" cy="784.80" r="4.1" fill="#f1731d"/>
<circle cx="372.05" cy="789.58" r="4.1" fill="#fb9b06"/>
<circle cx="372.05" cy="794.20" r="4.1" fill="#e9612b"/>
<circle cx="372.05" cy="809.40" r="4.1" fill="#eb6429"/>
<circle cx="372.05" cy="819.80" r="4.1" fill="#d74b3f"/>
<circle cx="372.05" cy="826.88" r="4.1" fill="#c33b4f"/>
<circle cx="372.05" cy="833.24" r="4.1" fill="#d04545"/>
<circle cx="372.05" cy="839.20" r="4.1" fill="#ba3655"/>
<circle cx="372.05" cy="843.70" r="4.1" fill="#ba3655"/>
<circle cx="372.05" cy="847.80" r="4.1" fill="#b73557"/>
<circle cx="372.05" cy="853.70" r="4.1" fill="#a92e5e"/>
<circle cx="379.79" cy="740.50" r="4.1" fill="#ef6c23"/>
<circle cx="379.79" cy="765.80" r="4.1" fill="#f57b17"/>
<circle cx="379.79" cy="769.80" r="4.1" fill="#f57b17"/>
<circle cx="379.79" cy="774.40" r="4.1" fill="#e65d2f"/>
<circle cx="379.79" cy="807.30" r="4.1" fill="#ed6925"/>
<circle cx="379.79" cy="841.80" r="4.1" fill="#c43c4e"/>
<circle cx="379.79" cy="819.20" r="4.1" fill="#84206b"/>
<circle cx="379.79" cy="826.32" r="4.1" fill="#a82e5f"/>
<circle cx="379.79" cy="831.91" r="4.1" fill="#b43359"/>
<circle cx="379.79" cy="838.80" r="4.1" fill="#b0315b"/>
<circle cx="379.79" cy="845.80" r="4.1" fill="#cc4248"/>
<circle cx="387.52" cy="726.30" r="4.1" fill="#e65d2f"/>
<circle cx="387.52" cy="737.80" r="4.1" fill="#f57b17"/>
<circle cx="387.52" cy="743.80" r="4.1" fill="#ca404a"/>
<circle cx="387.52" cy="750.50" r="4.1" fill="#e05536"/>
<circle cx="387.52" cy="801.60" r="4.1" fill="#eb6628"/>
<circle cx="387.52" cy="805.70" r="4.1" fill="#c83f4b"/>
<circle cx="387.52" cy="816.10" r="4.1" fill="#bc3754"/>
<circle cx="387.52" cy="820.30" r="4.1" fill="#a92e5e"/>
<circle cx="387.52" cy="833.20" r="4.1" fill="#a62d60"/>
<circle cx="387.52" cy="838.06" r="4.1" fill="#771c6d"/>
<circle cx="387.52" cy="843.20" r="4.1" fill="#cb4149"/>
<circle cx="395.26" cy="718.10" r="4.1" fill="#8a226a"/>
<circle cx="395.26" cy="723.10" r="4.1" fill="#e65d2f"/>
<circle cx="395.26" cy="756.50" r="4.1" fill="#d74b3f"/>
<circle cx="395.26" cy="754.10" r="4.1" fill="#d44842"/>
<circle cx="395.26" cy="786.80" r="4.1" fill="#f2741c"/>
<circle cx="395.26" cy="790.80" r="4.1" fill="#bf3952"/>
<circle cx="395.26" cy="800.30" r="4.1" fill="#f57b17"/>
<circle cx="395.26" cy="821.80" r="4.1" fill="#b93556"/>
<circle cx="395.26" cy="827.00" r="4.1" fill="#b63458"/>
<circle cx="395.26" cy="831.50" r="4.1" fill="#a02a63"/>
<circle cx="395.26" cy="837.80" r="4.1" fill="#b43359"/>
<circle cx="395.26" cy="841.50" r="4.1" fill="#ce4347"/>
<circle cx="395.26" cy="847.00" r="4.1" fill="#b0315b"/>
<circle cx="402.99" cy="708.10" r="4.1" fill="#e8602d"/>
<circle cx="402.99" cy="801.80" r="4.1" fill="#e35933"/>
<circle cx="402.99" cy="815.50" r="4.1" fill="#751b6e"/>
<circle cx="402.99" cy="819.30" r="4.1" fill="#6d186e"/>
<circle cx="402.99" cy="824.80" r="4.1" fill="#771c6d"/>
<circle cx="402.99" cy="833.20" r="4.1" fill="#c83f4b"/>
<circle cx="402.99" cy="837.30" r="4.1" fill="#bd3853"/>
<circle cx="402.99" cy="840.80" r="4.1" fill="#6a176e"/>
<circle cx="410.72" cy="706.00" r="4.1" fill="#f47918"/>
<circle cx="410.72" cy="703.10" r="4.1" fill="#d34743"/>
<circle cx="410.72" cy="814.80" r="4.1" fill="#cb4149"/>
<circle cx="410.72" cy="816.80" r="4.1" fill="#b63458"/>
<circle cx="410.72" cy="819.00" r="4.1" fill="#6f196e"/>
<circle cx="410.72" cy="831.80" r="4.1" fill="#a82e5f"/>
<circle cx="410.72" cy="836.32" r="4.1" fill="#a02a63"/>
<circle cx="410.72" cy="841.30" r="4.1" fill="#c63d4d"/>
<circle cx="418.46" cy="743.90" r="4.1" fill="#df5337"/>
<circle cx="418.46" cy="766.50" r="4.1" fill="#db503b"/>
<circle cx="418.46" cy="782.00" r="4.1" fill="#e15635"/>
<circle cx="418.46" cy="786.50" r="4.1" fill="#d54a41"/>
<circle cx="418.46" cy="810.50" r="4.1" fill="#7f1e6c"/>
<circle cx="418.46" cy="824.50" r="4.1" fill="#6d186e"/>
<circle cx="418.46" cy="832.80" r="4.1" fill="#6f196e"/>
<circle cx="418.46" cy="837.00" r="4.1" fill="#a92e5e"/>
<circle cx="426.19" cy="704.80" r="4.1" fill="#d44842"/>
<circle cx="426.19" cy="763.10" r="4.1" fill="#e65d2f"/>
<circle cx="426.19" cy="772.70" r="4.1" fill="#de5238"/>
<circle cx="426.19" cy="828.10" r="4.1" fill="#c73e4c"/>
<circle cx="426.19" cy="835.40" r="4.1" fill="#ae305c"/>
<circle cx="433.93" cy="735.70" r="4.1" fill="#f1711f"/>
<circle cx="433.93" cy="760.80" r="4.1" fill="#f2741c"/>
<circle cx="433.93" cy="771.50" r="4.1" fill="#f3761b"/>
<circle cx="433.93" cy="812.00" r="4.1" fill="#65156e"/>
<circle cx="433.93" cy="825.90" r="4.1" fill="#bc3754"/>
<circle cx="433.93" cy="832.60" r="4.1" fill="#b3325a"/>
<circle cx="441.66" cy="703.70" r="4.1" fill="#e75e2e"/>
<circle cx="441.66" cy="706.50" r="4.1" fill="#ef6c23"/>
<circle cx="441.66" cy="769.30" r="4.1" fill="#6c186e"/>
<circle cx="441.66" cy="802.00" r="4.1" fill="#84206b"/>
<circle cx="441.66" cy="808.40" r="4.1" fill="#b93556"/>
<circle cx="441.66" cy="826.50" r="4.1" fill="#b63458"/>
<circle cx="449.39" cy="673.10" r="4.1" fill="#d74b3f"/>
<circle cx="449.39" cy="745.40" r="4.1" fill="#a02a63"/>
<circle cx="449.39" cy="795.90" r="4.1" fill="#bf3952"/>
<circle cx="449.39" cy="802.00" r="4.1" fill="#ce4347"/>
<circle cx="449.39" cy="822.00" r="4.1" fill="#b1325a"/>
<circle cx="449.39" cy="828.10" r="4.1" fill="#b1325a"/>
<circle cx="457.13" cy="822.20" r="4.1" fill="#b43359"/>
<circle cx="464.86" cy="829.50" r="4.1" fill="#c43c4e"/>
<circle cx="472.60" cy="826.50" r="4.1" fill="#b93556"/>
<circle cx="480.33" cy="799.80" r="4.1" fill="#bc3754"/>
<circle cx="480.33" cy="822.80" r="4.1" fill="#bc3754"/>
<circle cx="488.06" cy="823.40" r="4.1" fill="#c73e4c"/>
<circle cx="503.53" cy="822.80" r="4.1" fill="#b0315b"/>
<rect x="90.10" y="650.10" width="432.80" height="519.70" fill="none" stroke="#262626" stroke-width="1.3"/>
<line x1="132.30" x2="132.30" y1="1169.80" y2="1174.80" stroke="#2b2b2b" stroke-width="1.3"/>
<text x="132.30" y="1190.50" font-size="15.5" fill="#4d4d4d" text-anchor="middle">50</text>
<line x1="209.64" x2="209.64" y1="1169.80" y2="1174.80" stroke="#2b2b2b" stroke-width="1.3"/>
<text x="209.64" y="1190.50" font-size="15.5" fill="#4d4d4d" text-anchor="middle">60</text>
<line x1="286.98" x2="286.98" y1="1169.80" y2="1174.80" stroke="#2b2b2b" stroke-width="1.3"/>
<text x="286.98" y="1190.50" font-size="15.5" fill="#4d4d4d" text-anchor="middle">70</text>
<line x1="364.32" x2="364.32" y1="1169.80" y2="1174.80" stroke="#2b2b2b" stroke-width="1.3"/>
<text x="364.32" y="1190.50" font-size="15.5" fill="#4d4d4d" text-anchor="middle">80</text>
<line x1="441.66" x2="441.66" y1="1169.80" y2="1174.80" stroke="#2b2b2b" stroke-width="1.3"/>
<text x="441.66" y="1190.50" font-size="15.5" fill="#4d4d4d" text-anchor="middle">90</text>
<line x1="519.00" x2="519.00" y1="1169.80" y2="1174.80" stroke="#2b2b2b" stroke-width="1.3"/>
<text x="519.00" y="1190.50" font-size="15.5" fill="#4d4d4d" text-anchor="middle">100</text>
<line x1="85.10" x2="90.10" y1="740.10" y2="740.10" stroke="#2b2b2b" stroke-width="1.3"/>
<text x="81.60" y="745.50" font-size="15.5" fill="#4d4d4d" text-anchor="end">0.4</text>
<line x1="85.10" x2="90.10" y1="893.60" y2="893.60" stroke="#2b2b2b" stroke-width="1.3"/>
<text x="81.60" y="899.00" font-size="15.5" fill="#4d4d4d" text-anchor="end">0.0</text>
<line x1="85.10" x2="90.10" y1="1047.10" y2="1047.10" stroke="#2b2b2b" stroke-width="1.3"/>
<text x="81.60" y="1052.50" font-size="15.5" fill="#4d4d4d" text-anchor="end">−0.4</text>
<text x="306.50" y="1210.60" font-size="18.8" fill="#000" text-anchor="middle">Age</text>
<text transform="translate(42.70,909.95) rotate(-90)" font-size="18.8" fill="#000" text-anchor="middle">SHAP value</text>
<text x="306.50" y="635.50" font-size="22.1" font-weight="bold" fill="#000" text-anchor="middle">Logistic</text>
<text x="2.9" y="634.50" font-size="22.4" fill="#000">D</text>
<text x="551.00" y="837.70" font-size="18.8" fill="#000">HGB</text>
<rect x="551.00" y="849.70" width="30" height="147.20" fill="url(#inf)"/>
<line x1="551.00" x2="557.00" y1="853.10" y2="853.10" stroke="#fff" stroke-width="0.9" opacity="0.85"/>
<line x1="575.00" x2="581.00" y1="853.10" y2="853.10" stroke="#fff" stroke-width="0.9" opacity="0.85"/>
<text x="590.80" y="858.40" font-size="15.1" fill="#000">175</text>
<line x1="551.00" x2="557.00" y1="880.60" y2="880.60" stroke="#fff" stroke-width="0.9" opacity="0.85"/>
<line x1="575.00" x2="581.00" y1="880.60" y2="880.60" stroke="#fff" stroke-width="0.9" opacity="0.85"/>
<text x="590.80" y="885.90" font-size="15.1" fill="#000">150</text>
<line x1="551.00" x2="557.00" y1="907.60" y2="907.60" stroke="#fff" stroke-width="0.9" opacity="0.85"/>
<line x1="575.00" x2="581.00" y1="907.60" y2="907.60" stroke="#fff" stroke-width="0.9" opacity="0.85"/>
<text x="590.80" y="912.90" font-size="15.1" fill="#000">125</text>
<line x1="551.00" x2="557.00" y1="934.80" y2="934.80" stroke="#fff" stroke-width="0.9" opacity="0.85"/>
<line x1="575.00" x2="581.00" y1="934.80" y2="934.80" stroke="#fff" stroke-width="0.9" opacity="0.85"/>
<text x="590.80" y="940.10" font-size="15.1" fill="#000">100</text>
<line x1="551.00" x2="557.00" y1="961.70" y2="961.70" stroke="#fff" stroke-width="0.9" opacity="0.85"/>
<line x1="575.00" x2="581.00" y1="961.70" y2="961.70" stroke="#fff" stroke-width="0.9" opacity="0.85"/>
<text x="590.80" y="967.00" font-size="15.1" fill="#000">75</text>
<line x1="551.00" x2="557.00" y1="988.90" y2="988.90" stroke="#fff" stroke-width="0.9" opacity="0.85"/>
<line x1="575.00" x2="581.00" y1="988.90" y2="988.90" stroke="#fff" stroke-width="0.9" opacity="0.85"/>
<text x="590.80" y="994.20" font-size="15.1" fill="#000">50</text>
</g>
<g>
<line x1="729.86" x2="729.86" y1="650.10" y2="1169.80" stroke="#f0f0f0" stroke-width="0.8"/>
<line x1="808.74" x2="808.74" y1="650.10" y2="1169.80" stroke="#f0f0f0" stroke-width="0.8"/>
<line x1="887.62" x2="887.62" y1="650.10" y2="1169.80" stroke="#f0f0f0" stroke-width="0.8"/>
<line x1="966.50" x2="966.50" y1="650.10" y2="1169.80" stroke="#f0f0f0" stroke-width="0.8"/>
<line x1="1045.38" x2="1045.38" y1="650.10" y2="1169.80" stroke="#f0f0f0" stroke-width="0.8"/>
<line x1="1124.26" x2="1124.26" y1="650.10" y2="1169.80" stroke="#f0f0f0" stroke-width="0.8"/>
<line x1="726.20" x2="1167.50" y1="663.35" y2="663.35" stroke="#f0f0f0" stroke-width="0.8"/>
<line x1="726.20" x2="1167.50" y1="816.85" y2="816.85" stroke="#f0f0f0" stroke-width="0.8"/>
<line x1="726.20" x2="1167.50" y1="970.35" y2="970.35" stroke="#f0f0f0" stroke-width="0.8"/>
<line x1="726.20" x2="1167.50" y1="1123.85" y2="1123.85" stroke="#f0f0f0" stroke-width="0.8"/>
<line x1="769.30" x2="769.30" y1="650.10" y2="1169.80" stroke="#e8e8e8" stroke-width="1.4"/>
<line x1="848.18" x2="848.18" y1="650.10" y2="1169.80" stroke="#e8e8e8" stroke-width="1.4"/>
<line x1="927.06" x2="927.06" y1="650.10" y2="1169.80" stroke="#e8e8e8" stroke-width="1.4"/>
<line x1="1005.94" x2="1005.94" y1="650.10" y2="1169.80" stroke="#e8e8e8" stroke-width="1.4"/>
<line x1="1084.82" x2="1084.82" y1="650.10" y2="1169.80" stroke="#e8e8e8" stroke-width="1.4"/>
<line x1="1163.70" x2="1163.70" y1="650.10" y2="1169.80" stroke="#e8e8e8" stroke-width="1.4"/>
<line x1="726.20" x2="1167.50" y1="740.10" y2="740.10" stroke="#e8e8e8" stroke-width="1.4"/>
<line x1="726.20" x2="1167.50" y1="893.60" y2="893.60" stroke="#e8e8e8" stroke-width="1.4"/>
<line x1="726.20" x2="1167.50" y1="1047.10" y2="1047.10" stroke="#e8e8e8" stroke-width="1.4"/>
<circle cx="745.64" cy="1140.10" r="4.1" fill="#6d186e"/>
<circle cx="745.64" cy="1147.00" r="4.1" fill="#7d1e6d"/>
<circle cx="769.30" cy="956.80" r="4.1" fill="#62146e"/>
<circle cx="769.30" cy="995.90" r="4.1" fill="#c33b4f"/>
<circle cx="769.30" cy="1008.70" r="4.1" fill="#88226a"/>
<circle cx="769.30" cy="1081.20" r="4.1" fill="#88226a"/>
<circle cx="769.30" cy="1080.00" r="4.1" fill="#7a1d6d"/>
<circle cx="769.30" cy="1073.70" r="4.1" fill="#741a6e"/>
<circle cx="769.30" cy="1136.10" r="4.1" fill="#741a6e"/>
<circle cx="777.19" cy="971.50" r="4.1" fill="#cc4248"/>
<circle cx="777.19" cy="978.10" r="4.1" fill="#cb4149"/>
<circle cx="777.19" cy="1003.10" r="4.1" fill="#85216b"/>
<circle cx="777.19" cy="1039.80" r="4.1" fill="#88226a"/>
<circle cx="777.19" cy="1100.60" r="4.1" fill="#741a6e"/>
<circle cx="777.19" cy="1122.20" r="4.1" fill="#64156e"/>
<circle cx="785.08" cy="962.00" r="4.1" fill="#84206b"/>
<circle cx="785.08" cy="969.80" r="4.1" fill="#8c2369"/>
<circle cx="785.08" cy="977.00" r="4.1" fill="#a82e5f"/>
<circle cx="785.08" cy="1002.60" r="4.1" fill="#6c186e"/>
<circle cx="785.08" cy="1006.50" r="4.1" fill="#771c6d"/>
<circle cx="785.08" cy="1010.40" r="4.1" fill="#82206c"/>
<circle cx="785.08" cy="1034.20" r="4.1" fill="#8d2369"/>
<circle cx="785.08" cy="1037.80" r="4.1" fill="#62146e"/>
<circle cx="785.08" cy="1061.50" r="4.1" fill="#ab2f5e"/>
<circle cx="785.08" cy="1075.00" r="4.1" fill="#801f6c"/>
<circle cx="785.08" cy="1080.90" r="4.1" fill="#67166e"/>
<circle cx="792.96" cy="956.10" r="4.1" fill="#c73e4c"/>
<circle cx="792.96" cy="963.70" r="4.1" fill="#a32c61"/>
<circle cx="792.96" cy="974.20" r="4.1" fill="#d54a41"/>
<circle cx="792.96" cy="979.20" r="4.1" fill="#6a176e"/>
<circle cx="792.96" cy="992.00" r="4.1" fill="#781c6d"/>
<circle cx="792.96" cy="997.00" r="4.1" fill="#801f6c"/>
<circle cx="792.96" cy="1005.90" r="4.1" fill="#b3325a"/>
<circle cx="792.96" cy="1017.00" r="4.1" fill="#7c1d6d"/>
<circle cx="792.96" cy="1030.90" r="4.1" fill="#c13a50"/>
<circle cx="792.96" cy="1044.20" r="4.1" fill="#67166e"/>
<circle cx="792.96" cy="1049.20" r="4.1" fill="#781c6d"/>
<circle cx="792.96" cy="1056.50" r="4.1" fill="#8c2369"/>
<circle cx="792.96" cy="1077.20" r="4.1" fill="#8f2469"/>
<circle cx="792.96" cy="1093.70" r="4.1" fill="#8d2369"/>
<circle cx="792.96" cy="1107.80" r="4.1" fill="#751b6e"/>
<circle cx="800.85" cy="951.50" r="4.1" fill="#e05536"/>
<circle cx="800.85" cy="970.30" r="4.1" fill="#6c186e"/>
<circle cx="800.85" cy="968.30" r="4.1" fill="#7f1e6c"/>
<circle cx="800.85" cy="977.00" r="4.1" fill="#7d1e6d"/>
<circle cx="800.85" cy="992.00" r="4.1" fill="#71196e"/>
<circle cx="800.85" cy="1001.50" r="4.1" fill="#8d2369"/>
<circle cx="800.85" cy="1021.50" r="4.1" fill="#85216b"/>
<circle cx="800.85" cy="1103.70" r="4.1" fill="#64156e"/>
<circle cx="800.85" cy="1108.70" r="4.1" fill="#8f2469"/>
<circle cx="808.74" cy="955.90" r="4.1" fill="#85216b"/>
<circle cx="808.74" cy="962.57" r="4.1" fill="#8d2369"/>
<circle cx="808.74" cy="969.80" r="4.1" fill="#c13a50"/>
<circle cx="808.74" cy="977.60" r="4.1" fill="#82206c"/>
<circle cx="808.74" cy="987.00" r="4.1" fill="#721a6e"/>
<circle cx="808.74" cy="1004.00" r="4.1" fill="#87216b"/>
<circle cx="808.74" cy="1034.20" r="4.1" fill="#88226a"/>
<circle cx="808.74" cy="1047.30" r="4.1" fill="#64156e"/>
<circle cx="808.74" cy="1049.30" r="4.1" fill="#82206c"/>
<circle cx="808.74" cy="1052.30" r="4.1" fill="#bf3952"/>
<circle cx="808.74" cy="1055.30" r="4.1" fill="#65156e"/>
<circle cx="808.74" cy="1083.70" r="4.1" fill="#6a176e"/>
<circle cx="808.74" cy="1105.00" r="4.1" fill="#7d1e6d"/>
<circle cx="816.63" cy="953.10" r="4.1" fill="#bf3952"/>
<circle cx="816.63" cy="959.20" r="4.1" fill="#6a176e"/>
<circle cx="816.63" cy="968.10" r="4.1" fill="#751b6e"/>
<circle cx="816.63" cy="972.60" r="4.1" fill="#8f2469"/>
<circle cx="816.63" cy="982.00" r="4.1" fill="#771c6d"/>
<circle cx="816.63" cy="991.50" r="4.1" fill="#7a1d6d"/>
<circle cx="816.63" cy="997.00" r="4.1" fill="#69166e"/>
<circle cx="816.63" cy="1008.70" r="4.1" fill="#67166e"/>
<circle cx="816.63" cy="1049.80" r="4.1" fill="#801f6c"/>
<circle cx="816.63" cy="1073.10" r="4.1" fill="#902568"/>
<circle cx="816.63" cy="1079.20" r="4.1" fill="#cc4248"/>
<circle cx="816.63" cy="1082.80" r="4.1" fill="#c33b4f"/>
<circle cx="816.63" cy="1086.80" r="4.1" fill="#85216b"/>
<circle cx="824.52" cy="946.50" r="4.1" fill="#ad305d"/>
<circle cx="824.52" cy="952.80" r="4.1" fill="#7c1d6d"/>
<circle cx="824.52" cy="958.24" r="4.1" fill="#972766"/>
<circle cx="824.52" cy="964.80" r="4.1" fill="#71196e"/>
<circle cx="824.52" cy="979.50" r="4.1" fill="#801f6c"/>
<circle cx="824.52" cy="992.60" r="4.1" fill="#8c2369"/>
<circle cx="824.52" cy="997.00" r="4.1" fill="#801f6c"/>
<circle cx="824.52" cy="1001.50" r="4.1" fill="#69166e"/>
<circle cx="824.52" cy="1022.00" r="4.1" fill="#6c186e"/>
<circle cx="824.52" cy="1030.90" r="4.1" fill="#a92e5e"/>
<circle cx="824.52" cy="1055.90" r="4.1" fill="#8c2369"/>
<circle cx="824.52" cy="1065.00" r="4.1" fill="#7f1e6c"/>
<circle cx="824.52" cy="1074.80" r="4.1" fill="#801f6c"/>
<circle cx="824.52" cy="1080.40" r="4.1" fill="#c73e4c"/>
<circle cx="832.40" cy="944.20" r="4.1" fill="#e15635"/>
<circle cx="832.40" cy="949.30" r="4.1" fill="#9f2a63"/>
<circle cx="832.40" cy="956.29" r="4.1" fill="#982766"/>
<circle cx="832.40" cy="962.80" r="4.1" fill="#902568"/>
<circle cx="832.40" cy="967.30" r="4.1" fill="#69166e"/>
<circle cx="832.40" cy="983.70" r="4.1" fill="#781c6d"/>
<circle cx="832.40" cy="995.90" r="4.1" fill="#65156e"/>
<circle cx="832.40" cy="1025.40" r="4.1" fill="#751b6e"/>
<circle cx="832.40" cy="1054.20" r="4.1" fill="#67166e"/>
<circle cx="832.40" cy="1058.10" r="4.1" fill="#84206b"/>
<circle cx="832.40" cy="1068.50" r="4.1" fill="#87216b"/>
<circle cx="840.29" cy="940.40" r="4.1" fill="#751b6e"/>
<circle cx="840.29" cy="950.40" r="4.1" fill="#8c2369"/>
<circle cx="840.29" cy="954.80" r="4.1" fill="#df5337"/>
<circle cx="840.29" cy="968.10" r="4.1" fill="#ab2f5e"/>
<circle cx="840.29" cy="981.50" r="4.1" fill="#65156e"/>
<circle cx="840.29" cy="987.00" r="4.1" fill="#8f2469"/>
<circle cx="840.29" cy="991.50" r="4.1" fill="#71196e"/>
<circle cx="840.29" cy="1025.90" r="4.1" fill="#65156e"/>
<circle cx="840.29" cy="1030.40" r="4.1" fill="#8d2369"/>
<circle cx="840.29" cy="1034.80" r="4.1" fill="#61136e"/>
<circle cx="840.29" cy="1036.50" r="4.1" fill="#88226a"/>
<circle cx="840.29" cy="1045.90" r="4.1" fill="#771c6d"/>
<circle cx="840.29" cy="1050.40" r="4.1" fill="#64156e"/>
<circle cx="840.29" cy="1058.70" r="4.1" fill="#84206b"/>
<circle cx="840.29" cy="1062.60" r="4.1" fill="#b93556"/>
<circle cx="848.18" cy="925.90" r="4.1" fill="#ee6a24"/>
<circle cx="848.18" cy="931.17" r="4.1" fill="#71196e"/>
<circle cx="848.18" cy="937.80" r="4.1" fill="#902568"/>
<circle cx="848.18" cy="941.50" r="4.1" fill="#8d2369"/>
<circle cx="848.18" cy="950.40" r="4.1" fill="#61136e"/>
<circle cx="848.18" cy="967.80" r="4.1" fill="#741a6e"/>
<circle cx="848.18" cy="978.70" r="4.1" fill="#71196e"/>
<circle cx="848.18" cy="997.60" r="4.1" fill="#902568"/>
<circle cx="848.18" cy="1012.00" r="4.1" fill="#82206c"/>
<circle cx="848.18" cy="1032.60" r="4.1" fill="#64156e"/>
<circle cx="848.18" cy="1037.26" r="4.1" fill="#7a1d6d"/>
<circle cx="848.18" cy="1041.80" r="4.1" fill="#bf3952"/>
<circle cx="848.18" cy="1045.80" r="4.1" fill="#82206c"/>
<circle cx="848.18" cy="1049.80" r="4.1" fill="#61136e"/>
<circle cx="856.07" cy="923.70" r="4.1" fill="#f37819"/>
<circle cx="856.07" cy="930.04" r="4.1" fill="#a52c60"/>
<circle cx="856.07" cy="936.80" r="4.1" fill="#9f2a63"/>
<circle cx="856.07" cy="938.80" r="4.1" fill="#801f6c"/>
<circle cx="856.07" cy="943.29" r="4.1" fill="#741a6e"/>
<circle cx="856.07" cy="949.20" r="4.1" fill="#67166e"/>
<circle cx="856.07" cy="959.20" r="4.1" fill="#87216b"/>
<circle cx="856.07" cy="966.50" r="4.1" fill="#721a6e"/>
<circle cx="856.07" cy="990.40" r="4.1" fill="#b63458"/>
<circle cx="856.07" cy="1002.40" r="4.1" fill="#902568"/>
<circle cx="856.07" cy="1014.80" r="4.1" fill="#62146e"/>
<circle cx="856.07" cy="1019.20" r="4.1" fill="#85216b"/>
<circle cx="856.07" cy="1027.00" r="4.1" fill="#c03a51"/>
<circle cx="856.07" cy="1032.60" r="4.1" fill="#87216b"/>
<circle cx="856.07" cy="1036.80" r="4.1" fill="#64156e"/>
<circle cx="856.07" cy="1041.50" r="4.1" fill="#7d1e6d"/>
<circle cx="863.96" cy="918.10" r="4.1" fill="#82206c"/>
<circle cx="863.96" cy="923.68" r="4.1" fill="#a52c60"/>
<circle cx="863.96" cy="928.49" r="4.1" fill="#6a176e"/>
<circle cx="863.96" cy="934.80" r="4.1" fill="#902568"/>
<circle cx="863.96" cy="937.80" r="4.1" fill="#8f2469"/>
<circle cx="863.96" cy="943.03" r="4.1" fill="#69166e"/>
<circle cx="863.96" cy="947.78" r="4.1" fill="#8d2369"/>
<circle cx="863.96" cy="953.80" r="4.1" fill="#721a6e"/>
<circle cx="863.96" cy="956.30" r="4.1" fill="#87216b"/>
<circle cx="863.96" cy="964.20" r="4.1" fill="#69166e"/>
<circle cx="863.96" cy="987.60" r="4.1" fill="#8f2469"/>
<circle cx="863.96" cy="993.70" r="4.1" fill="#8a226a"/>
<circle cx="863.96" cy="1001.50" r="4.1" fill="#7c1d6d"/>
<circle cx="863.96" cy="1008.10" r="4.1" fill="#87216b"/>
<circle cx="863.96" cy="1018.70" r="4.1" fill="#8c2369"/>
<circle cx="863.96" cy="1029.80" r="4.1" fill="#8a226a"/>
<circle cx="871.84" cy="909.80" r="4.1" fill="#7a1d6d"/>
<circle cx="871.84" cy="916.15" r="4.1" fill="#741a6e"/>
<circle cx="871.84" cy="923.80" r="4.1" fill="#7a1d6d"/>
<circle cx="871.84" cy="926.30" r="4.1" fill="#6a176e"/>
<circle cx="871.84" cy="932.08" r="4.1" fill="#7c1d6d"/>
<circle cx="871.84" cy="938.10" r="4.1" fill="#61136e"/>
<circle cx="871.84" cy="969.20" r="4.1" fill="#741a6e"/>
<circle cx="871.84" cy="981.50" r="4.1" fill="#781c6d"/>
<circle cx="871.84" cy="993.70" r="4.1" fill="#8d2369"/>
<circle cx="871.84" cy="1003.70" r="4.1" fill="#741a6e"/>
<circle cx="871.84" cy="1010.26" r="4.1" fill="#82206c"/>
<circle cx="871.84" cy="1015.16" r="4.1" fill="#6f196e"/>
<circle cx="871.84" cy="1021.80" r="4.1" fill="#721a6e"/>
<circle cx="879.73" cy="902.00" r="4.1" fill="#952667"/>
<circle cx="879.73" cy="908.16" r="4.1" fill="#c13a50"/>
<circle cx="879.73" cy="915.40" r="4.1" fill="#751b6e"/>
<circle cx="879.73" cy="921.80" r="4.1" fill="#771c6d"/>
<circle cx="879.73" cy="925.80" r="4.1" fill="#8f2469"/>
<circle cx="879.73" cy="933.22" r="4.1" fill="#6f196e"/>
<circle cx="879.73" cy="939.20" r="4.1" fill="#7d1e6d"/>
<circle cx="879.73" cy="953.10" r="4.1" fill="#7f1e6c"/>
<circle cx="879.73" cy="971.50" r="4.1" fill="#87216b"/>
<circle cx="879.73" cy="979.20" r="4.1" fill="#7f1e6c"/>
<circle cx="879.73" cy="983.80" r="4.1" fill="#781c6d"/>
<circle cx="879.73" cy="989.80" r="4.1" fill="#8d2369"/>
<circle cx="879.73" cy="1003.70" r="4.1" fill="#88226a"/>
<circle cx="879.73" cy="1008.10" r="4.1" fill="#8a226a"/>
<circle cx="887.62" cy="893.10" r="4.1" fill="#d74b3f"/>
<circle cx="887.62" cy="899.27" r="4.1" fill="#c03a51"/>
<circle cx="887.62" cy="905.03" r="4.1" fill="#6c186e"/>
<circle cx="887.62" cy="912.01" r="4.1" fill="#a92e5e"/>
<circle cx="887.62" cy="917.30" r="4.1" fill="#65156e"/>
<circle cx="887.62" cy="920.40" r="4.1" fill="#82206c"/>
<circle cx="887.62" cy="925.22" r="4.1" fill="#ad305d"/>
<circle cx="887.62" cy="931.50" r="4.1" fill="#8c2369"/>
<circle cx="887.62" cy="937.00" r="4.1" fill="#721a6e"/>
<circle cx="887.62" cy="959.20" r="4.1" fill="#82206c"/>
<circle cx="887.62" cy="971.50" r="4.1" fill="#771c6d"/>
<circle cx="887.62" cy="975.80" r="4.1" fill="#7d1e6d"/>
<circle cx="887.62" cy="987.00" r="4.1" fill="#781c6d"/>
<circle cx="887.62" cy="992.30" r="4.1" fill="#7c1d6d"/>
<circle cx="887.62" cy="991.00" r="4.1" fill="#6d186e"/>
<circle cx="895.51" cy="878.70" r="4.1" fill="#bc3754"/>
<circle cx="895.51" cy="904.80" r="4.1" fill="#b0315b"/>
<circle cx="895.51" cy="883.70" r="4.1" fill="#6d186e"/>
<circle cx="895.51" cy="890.97" r="4.1" fill="#a92e5e"/>
<circle cx="895.51" cy="896.76" r="4.1" fill="#6d186e"/>
<circle cx="895.51" cy="903.80" r="4.1" fill="#87216b"/>
<circle cx="895.51" cy="907.80" r="4.1" fill="#6d186e"/>
<circle cx="895.51" cy="911.50" r="4.1" fill="#67166e"/>
<circle cx="895.51" cy="915.80" r="4.1" fill="#87216b"/>
<circle cx="895.51" cy="921.38" r="4.1" fill="#85216b"/>
<circle cx="895.51" cy="927.49" r="4.1" fill="#781c6d"/>
<circle cx="895.51" cy="933.94" r="4.1" fill="#741a6e"/>
<circle cx="895.51" cy="940.40" r="4.1" fill="#ab2f5e"/>
<circle cx="895.51" cy="947.00" r="4.1" fill="#85216b"/>
<circle cx="895.51" cy="953.70" r="4.1" fill="#7f1e6c"/>
<circle cx="895.51" cy="962.60" r="4.1" fill="#751b6e"/>
<circle cx="895.51" cy="966.80" r="4.1" fill="#7a1d6d"/>
<circle cx="895.51" cy="973.11" r="4.1" fill="#62146e"/>
<circle cx="895.51" cy="977.89" r="4.1" fill="#771c6d"/>
<circle cx="895.51" cy="984.20" r="4.1" fill="#741a6e"/>
<circle cx="903.40" cy="900.40" r="4.1" fill="#a02a63"/>
<circle cx="903.40" cy="876.50" r="4.1" fill="#88226a"/>
<circle cx="903.40" cy="882.89" r="4.1" fill="#771c6d"/>
<circle cx="903.40" cy="889.24" r="4.1" fill="#65156e"/>
<circle cx="903.40" cy="895.08" r="4.1" fill="#85216b"/>
<circle cx="903.40" cy="901.62" r="4.1" fill="#88226a"/>
<circle cx="903.40" cy="907.80" r="4.1" fill="#a02a63"/>
<circle cx="903.40" cy="912.30" r="4.1" fill="#69166e"/>
<circle cx="903.40" cy="915.30" r="4.1" fill="#932667"/>
<circle cx="903.40" cy="920.40" r="4.1" fill="#84206b"/>
<circle cx="903.40" cy="935.90" r="4.1" fill="#a92e5e"/>
<circle cx="903.40" cy="945.40" r="4.1" fill="#82206c"/>
<circle cx="903.40" cy="954.80" r="4.1" fill="#7a1d6d"/>
<circle cx="903.40" cy="963.70" r="4.1" fill="#67166e"/>
<circle cx="911.28" cy="866.50" r="4.1" fill="#88226a"/>
<circle cx="911.28" cy="872.05" r="4.1" fill="#982766"/>
<circle cx="911.28" cy="878.30" r="4.1" fill="#751b6e"/>
<circle cx="911.28" cy="884.78" r="4.1" fill="#9d2964"/>
<circle cx="911.28" cy="891.50" r="4.1" fill="#771c6d"/>
<circle cx="911.28" cy="900.40" r="4.1" fill="#982766"/>
<circle cx="911.28" cy="909.80" r="4.1" fill="#771c6d"/>
<circle cx="911.28" cy="923.70" r="4.1" fill="#922568"/>
<circle cx="911.28" cy="932.60" r="4.1" fill="#8a226a"/>
<circle cx="911.28" cy="946.50" r="4.1" fill="#801f6c"/>
<circle cx="911.28" cy="951.50" r="4.1" fill="#87216b"/>
<circle cx="919.17" cy="855.40" r="4.1" fill="#82206c"/>
<circle cx="919.17" cy="861.52" r="4.1" fill="#64156e"/>
<circle cx="919.17" cy="866.95" r="4.1" fill="#6d186e"/>
<circle cx="919.17" cy="872.60" r="4.1" fill="#771c6d"/>
<circle cx="919.17" cy="878.87" r="4.1" fill="#62146e"/>
<circle cx="919.17" cy="884.49" r="4.1" fill="#5f136e"/>
<circle cx="919.17" cy="890.40" r="4.1" fill="#7d1e6d"/>
<circle cx="919.17" cy="901.50" r="4.1" fill="#82206c"/>
<circle cx="919.17" cy="909.20" r="4.1" fill="#a02a63"/>
<circle cx="919.17" cy="913.30" r="4.1" fill="#82206c"/>
<circle cx="919.17" cy="922.60" r="4.1" fill="#87216b"/>
<circle cx="919.17" cy="927.00" r="4.1" fill="#82206c"/>
<circle cx="919.17" cy="931.50" r="4.1" fill="#87216b"/>
<circle cx="919.17" cy="935.80" r="4.1" fill="#972766"/>
<circle cx="919.17" cy="940.40" r="4.1" fill="#9a2865"/>
<circle cx="927.06" cy="846.50" r="4.1" fill="#7d1e6d"/>
<circle cx="927.06" cy="854.80" r="4.1" fill="#7d1e6d"/>
<circle cx="927.06" cy="860.40" r="4.1" fill="#7d1e6d"/>
<circle cx="927.06" cy="865.90" r="4.1" fill="#7f1e6c"/>
<circle cx="927.06" cy="870.40" r="4.1" fill="#82206c"/>
<circle cx="927.06" cy="875.35" r="4.1" fill="#7d1e6d"/>
<circle cx="927.06" cy="881.42" r="4.1" fill="#82206c"/>
<circle cx="927.06" cy="886.54" r="4.1" fill="#62146e"/>
<circle cx="927.06" cy="891.50" r="4.1" fill="#7a1d6d"/>
<circle cx="927.06" cy="893.70" r="4.1" fill="#6f196e"/>
<circle cx="927.06" cy="899.39" r="4.1" fill="#771c6d"/>
<circle cx="927.06" cy="905.90" r="4.1" fill="#8f2469"/>
<circle cx="927.06" cy="907.80" r="4.1" fill="#8c2369"/>
<circle cx="927.06" cy="917.00" r="4.1" fill="#8c2369"/>
<circle cx="927.06" cy="922.60" r="4.1" fill="#741a6e"/>
<circle cx="927.06" cy="926.10" r="4.1" fill="#a22b62"/>
<circle cx="927.06" cy="930.40" r="4.1" fill="#e55c30"/>
<circle cx="934.95" cy="835.40" r="4.1" fill="#771c6d"/>
<circle cx="934.95" cy="843.02" r="4.1" fill="#62146e"/>
<circle cx="934.95" cy="850.40" r="4.1" fill="#64156e"/>
<circle cx="934.95" cy="854.80" r="4.1" fill="#6c186e"/>
<circle cx="934.95" cy="865.90" r="4.1" fill="#71196e"/>
<circle cx="934.95" cy="877.60" r="4.1" fill="#6f196e"/>
<circle cx="934.95" cy="890.40" r="4.1" fill="#7f1e6c"/>
<circle cx="934.95" cy="895.72" r="4.1" fill="#8d2369"/>
<circle cx="934.95" cy="901.55" r="4.1" fill="#a22b62"/>
<circle cx="934.95" cy="906.59" r="4.1" fill="#922568"/>
<circle cx="934.95" cy="911.50" r="4.1" fill="#ba3655"/>
<circle cx="934.95" cy="914.60" r="4.1" fill="#9f2a63"/>
<circle cx="934.95" cy="919.20" r="4.1" fill="#88226a"/>
<circle cx="934.95" cy="923.80" r="4.1" fill="#ab2f5e"/>
<circle cx="942.84" cy="822.60" r="4.1" fill="#67166e"/>
<circle cx="942.84" cy="827.82" r="4.1" fill="#65156e"/>
<circle cx="942.84" cy="834.49" r="4.1" fill="#6c186e"/>
<circle cx="942.84" cy="838.67" r="4.1" fill="#7f1e6c"/>
<circle cx="942.84" cy="844.71" r="4.1" fill="#7d1e6d"/>
<circle cx="942.84" cy="850.40" r="4.1" fill="#71196e"/>
<circle cx="942.84" cy="853.70" r="4.1" fill="#7a1d6d"/>
<circle cx="942.84" cy="858.10" r="4.1" fill="#7c1d6d"/>
<circle cx="942.84" cy="865.21" r="4.1" fill="#801f6c"/>
<circle cx="942.84" cy="871.50" r="4.1" fill="#88226a"/>
<circle cx="942.84" cy="890.40" r="4.1" fill="#a52c60"/>
<circle cx="942.84" cy="895.40" r="4.1" fill="#8f2469"/>
<circle cx="942.84" cy="910.90" r="4.1" fill="#721a6e"/>
<circle cx="950.72" cy="815.40" r="4.1" fill="#5f136e"/>
<circle cx="950.72" cy="844.80" r="4.1" fill="#5d126e"/>
<circle cx="950.72" cy="827.00" r="4.1" fill="#84206b"/>
<circle cx="950.72" cy="833.69" r="4.1" fill="#7c1d6d"/>
<circle cx="950.72" cy="841.50" r="4.1" fill="#6a176e"/>
<circle cx="950.72" cy="847.80" r="4.1" fill="#7c1d6d"/>
<circle cx="950.72" cy="852.80" r="4.1" fill="#61136e"/>
<circle cx="950.72" cy="857.60" r="4.1" fill="#5f136e"/>
<circle cx="950.72" cy="861.50" r="4.1" fill="#9a2865"/>
<circle cx="950.72" cy="866.65" r="4.1" fill="#902568"/>
<circle cx="950.72" cy="871.10" r="4.1" fill="#a02a63"/>
<circle cx="950.72" cy="877.00" r="4.1" fill="#982766"/>
<circle cx="950.72" cy="879.20" r="4.1" fill="#82206c"/>
<circle cx="950.72" cy="888.10" r="4.1" fill="#8f2469"/>
<circle cx="950.72" cy="893.70" r="4.1" fill="#8d2369"/>
<circle cx="958.61" cy="796.50" r="4.1" fill="#7c1d6d"/>
<circle cx="958.61" cy="802.02" r="4.1" fill="#5d126e"/>
<circle cx="958.61" cy="807.00" r="4.1" fill="#a32c61"/>
<circle cx="958.61" cy="814.80" r="4.1" fill="#7f1e6c"/>
<circle cx="958.61" cy="821.16" r="4.1" fill="#6f196e"/>
<circle cx="958.61" cy="826.78" r="4.1" fill="#67166e"/>
<circle cx="958.61" cy="833.20" r="4.1" fill="#801f6c"/>
<circle cx="958.61" cy="838.24" r="4.1" fill="#84206b"/>
<circle cx="958.61" cy="844.78" r="4.1" fill="#6d186e"/>
<circle cx="958.61" cy="850.40" r="4.1" fill="#82206c"/>
<circle cx="958.61" cy="861.50" r="4.1" fill="#a22b62"/>
<circle cx="958.61" cy="866.80" r="4.1" fill="#982766"/>
<circle cx="958.61" cy="873.10" r="4.1" fill="#9d2964"/>
<circle cx="958.61" cy="882.60" r="4.1" fill="#b0315b"/>
<circle cx="958.61" cy="887.80" r="4.1" fill="#6f196e"/>
<circle cx="966.50" cy="784.80" r="4.1" fill="#71196e"/>
<circle cx="966.50" cy="792.60" r="4.1" fill="#5f136e"/>
<circle cx="966.50" cy="800.80" r="4.1" fill="#61136e"/>
<circle cx="966.50" cy="816.30" r="4.1" fill="#7f1e6c"/>
<circle cx="966.50" cy="821.95" r="4.1" fill="#69166e"/>
<circle cx="966.50" cy="827.30" r="4.1" fill="#6a176e"/>
<circle cx="966.50" cy="836.50" r="4.1" fill="#6d186e"/>
<circle cx="966.50" cy="846.80" r="4.1" fill="#71196e"/>
<circle cx="966.50" cy="852.80" r="4.1" fill="#741a6e"/>
<circle cx="966.50" cy="856.80" r="4.1" fill="#a82e5f"/>
<circle cx="966.50" cy="867.30" r="4.1" fill="#8f2469"/>
<circle cx="966.50" cy="871.30" r="4.1" fill="#b63458"/>
<circle cx="966.50" cy="876.53" r="4.1" fill="#71196e"/>
<circle cx="966.50" cy="881.50" r="4.1" fill="#b0315b"/>
<circle cx="974.39" cy="772.60" r="4.1" fill="#67166e"/>
<circle cx="974.39" cy="780.80" r="4.1" fill="#67166e"/>
<circle cx="974.39" cy="786.08" r="4.1" fill="#801f6c"/>
<circle cx="974.39" cy="791.50" r="4.1" fill="#6a176e"/>
<circle cx="974.39" cy="801.50" r="4.1" fill="#82206c"/>
<circle cx="974.39" cy="805.60" r="4.1" fill="#741a6e"/>
<circle cx="974.39" cy="817.30" r="4.1" fill="#781c6d"/>
<circle cx="974.39" cy="831.80" r="4.1" fill="#9f2a63"/>
<circle cx="974.39" cy="813.80" r="4.1" fill="#67166e"/>
<circle cx="974.39" cy="820.47" r="4.1" fill="#721a6e"/>
<circle cx="974.39" cy="826.76" r="4.1" fill="#751b6e"/>
<circle cx="974.39" cy="832.13" r="4.1" fill="#922568"/>
<circle cx="974.39" cy="838.56" r="4.1" fill="#a32c61"/>
<circle cx="974.39" cy="843.72" r="4.1" fill="#8c2369"/>
<circle cx="974.39" cy="850.87" r="4.1" fill="#781c6d"/>
<circle cx="974.39" cy="856.91" r="4.1" fill="#ab2f5e"/>
<circle cx="974.39" cy="862.80" r="4.1" fill="#7d1e6d"/>
<circle cx="974.39" cy="866.70" r="4.1" fill="#972766"/>
<circle cx="982.28" cy="767.60" r="4.1" fill="#85216b"/>
<circle cx="982.28" cy="787.00" r="4.1" fill="#82206c"/>
<circle cx="982.28" cy="793.36" r="4.1" fill="#7f1e6c"/>
<circle cx="982.28" cy="798.65" r="4.1" fill="#5f136e"/>
<circle cx="982.28" cy="803.70" r="4.1" fill="#b73557"/>
<circle cx="982.28" cy="822.30" r="4.1" fill="#6d186e"/>
<circle cx="982.28" cy="827.83" r="4.1" fill="#88226a"/>
<circle cx="982.28" cy="833.87" r="4.1" fill="#7f1e6c"/>
<circle cx="982.28" cy="840.19" r="4.1" fill="#87216b"/>
<circle cx="982.28" cy="845.80" r="4.1" fill="#87216b"/>
<circle cx="982.28" cy="849.20" r="4.1" fill="#71196e"/>
<circle cx="982.28" cy="854.80" r="4.1" fill="#7a1d6d"/>
<circle cx="982.28" cy="862.00" r="4.1" fill="#b1325a"/>
<circle cx="982.28" cy="873.10" r="4.1" fill="#ee6a24"/>
<circle cx="990.16" cy="752.60" r="4.1" fill="#6d186e"/>
<circle cx="990.16" cy="774.80" r="4.1" fill="#65156e"/>
<circle cx="990.16" cy="759.80" r="4.1" fill="#741a6e"/>
<circle cx="990.16" cy="765.04" r="4.1" fill="#6a176e"/>
<circle cx="990.16" cy="771.80" r="4.1" fill="#781c6d"/>
<circle cx="990.16" cy="790.40" r="4.1" fill="#771c6d"/>
<circle cx="990.16" cy="798.10" r="4.1" fill="#721a6e"/>
<circle cx="990.16" cy="804.20" r="4.1" fill="#6f196e"/>
<circle cx="990.16" cy="810.80" r="4.1" fill="#801f6c"/>
<circle cx="990.16" cy="818.10" r="4.1" fill="#87216b"/>
<circle cx="990.16" cy="831.50" r="4.1" fill="#88226a"/>
<circle cx="990.16" cy="837.59" r="4.1" fill="#7f1e6c"/>
<circle cx="990.16" cy="843.80" r="4.1" fill="#7f1e6c"/>
<circle cx="990.16" cy="846.80" r="4.1" fill="#9d2964"/>
<circle cx="990.16" cy="850.80" r="4.1" fill="#ae305c"/>
<circle cx="990.16" cy="854.80" r="4.1" fill="#b43359"/>
<circle cx="990.16" cy="860.40" r="4.1" fill="#902568"/>
<circle cx="998.05" cy="756.30" r="4.1" fill="#67166e"/>
<circle cx="998.05" cy="775.40" r="4.1" fill="#7f1e6c"/>
<circle cx="998.05" cy="780.80" r="4.1" fill="#781c6d"/>
<circle cx="998.05" cy="795.10" r="4.1" fill="#5f136e"/>
<circle cx="998.05" cy="801.14" r="4.1" fill="#721a6e"/>
<circle cx="998.05" cy="807.62" r="4.1" fill="#85216b"/>
<circle cx="998.05" cy="814.80" r="4.1" fill="#8d2369"/>
<circle cx="998.05" cy="818.40" r="4.1" fill="#7d1e6d"/>
<circle cx="998.05" cy="822.80" r="4.1" fill="#a52c60"/>
<circle cx="998.05" cy="827.98" r="4.1" fill="#7a1d6d"/>
<circle cx="998.05" cy="835.00" r="4.1" fill="#7f1e6c"/>
<circle cx="998.05" cy="839.86" r="4.1" fill="#a32c61"/>
<circle cx="998.05" cy="845.93" r="4.1" fill="#a52c60"/>
<circle cx="998.05" cy="852.04" r="4.1" fill="#952667"/>
<circle cx="998.05" cy="858.10" r="4.1" fill="#cc4248"/>
<circle cx="1005.94" cy="741.30" r="4.1" fill="#b63458"/>
<circle cx="1005.94" cy="747.60" r="4.1" fill="#84206b"/>
<circle cx="1005.94" cy="752.10" r="4.1" fill="#741a6e"/>
<circle cx="1005.94" cy="762.60" r="4.1" fill="#7f1e6c"/>
<circle cx="1005.94" cy="766.50" r="4.1" fill="#71196e"/>
<circle cx="1005.94" cy="771.50" r="4.1" fill="#64156e"/>
<circle cx="1005.94" cy="774.40" r="4.1" fill="#5f136e"/>
<circle cx="1005.94" cy="792.60" r="4.1" fill="#65156e"/>
<circle cx="1005.94" cy="798.74" r="4.1" fill="#82206c"/>
<circle cx="1005.94" cy="803.70" r="4.1" fill="#751b6e"/>
<circle cx="1005.94" cy="811.30" r="4.1" fill="#781c6d"/>
<circle cx="1005.94" cy="815.80" r="4.1" fill="#9f2a63"/>
<circle cx="1005.94" cy="840.40" r="4.1" fill="#a22b62"/>
<circle cx="1005.94" cy="828.10" r="4.1" fill="#7f1e6c"/>
<circle cx="1005.94" cy="832.78" r="4.1" fill="#7c1d6d"/>
<circle cx="1005.94" cy="838.80" r="4.1" fill="#7a1d6d"/>
<circle cx="1005.94" cy="843.80" r="4.1" fill="#7f1e6c"/>
<circle cx="1005.94" cy="850.32" r="4.1" fill="#932667"/>
<circle cx="1005.94" cy="857.00" r="4.1" fill="#f37819"/>
<circle cx="1013.83" cy="736.60" r="4.1" fill="#6d186e"/>
<circle cx="1013.83" cy="746.50" r="4.1" fill="#ae305c"/>
<circle cx="1013.83" cy="750.60" r="4.1" fill="#6a176e"/>
<circle cx="1013.83" cy="776.80" r="4.1" fill="#6f196e"/>
<circle cx="1013.83" cy="784.80" r="4.1" fill="#721a6e"/>
<circle cx="1013.83" cy="789.58" r="4.1" fill="#b43359"/>
<circle cx="1013.83" cy="794.20" r="4.1" fill="#b1325a"/>
<circle cx="1013.83" cy="809.40" r="4.1" fill="#85216b"/>
<circle cx="1013.83" cy="819.80" r="4.1" fill="#8a226a"/>
<circle cx="1013.83" cy="826.88" r="4.1" fill="#a52c60"/>
<circle cx="1013.83" cy="833.24" r="4.1" fill="#82206c"/>
<circle cx="1013.83" cy="839.20" r="4.1" fill="#902568"/>
<circle cx="1013.83" cy="843.70" r="4.1" fill="#751b6e"/>
<circle cx="1013.83" cy="847.80" r="4.1" fill="#741a6e"/>
<circle cx="1013.83" cy="853.70" r="4.1" fill="#ee6a24"/>
<circle cx="1021.72" cy="740.50" r="4.1" fill="#65156e"/>
<circle cx="1021.72" cy="765.80" r="4.1" fill="#61136e"/>
<circle cx="1021.72" cy="769.80" r="4.1" fill="#64156e"/>
<circle cx="1021.72" cy="774.40" r="4.1" fill="#5f136e"/>
<circle cx="1021.72" cy="807.30" r="4.1" fill="#781c6d"/>
<circle cx="1021.72" cy="841.80" r="4.1" fill="#9f2a63"/>
<circle cx="1021.72" cy="819.20" r="4.1" fill="#a82e5f"/>
<circle cx="1021.72" cy="826.32" r="4.1" fill="#7f1e6c"/>
<circle cx="1021.72" cy="831.91" r="4.1" fill="#71196e"/>
<circle cx="1021.72" cy="838.80" r="4.1" fill="#8d2369"/>
<circle cx="1021.72" cy="845.80" r="4.1" fill="#e75e2e"/>
<circle cx="1029.60" cy="726.30" r="4.1" fill="#65156e"/>
<circle cx="1029.60" cy="737.80" r="4.1" fill="#741a6e"/>
<circle cx="1029.60" cy="743.80" r="4.1" fill="#6f196e"/>
<circle cx="1029.60" cy="750.50" r="4.1" fill="#6c186e"/>
<circle cx="1029.60" cy="801.60" r="4.1" fill="#8c2369"/>
<circle cx="1029.60" cy="805.70" r="4.1" fill="#87216b"/>
<circle cx="1029.60" cy="816.10" r="4.1" fill="#972766"/>
<circle cx="1029.60" cy="820.30" r="4.1" fill="#8d2369"/>
<circle cx="1029.60" cy="833.20" r="4.1" fill="#982766"/>
<circle cx="1029.60" cy="838.06" r="4.1" fill="#9f2a63"/>
<circle cx="1029.60" cy="843.20" r="4.1" fill="#fa9207"/>
<circle cx="1037.49" cy="718.10" r="4.1" fill="#741a6e"/>
<circle cx="1037.49" cy="723.10" r="4.1" fill="#721a6e"/>
<circle cx="1037.49" cy="756.50" r="4.1" fill="#62146e"/>
<circle cx="1037.49" cy="754.10" r="4.1" fill="#7c1d6d"/>
<circle cx="1037.49" cy="786.80" r="4.1" fill="#5c126e"/>
<circle cx="1037.49" cy="790.80" r="4.1" fill="#88226a"/>
<circle cx="1037.49" cy="800.30" r="4.1" fill="#a82e5f"/>
<circle cx="1037.49" cy="821.80" r="4.1" fill="#a52c60"/>
<circle cx="1037.49" cy="827.00" r="4.1" fill="#7d1e6d"/>
<circle cx="1037.49" cy="831.50" r="4.1" fill="#e25734"/>
<circle cx="1037.49" cy="837.80" r="4.1" fill="#a62d60"/>
<circle cx="1037.49" cy="841.50" r="4.1" fill="#cb4149"/>
<circle cx="1037.49" cy="847.00" r="4.1" fill="#b3325a"/>
<circle cx="1045.38" cy="708.10" r="4.1" fill="#6c186e"/>
<circle cx="1045.38" cy="801.80" r="4.1" fill="#8a226a"/>
<circle cx="1045.38" cy="815.50" r="4.1" fill="#982766"/>
<circle cx="1045.38" cy="819.30" r="4.1" fill="#801f6c"/>
<circle cx="1045.38" cy="824.80" r="4.1" fill="#ba3655"/>
<circle cx="1045.38" cy="833.20" r="4.1" fill="#a92e5e"/>
<circle cx="1045.38" cy="837.30" r="4.1" fill="#b73557"/>
<circle cx="1045.38" cy="840.80" r="4.1" fill="#71196e"/>
<circle cx="1053.27" cy="706.00" r="4.1" fill="#65156e"/>
<circle cx="1053.27" cy="703.10" r="4.1" fill="#741a6e"/>
<circle cx="1053.27" cy="814.80" r="4.1" fill="#88226a"/>
<circle cx="1053.27" cy="816.80" r="4.1" fill="#84206b"/>
<circle cx="1053.27" cy="819.00" r="4.1" fill="#721a6e"/>
<circle cx="1053.27" cy="831.80" r="4.1" fill="#922568"/>
<circle cx="1053.27" cy="836.32" r="4.1" fill="#b73557"/>
<circle cx="1053.27" cy="841.30" r="4.1" fill="#902568"/>
<circle cx="1061.16" cy="743.90" r="4.1" fill="#b73557"/>
<circle cx="1061.16" cy="766.50" r="4.1" fill="#a22b62"/>
<circle cx="1061.16" cy="782.00" r="4.1" fill="#9b2964"/>
<circle cx="1061.16" cy="786.50" r="4.1" fill="#ab2f5e"/>
<circle cx="1061.16" cy="810.50" r="4.1" fill="#82206c"/>
<circle cx="1061.16" cy="824.50" r="4.1" fill="#a62d60"/>
<circle cx="1061.16" cy="832.80" r="4.1" fill="#ba3655"/>
<circle cx="1061.16" cy="837.00" r="4.1" fill="#a62d60"/>
<circle cx="1069.04" cy="704.80" r="4.1" fill="#62146e"/>
<circle cx="1069.04" cy="763.10" r="4.1" fill="#ae305c"/>
<circle cx="1069.04" cy="772.70" r="4.1" fill="#a22b62"/>
<circle cx="1069.04" cy="828.10" r="4.1" fill="#c03a51"/>
<circle cx="1069.04" cy="835.40" r="4.1" fill="#b63458"/>
<circle cx="1076.93" cy="735.70" r="4.1" fill="#69166e"/>
<circle cx="1076.93" cy="760.80" r="4.1" fill="#952667"/>
<circle cx="1076.93" cy="771.50" r="4.1" fill="#a82e5f"/>
<circle cx="1076.93" cy="812.00" r="4.1" fill="#82206c"/>
<circle cx="1076.93" cy="825.90" r="4.1" fill="#ab2f5e"/>
<circle cx="1076.93" cy="832.60" r="4.1" fill="#bd3853"/>
<circle cx="1084.82" cy="703.70" r="4.1" fill="#a02a63"/>
<circle cx="1084.82" cy="706.50" r="4.1" fill="#781c6d"/>
<circle cx="1084.82" cy="769.30" r="4.1" fill="#ab2f5e"/>
<circle cx="1084.82" cy="802.00" r="4.1" fill="#7a1d6d"/>
<circle cx="1084.82" cy="808.40" r="4.1" fill="#8c2369"/>
<circle cx="1084.82" cy="826.50" r="4.1" fill="#a62d60"/>
<circle cx="1092.71" cy="673.10" r="4.1" fill="#ab2f5e"/>
<circle cx="1092.71" cy="745.40" r="4.1" fill="#62146e"/>
<circle cx="1092.71" cy="795.90" r="4.1" fill="#7c1d6d"/>
<circle cx="1092.71" cy="802.00" r="4.1" fill="#972766"/>
<circle cx="1092.71" cy="822.00" r="4.1" fill="#ba3655"/>
<circle cx="1092.71" cy="828.10" r="4.1" fill="#a22b62"/>
<circle cx="1100.60" cy="822.20" r="4.1" fill="#bf3952"/>
<circle cx="1108.48" cy="829.50" r="4.1" fill="#b3325a"/>
<circle cx="1116.37" cy="826.50" r="4.1" fill="#b43359"/>
<circle cx="1124.26" cy="799.80" r="4.1" fill="#5d126e"/>
<circle cx="1124.26" cy="822.80" r="4.1" fill="#bc3754"/>
<circle cx="1132.15" cy="823.40" r="4.1" fill="#cc4248"/>
<circle cx="1147.92" cy="822.80" r="4.1" fill="#bc3754"/>
<rect x="726.20" y="650.10" width="441.30" height="519.70" fill="none" stroke="#262626" stroke-width="1.3"/>
<line x1="769.30" x2="769.30" y1="1169.80" y2="1174.80" stroke="#2b2b2b" stroke-width="1.3"/>
<text x="769.30" y="1190.50" font-size="15.5" fill="#4d4d4d" text-anchor="middle">50</text>
<line x1="848.18" x2="848.18" y1="1169.80" y2="1174.80" stroke="#2b2b2b" stroke-width="1.3"/>
<text x="848.18" y="1190.50" font-size="15.5" fill="#4d4d4d" text-anchor="middle">60</text>
<line x1="927.06" x2="927.06" y1="1169.80" y2="1174.80" stroke="#2b2b2b" stroke-width="1.3"/>
<text x="927.06" y="1190.50" font-size="15.5" fill="#4d4d4d" text-anchor="middle">70</text>
<line x1="1005.94" x2="1005.94" y1="1169.80" y2="1174.80" stroke="#2b2b2b" stroke-width="1.3"/>
<text x="1005.94" y="1190.50" font-size="15.5" fill="#4d4d4d" text-anchor="middle">80</text>
<line x1="1084.82" x2="1084.82" y1="1169.80" y2="1174.80" stroke="#2b2b2b" stroke-width="1.3"/>
<text x="1084.82" y="1190.50" font-size="15.5" fill="#4d4d4d" text-anchor="middle">90</text>
<line x1="1163.70" x2="1163.70" y1="1169.80" y2="1174.80" stroke="#2b2b2b" stroke-width="1.3"/>
<text x="1163.70" y="1190.50" font-size="15.5" fill="#4d4d4d" text-anchor="middle">100</text>
<line x1="721.20" x2="726.20" y1="740.10" y2="740.10" stroke="#2b2b2b" stroke-width="1.3"/>
<text x="717.70" y="745.50" font-size="15.5" fill="#4d4d4d" text-anchor="end">0.4</text>
<line x1="721.20" x2="726.20" y1="893.60" y2="893.60" stroke="#2b2b2b" stroke-width="1.3"/>
<text x="717.70" y="899.00" font-size="15.5" fill="#4d4d4d" text-anchor="end">0.0</text>
<line x1="721.20" x2="726.20" y1="1047.10" y2="1047.10" stroke="#2b2b2b" stroke-width="1.3"/>
<text x="717.70" y="1052.50" font-size="15.5" fill="#4d4d4d" text-anchor="end">−0.4</text>
<text x="946.85" y="1210.60" font-size="18.8" fill="#000" text-anchor="middle">Age</text>
<text transform="translate(678.80,909.95) rotate(-90)" font-size="18.8" fill="#000" text-anchor="middle">SHAP value</text>
<text x="946.85" y="635.50" font-size="22.1" font-weight="bold" fill="#000" text-anchor="middle">Logistic</text>
<text x="638.3" y="634.50" font-size="22.4" fill="#000">E</text>
<text x="1195.60" y="837.70" font-size="18.8" fill="#000">NEUT</text>
<rect x="1195.60" y="849.70" width="30" height="147.20" fill="url(#inf)"/>
<line x1="1195.60" x2="1201.60" y1="863.90" y2="863.90" stroke="#fff" stroke-width="0.9" opacity="0.85"/>
<line x1="1219.60" x2="1225.60" y1="863.90" y2="863.90" stroke="#fff" stroke-width="0.9" opacity="0.85"/>
<text x="1234.80" y="869.20" font-size="15.1" fill="#000">20</text>
<line x1="1195.60" x2="1201.60" y1="898.30" y2="898.30" stroke="#fff" stroke-width="0.9" opacity="0.85"/>
<line x1="1219.60" x2="1225.60" y1="898.30" y2="898.30" stroke="#fff" stroke-width="0.9" opacity="0.85"/>
<text x="1234.80" y="903.60" font-size="15.1" fill="#000">15</text>
<line x1="1195.60" x2="1201.60" y1="932.40" y2="932.40" stroke="#fff" stroke-width="0.9" opacity="0.85"/>
<line x1="1219.60" x2="1225.60" y1="932.40" y2="932.40" stroke="#fff" stroke-width="0.9" opacity="0.85"/>
<text x="1234.80" y="937.70" font-size="15.1" fill="#000">10</text>
<line x1="1195.60" x2="1201.60" y1="966.70" y2="966.70" stroke="#fff" stroke-width="0.9" opacity="0.85"/>
<line x1="1219.60" x2="1225.60" y1="966.70" y2="966.70" stroke="#fff" stroke-width="0.9" opacity="0.85"/>
<text x="1234.80" y="972.00" font-size="15.1" fill="#000">5</text>
</g>
<g>
<line x1="1365.62" x2="1365.62" y1="650.10" y2="1169.80" stroke="#f0f0f0" stroke-width="0.8"/>
<line x1="1442.97" x2="1442.97" y1="650.10" y2="1169.80" stroke="#f0f0f0" stroke-width="0.8"/>
<line x1="1520.33" x2="1520.33" y1="650.10" y2="1169.80" stroke="#f0f0f0" stroke-width="0.8"/>
<line x1="1597.67" x2="1597.67" y1="650.10" y2="1169.80" stroke="#f0f0f0" stroke-width="0.8"/>
<line x1="1675.03" x2="1675.03" y1="650.10" y2="1169.80" stroke="#f0f0f0" stroke-width="0.8"/>
<line x1="1752.38" x2="1752.38" y1="650.10" y2="1169.80" stroke="#f0f0f0" stroke-width="0.8"/>
<line x1="1361.80" x2="1795.10" y1="663.35" y2="663.35" stroke="#f0f0f0" stroke-width="0.8"/>
<line x1="1361.80" x2="1795.10" y1="816.85" y2="816.85" stroke="#f0f0f0" stroke-width="0.8"/>
<line x1="1361.80" x2="1795.10" y1="970.35" y2="970.35" stroke="#f0f0f0" stroke-width="0.8"/>
<line x1="1361.80" x2="1795.10" y1="1123.85" y2="1123.85" stroke="#f0f0f0" stroke-width="0.8"/>
<line x1="1404.30" x2="1404.30" y1="650.10" y2="1169.80" stroke="#e8e8e8" stroke-width="1.4"/>
<line x1="1481.65" x2="1481.65" y1="650.10" y2="1169.80" stroke="#e8e8e8" stroke-width="1.4"/>
<line x1="1559.00" x2="1559.00" y1="650.10" y2="1169.80" stroke="#e8e8e8" stroke-width="1.4"/>
<line x1="1636.35" x2="1636.35" y1="650.10" y2="1169.80" stroke="#e8e8e8" stroke-width="1.4"/>
<line x1="1713.70" x2="1713.70" y1="650.10" y2="1169.80" stroke="#e8e8e8" stroke-width="1.4"/>
<line x1="1791.05" x2="1791.05" y1="650.10" y2="1169.80" stroke="#e8e8e8" stroke-width="1.4"/>
<line x1="1361.80" x2="1795.10" y1="740.10" y2="740.10" stroke="#e8e8e8" stroke-width="1.4"/>
<line x1="1361.80" x2="1795.10" y1="893.60" y2="893.60" stroke="#e8e8e8" stroke-width="1.4"/>
<line x1="1361.80" x2="1795.10" y1="1047.10" y2="1047.10" stroke="#e8e8e8" stroke-width="1.4"/>
<circle cx="1381.10" cy="1140.10" r="4.1" fill="#5c126e"/>
<circle cx="1381.10" cy="1147.00" r="4.1" fill="#59106e"/>
<circle cx="1404.30" cy="956.80" r="4.1" fill="#59106e"/>
<circle cx="1404.30" cy="995.90" r="4.1" fill="#62146e"/>
<circle cx="1404.30" cy="1008.70" r="4.1" fill="#5f136e"/>
<circle cx="1404.30" cy="1081.20" r="4.1" fill="#5d126e"/>
<circle cx="1404.30" cy="1080.00" r="4.1" fill="#771c6d"/>
<circle cx="1404.30" cy="1073.70" r="4.1" fill="#65156e"/>
<circle cx="1404.30" cy="1136.10" r="4.1" fill="#59106e"/>
<circle cx="1412.03" cy="971.50" r="4.1" fill="#771c6d"/>
<circle cx="1412.03" cy="978.10" r="4.1" fill="#57106e"/>
<circle cx="1412.03" cy="1003.10" r="4.1" fill="#65156e"/>
<circle cx="1412.03" cy="1039.80" r="4.1" fill="#82206c"/>
<circle cx="1412.03" cy="1100.60" r="4.1" fill="#67166e"/>
<circle cx="1412.03" cy="1122.20" r="4.1" fill="#85216b"/>
<circle cx="1419.77" cy="962.00" r="4.1" fill="#65156e"/>
<circle cx="1419.77" cy="969.80" r="4.1" fill="#61136e"/>
<circle cx="1419.77" cy="977.00" r="4.1" fill="#65156e"/>
<circle cx="1419.77" cy="1002.60" r="4.1" fill="#5c126e"/>
<circle cx="1419.77" cy="1006.50" r="4.1" fill="#62146e"/>
<circle cx="1419.77" cy="1010.40" r="4.1" fill="#59106e"/>
<circle cx="1419.77" cy="1034.20" r="4.1" fill="#6a176e"/>
<circle cx="1419.77" cy="1037.80" r="4.1" fill="#64156e"/>
<circle cx="1419.77" cy="1061.50" r="4.1" fill="#5d126e"/>
<circle cx="1419.77" cy="1075.00" r="4.1" fill="#85216b"/>
<circle cx="1419.77" cy="1080.90" r="4.1" fill="#61136e"/>
<circle cx="1427.50" cy="956.10" r="4.1" fill="#59106e"/>
<circle cx="1427.50" cy="963.70" r="4.1" fill="#751b6e"/>
<circle cx="1427.50" cy="974.20" r="4.1" fill="#5d126e"/>
<circle cx="1427.50" cy="979.20" r="4.1" fill="#741a6e"/>
<circle cx="1427.50" cy="992.00" r="4.1" fill="#85216b"/>
<circle cx="1427.50" cy="997.00" r="4.1" fill="#57106e"/>
<circle cx="1427.50" cy="1005.90" r="4.1" fill="#5a116e"/>
<circle cx="1427.50" cy="1017.00" r="4.1" fill="#5c126e"/>
<circle cx="1427.50" cy="1030.90" r="4.1" fill="#57106e"/>
<circle cx="1427.50" cy="1044.20" r="4.1" fill="#5f136e"/>
<circle cx="1427.50" cy="1049.20" r="4.1" fill="#85216b"/>
<circle cx="1427.50" cy="1056.50" r="4.1" fill="#65156e"/>
<circle cx="1427.50" cy="1077.20" r="4.1" fill="#771c6d"/>
<circle cx="1427.50" cy="1093.70" r="4.1" fill="#61136e"/>
<circle cx="1427.50" cy="1107.80" r="4.1" fill="#64156e"/>
<circle cx="1435.24" cy="951.50" r="4.1" fill="#5d126e"/>
<circle cx="1435.24" cy="970.30" r="4.1" fill="#69166e"/>
<circle cx="1435.24" cy="968.30" r="4.1" fill="#7c1d6d"/>
<circle cx="1435.24" cy="977.00" r="4.1" fill="#ae305c"/>
<circle cx="1435.24" cy="992.00" r="4.1" fill="#5c126e"/>
<circle cx="1435.24" cy="1001.50" r="4.1" fill="#71196e"/>
<circle cx="1435.24" cy="1021.50" r="4.1" fill="#67166e"/>
<circle cx="1435.24" cy="1103.70" r="4.1" fill="#5d126e"/>
<circle cx="1435.24" cy="1108.70" r="4.1" fill="#57106e"/>
<circle cx="1442.97" cy="955.90" r="4.1" fill="#61136e"/>
<circle cx="1442.97" cy="962.57" r="4.1" fill="#62146e"/>
<circle cx="1442.97" cy="969.80" r="4.1" fill="#7a1d6d"/>
<circle cx="1442.97" cy="977.60" r="4.1" fill="#5f136e"/>
<circle cx="1442.97" cy="987.00" r="4.1" fill="#5d126e"/>
<circle cx="1442.97" cy="1004.00" r="4.1" fill="#5d126e"/>
<circle cx="1442.97" cy="1034.20" r="4.1" fill="#5c126e"/>
<circle cx="1442.97" cy="1047.30" r="4.1" fill="#61136e"/>
<circle cx="1442.97" cy="1049.30" r="4.1" fill="#65156e"/>
<circle cx="1442.97" cy="1052.30" r="4.1" fill="#6a176e"/>
<circle cx="1442.97" cy="1055.30" r="4.1" fill="#59106e"/>
<circle cx="1442.97" cy="1083.70" r="4.1" fill="#5a116e"/>
<circle cx="1442.97" cy="1105.00" r="4.1" fill="#61136e"/>
<circle cx="1450.71" cy="953.10" r="4.1" fill="#67166e"/>
<circle cx="1450.71" cy="959.20" r="4.1" fill="#67166e"/>
<circle cx="1450.71" cy="968.10" r="4.1" fill="#64156e"/>
<circle cx="1450.71" cy="972.60" r="4.1" fill="#801f6c"/>
<circle cx="1450.71" cy="982.00" r="4.1" fill="#64156e"/>
<circle cx="1450.71" cy="991.50" r="4.1" fill="#65156e"/>
<circle cx="1450.71" cy="997.00" r="4.1" fill="#59106e"/>
<circle cx="1450.71" cy="1008.70" r="4.1" fill="#62146e"/>
<circle cx="1450.71" cy="1049.80" r="4.1" fill="#801f6c"/>
<circle cx="1450.71" cy="1073.10" r="4.1" fill="#6a176e"/>
<circle cx="1450.71" cy="1079.20" r="4.1" fill="#5a116e"/>
<circle cx="1450.71" cy="1082.80" r="4.1" fill="#59106e"/>
<circle cx="1450.71" cy="1086.80" r="4.1" fill="#71196e"/>
<circle cx="1458.44" cy="946.50" r="4.1" fill="#7a1d6d"/>
<circle cx="1458.44" cy="952.80" r="4.1" fill="#5f136e"/>
<circle cx="1458.44" cy="958.24" r="4.1" fill="#57106e"/>
<circle cx="1458.44" cy="964.80" r="4.1" fill="#5d126e"/>
<circle cx="1458.44" cy="979.50" r="4.1" fill="#82206c"/>
<circle cx="1458.44" cy="992.60" r="4.1" fill="#57106e"/>
<circle cx="1458.44" cy="997.00" r="4.1" fill="#5f136e"/>
<circle cx="1458.44" cy="1001.50" r="4.1" fill="#59106e"/>
<circle cx="1458.44" cy="1022.00" r="4.1" fill="#84206b"/>
<circle cx="1458.44" cy="1030.90" r="4.1" fill="#5f136e"/>
<circle cx="1458.44" cy="1055.90" r="4.1" fill="#741a6e"/>
<circle cx="1458.44" cy="1065.00" r="4.1" fill="#59106e"/>
<circle cx="1458.44" cy="1074.80" r="4.1" fill="#5a116e"/>
<circle cx="1458.44" cy="1080.40" r="4.1" fill="#62146e"/>
<circle cx="1466.18" cy="944.20" r="4.1" fill="#65156e"/>
<circle cx="1466.18" cy="949.30" r="4.1" fill="#69166e"/>
<circle cx="1466.18" cy="956.29" r="4.1" fill="#5c126e"/>
<circle cx="1466.18" cy="962.80" r="4.1" fill="#5a116e"/>
<circle cx="1466.18" cy="967.30" r="4.1" fill="#57106e"/>
<circle cx="1466.18" cy="983.70" r="4.1" fill="#61136e"/>
<circle cx="1466.18" cy="995.90" r="4.1" fill="#5d126e"/>
<circle cx="1466.18" cy="1025.40" r="4.1" fill="#5c126e"/>
<circle cx="1466.18" cy="1054.20" r="4.1" fill="#61136e"/>
<circle cx="1466.18" cy="1058.10" r="4.1" fill="#57106e"/>
<circle cx="1466.18" cy="1068.50" r="4.1" fill="#5f136e"/>
<circle cx="1473.91" cy="940.40" r="4.1" fill="#64156e"/>
<circle cx="1473.91" cy="950.40" r="4.1" fill="#67166e"/>
<circle cx="1473.91" cy="954.80" r="4.1" fill="#771c6d"/>
<circle cx="1473.91" cy="968.10" r="4.1" fill="#69166e"/>
<circle cx="1473.91" cy="981.50" r="4.1" fill="#67166e"/>
<circle cx="1473.91" cy="987.00" r="4.1" fill="#65156e"/>
<circle cx="1473.91" cy="991.50" r="4.1" fill="#5a116e"/>
<circle cx="1473.91" cy="1025.90" r="4.1" fill="#65156e"/>
<circle cx="1473.91" cy="1030.40" r="4.1" fill="#5a116e"/>
<circle cx="1473.91" cy="1034.80" r="4.1" fill="#5c126e"/>
<circle cx="1473.91" cy="1036.50" r="4.1" fill="#84206b"/>
<circle cx="1473.91" cy="1045.90" r="4.1" fill="#5d126e"/>
<circle cx="1473.91" cy="1050.40" r="4.1" fill="#62146e"/>
<circle cx="1473.91" cy="1058.70" r="4.1" fill="#5a116e"/>
<circle cx="1473.91" cy="1062.60" r="4.1" fill="#ab2f5e"/>
<circle cx="1481.65" cy="925.90" r="4.1" fill="#82206c"/>
<circle cx="1481.65" cy="931.17" r="4.1" fill="#cf4446"/>
<circle cx="1481.65" cy="937.80" r="4.1" fill="#5f136e"/>
<circle cx="1481.65" cy="941.50" r="4.1" fill="#67166e"/>
<circle cx="1481.65" cy="950.40" r="4.1" fill="#801f6c"/>
<circle cx="1481.65" cy="967.80" r="4.1" fill="#5a116e"/>
<circle cx="1481.65" cy="978.70" r="4.1" fill="#a52c60"/>
<circle cx="1481.65" cy="997.60" r="4.1" fill="#69166e"/>
<circle cx="1481.65" cy="1012.00" r="4.1" fill="#751b6e"/>
<circle cx="1481.65" cy="1032.60" r="4.1" fill="#62146e"/>
<circle cx="1481.65" cy="1037.26" r="4.1" fill="#751b6e"/>
<circle cx="1481.65" cy="1041.80" r="4.1" fill="#5c126e"/>
<circle cx="1481.65" cy="1045.80" r="4.1" fill="#61136e"/>
<circle cx="1481.65" cy="1049.80" r="4.1" fill="#6a176e"/>
<circle cx="1489.38" cy="923.70" r="4.1" fill="#5d126e"/>
<circle cx="1489.38" cy="930.04" r="4.1" fill="#67166e"/>
<circle cx="1489.38" cy="936.80" r="4.1" fill="#62146e"/>
<circle cx="1489.38" cy="938.80" r="4.1" fill="#65156e"/>
<circle cx="1489.38" cy="943.29" r="4.1" fill="#7f1e6c"/>
<circle cx="1489.38" cy="949.20" r="4.1" fill="#5a116e"/>
<circle cx="1489.38" cy="959.20" r="4.1" fill="#67166e"/>
<circle cx="1489.38" cy="966.50" r="4.1" fill="#62146e"/>
<circle cx="1489.38" cy="990.40" r="4.1" fill="#781c6d"/>
<circle cx="1489.38" cy="1002.40" r="4.1" fill="#65156e"/>
<circle cx="1489.38" cy="1014.80" r="4.1" fill="#741a6e"/>
<circle cx="1489.38" cy="1019.20" r="4.1" fill="#5a116e"/>
<circle cx="1489.38" cy="1027.00" r="4.1" fill="#69166e"/>
<circle cx="1489.38" cy="1032.60" r="4.1" fill="#57106e"/>
<circle cx="1489.38" cy="1036.80" r="4.1" fill="#61136e"/>
<circle cx="1489.38" cy="1041.50" r="4.1" fill="#5f136e"/>
<circle cx="1497.12" cy="918.10" r="4.1" fill="#62146e"/>
<circle cx="1497.12" cy="923.68" r="4.1" fill="#65156e"/>
<circle cx="1497.12" cy="928.49" r="4.1" fill="#65156e"/>
<circle cx="1497.12" cy="934.80" r="4.1" fill="#65156e"/>
<circle cx="1497.12" cy="937.80" r="4.1" fill="#5f136e"/>
<circle cx="1497.12" cy="943.03" r="4.1" fill="#5a116e"/>
<circle cx="1497.12" cy="947.78" r="4.1" fill="#67166e"/>
<circle cx="1497.12" cy="953.80" r="4.1" fill="#5d126e"/>
<circle cx="1497.12" cy="956.30" r="4.1" fill="#5d126e"/>
<circle cx="1497.12" cy="964.20" r="4.1" fill="#5c126e"/>
<circle cx="1497.12" cy="987.60" r="4.1" fill="#67166e"/>
<circle cx="1497.12" cy="993.70" r="4.1" fill="#59106e"/>
<circle cx="1497.12" cy="1001.50" r="4.1" fill="#751b6e"/>
<circle cx="1497.12" cy="1008.10" r="4.1" fill="#5d126e"/>
<circle cx="1497.12" cy="1018.70" r="4.1" fill="#741a6e"/>
<circle cx="1497.12" cy="1029.80" r="4.1" fill="#67166e"/>
<circle cx="1504.86" cy="909.80" r="4.1" fill="#5f136e"/>
<circle cx="1504.86" cy="916.15" r="4.1" fill="#5f136e"/>
<circle cx="1504.86" cy="923.80" r="4.1" fill="#6a176e"/>
<circle cx="1504.86" cy="926.30" r="4.1" fill="#67166e"/>
<circle cx="1504.86" cy="932.08" r="4.1" fill="#61136e"/>
<circle cx="1504.86" cy="938.10" r="4.1" fill="#61136e"/>
<circle cx="1504.86" cy="969.20" r="4.1" fill="#7f1e6c"/>
<circle cx="1504.86" cy="981.50" r="4.1" fill="#5d126e"/>
<circle cx="1504.86" cy="993.70" r="4.1" fill="#64156e"/>
<circle cx="1504.86" cy="1003.70" r="4.1" fill="#67166e"/>
<circle cx="1504.86" cy="1010.26" r="4.1" fill="#62146e"/>
<circle cx="1504.86" cy="1015.16" r="4.1" fill="#5f136e"/>
<circle cx="1504.86" cy="1021.80" r="4.1" fill="#5d126e"/>
<circle cx="1512.59" cy="902.00" r="4.1" fill="#5f136e"/>
<circle cx="1512.59" cy="908.16" r="4.1" fill="#65156e"/>
<circle cx="1512.59" cy="915.40" r="4.1" fill="#751b6e"/>
<circle cx="1512.59" cy="921.80" r="4.1" fill="#801f6c"/>
<circle cx="1512.59" cy="925.80" r="4.1" fill="#82206c"/>
<circle cx="1512.59" cy="933.22" r="4.1" fill="#5a116e"/>
<circle cx="1512.59" cy="939.20" r="4.1" fill="#5f136e"/>
<circle cx="1512.59" cy="953.10" r="4.1" fill="#57106e"/>
<circle cx="1512.59" cy="971.50" r="4.1" fill="#5a116e"/>
<circle cx="1512.59" cy="979.20" r="4.1" fill="#57106e"/>
<circle cx="1512.59" cy="983.80" r="4.1" fill="#5c126e"/>
<circle cx="1512.59" cy="989.80" r="4.1" fill="#5a116e"/>
<circle cx="1512.59" cy="1003.70" r="4.1" fill="#65156e"/>
<circle cx="1512.59" cy="1008.10" r="4.1" fill="#57106e"/>
<circle cx="1520.33" cy="893.10" r="4.1" fill="#64156e"/>
<circle cx="1520.33" cy="899.27" r="4.1" fill="#62146e"/>
<circle cx="1520.33" cy="905.03" r="4.1" fill="#721a6e"/>
<circle cx="1520.33" cy="912.01" r="4.1" fill="#5a116e"/>
<circle cx="1520.33" cy="917.30" r="4.1" fill="#5d126e"/>
<circle cx="1520.33" cy="920.40" r="4.1" fill="#69166e"/>
<circle cx="1520.33" cy="925.22" r="4.1" fill="#67166e"/>
<circle cx="1520.33" cy="931.50" r="4.1" fill="#61136e"/>
<circle cx="1520.33" cy="937.00" r="4.1" fill="#67166e"/>
<circle cx="1520.33" cy="959.20" r="4.1" fill="#5f136e"/>
<circle cx="1520.33" cy="971.50" r="4.1" fill="#5d126e"/>
<circle cx="1520.33" cy="975.80" r="4.1" fill="#57106e"/>
<circle cx="1520.33" cy="987.00" r="4.1" fill="#61136e"/>
<circle cx="1520.33" cy="992.30" r="4.1" fill="#751b6e"/>
<circle cx="1520.33" cy="991.00" r="4.1" fill="#69166e"/>
<circle cx="1528.06" cy="878.70" r="4.1" fill="#d74b3f"/>
<circle cx="1528.06" cy="904.80" r="4.1" fill="#5a116e"/>
<circle cx="1528.06" cy="883.70" r="4.1" fill="#c33b4f"/>
<circle cx="1528.06" cy="890.97" r="4.1" fill="#61136e"/>
<circle cx="1528.06" cy="896.76" r="4.1" fill="#57106e"/>
<circle cx="1528.06" cy="903.80" r="4.1" fill="#5c126e"/>
<circle cx="1528.06" cy="907.80" r="4.1" fill="#5a116e"/>
<circle cx="1528.06" cy="911.50" r="4.1" fill="#84206b"/>
<circle cx="1528.06" cy="915.80" r="4.1" fill="#5f136e"/>
<circle cx="1528.06" cy="921.38" r="4.1" fill="#67166e"/>
<circle cx="1528.06" cy="927.49" r="4.1" fill="#771c6d"/>
<circle cx="1528.06" cy="933.94" r="4.1" fill="#59106e"/>
<circle cx="1528.06" cy="940.40" r="4.1" fill="#64156e"/>
<circle cx="1528.06" cy="947.00" r="4.1" fill="#82206c"/>
<circle cx="1528.06" cy="953.70" r="4.1" fill="#64156e"/>
<circle cx="1528.06" cy="962.60" r="4.1" fill="#61136e"/>
<circle cx="1528.06" cy="966.80" r="4.1" fill="#5a116e"/>
<circle cx="1528.06" cy="973.11" r="4.1" fill="#5c126e"/>
<circle cx="1528.06" cy="977.89" r="4.1" fill="#59106e"/>
<circle cx="1528.06" cy="984.20" r="4.1" fill="#71196e"/>
<circle cx="1535.80" cy="900.40" r="4.1" fill="#65156e"/>
<circle cx="1535.80" cy="876.50" r="4.1" fill="#5c126e"/>
<circle cx="1535.80" cy="882.89" r="4.1" fill="#57106e"/>
<circle cx="1535.80" cy="889.24" r="4.1" fill="#721a6e"/>
<circle cx="1535.80" cy="895.08" r="4.1" fill="#65156e"/>
<circle cx="1535.80" cy="901.62" r="4.1" fill="#71196e"/>
<circle cx="1535.80" cy="907.80" r="4.1" fill="#65156e"/>
<circle cx="1535.80" cy="912.30" r="4.1" fill="#61136e"/>
<circle cx="1535.80" cy="915.30" r="4.1" fill="#67166e"/>
<circle cx="1535.80" cy="920.40" r="4.1" fill="#59106e"/>
<circle cx="1535.80" cy="935.90" r="4.1" fill="#6a176e"/>
<circle cx="1535.80" cy="945.40" r="4.1" fill="#741a6e"/>
<circle cx="1535.80" cy="954.80" r="4.1" fill="#57106e"/>
<circle cx="1535.80" cy="963.70" r="4.1" fill="#5d126e"/>
<circle cx="1543.53" cy="866.50" r="4.1" fill="#61136e"/>
<circle cx="1543.53" cy="872.05" r="4.1" fill="#5d126e"/>
<circle cx="1543.53" cy="878.30" r="4.1" fill="#65156e"/>
<circle cx="1543.53" cy="884.78" r="4.1" fill="#5a116e"/>
<circle cx="1543.53" cy="891.50" r="4.1" fill="#5f136e"/>
<circle cx="1543.53" cy="900.40" r="4.1" fill="#5d126e"/>
<circle cx="1543.53" cy="909.80" r="4.1" fill="#64156e"/>
<circle cx="1543.53" cy="923.70" r="4.1" fill="#57106e"/>
<circle cx="1543.53" cy="932.60" r="4.1" fill="#67166e"/>
<circle cx="1543.53" cy="946.50" r="4.1" fill="#59106e"/>
<circle cx="1543.53" cy="951.50" r="4.1" fill="#5a116e"/>
<circle cx="1551.26" cy="855.40" r="4.1" fill="#65156e"/>
<circle cx="1551.26" cy="861.52" r="4.1" fill="#7d1e6d"/>
<circle cx="1551.26" cy="866.95" r="4.1" fill="#5f136e"/>
<circle cx="1551.26" cy="872.60" r="4.1" fill="#771c6d"/>
<circle cx="1551.26" cy="878.87" r="4.1" fill="#771c6d"/>
<circle cx="1551.26" cy="884.49" r="4.1" fill="#71196e"/>
<circle cx="1551.26" cy="890.40" r="4.1" fill="#7f1e6c"/>
<circle cx="1551.26" cy="901.50" r="4.1" fill="#59106e"/>
<circle cx="1551.26" cy="909.20" r="4.1" fill="#57106e"/>
<circle cx="1551.26" cy="913.30" r="4.1" fill="#61136e"/>
<circle cx="1551.26" cy="922.60" r="4.1" fill="#64156e"/>
<circle cx="1551.26" cy="927.00" r="4.1" fill="#5a116e"/>
<circle cx="1551.26" cy="931.50" r="4.1" fill="#7f1e6c"/>
<circle cx="1551.26" cy="935.80" r="4.1" fill="#65156e"/>
<circle cx="1551.26" cy="940.40" r="4.1" fill="#64156e"/>
<circle cx="1559.00" cy="846.50" r="4.1" fill="#64156e"/>
<circle cx="1559.00" cy="854.80" r="4.1" fill="#5a116e"/>
<circle cx="1559.00" cy="860.40" r="4.1" fill="#721a6e"/>
<circle cx="1559.00" cy="865.90" r="4.1" fill="#5a116e"/>
<circle cx="1559.00" cy="870.40" r="4.1" fill="#5d126e"/>
<circle cx="1559.00" cy="875.35" r="4.1" fill="#57106e"/>
<circle cx="1559.00" cy="881.42" r="4.1" fill="#5d126e"/>
<circle cx="1559.00" cy="886.54" r="4.1" fill="#a52c60"/>
<circle cx="1559.00" cy="891.50" r="4.1" fill="#69166e"/>
<circle cx="1559.00" cy="893.70" r="4.1" fill="#67166e"/>
<circle cx="1559.00" cy="899.39" r="4.1" fill="#65156e"/>
<circle cx="1559.00" cy="905.90" r="4.1" fill="#69166e"/>
<circle cx="1559.00" cy="907.80" r="4.1" fill="#64156e"/>
<circle cx="1559.00" cy="917.00" r="4.1" fill="#57106e"/>
<circle cx="1559.00" cy="922.60" r="4.1" fill="#57106e"/>
<circle cx="1559.00" cy="926.10" r="4.1" fill="#d74b3f"/>
<circle cx="1559.00" cy="930.40" r="4.1" fill="#62146e"/>
<circle cx="1566.73" cy="835.40" r="4.1" fill="#65156e"/>
<circle cx="1566.73" cy="843.02" r="4.1" fill="#ce4347"/>
<circle cx="1566.73" cy="850.40" r="4.1" fill="#6a176e"/>
<circle cx="1566.73" cy="854.80" r="4.1" fill="#62146e"/>
<circle cx="1566.73" cy="865.90" r="4.1" fill="#69166e"/>
<circle cx="1566.73" cy="877.60" r="4.1" fill="#5a116e"/>
<circle cx="1566.73" cy="890.40" r="4.1" fill="#62146e"/>
<circle cx="1566.73" cy="895.72" r="4.1" fill="#bc3754"/>
<circle cx="1566.73" cy="901.55" r="4.1" fill="#64156e"/>
<circle cx="1566.73" cy="906.59" r="4.1" fill="#65156e"/>
<circle cx="1566.73" cy="911.50" r="4.1" fill="#741a6e"/>
<circle cx="1566.73" cy="914.60" r="4.1" fill="#751b6e"/>
<circle cx="1566.73" cy="919.20" r="4.1" fill="#59106e"/>
<circle cx="1566.73" cy="923.80" r="4.1" fill="#57106e"/>
<circle cx="1574.47" cy="822.60" r="4.1" fill="#5d126e"/>
<circle cx="1574.47" cy="827.82" r="4.1" fill="#61136e"/>
<circle cx="1574.47" cy="834.49" r="4.1" fill="#5c126e"/>
<circle cx="1574.47" cy="838.67" r="4.1" fill="#87216b"/>
<circle cx="1574.47" cy="844.71" r="4.1" fill="#67166e"/>
<circle cx="1574.47" cy="850.40" r="4.1" fill="#cc4248"/>
<circle cx="1574.47" cy="853.70" r="4.1" fill="#5f136e"/>
<circle cx="1574.47" cy="858.10" r="4.1" fill="#64156e"/>
<circle cx="1574.47" cy="865.21" r="4.1" fill="#5f136e"/>
<circle cx="1574.47" cy="871.50" r="4.1" fill="#6a176e"/>
<circle cx="1574.47" cy="890.40" r="4.1" fill="#65156e"/>
<circle cx="1574.47" cy="895.40" r="4.1" fill="#b73557"/>
<circle cx="1574.47" cy="910.90" r="4.1" fill="#5d126e"/>
<circle cx="1582.20" cy="815.40" r="4.1" fill="#57106e"/>
<circle cx="1582.20" cy="844.80" r="4.1" fill="#57106e"/>
<circle cx="1582.20" cy="827.00" r="4.1" fill="#61136e"/>
<circle cx="1582.20" cy="833.69" r="4.1" fill="#6a176e"/>
<circle cx="1582.20" cy="841.50" r="4.1" fill="#62146e"/>
<circle cx="1582.20" cy="847.80" r="4.1" fill="#71196e"/>
<circle cx="1582.20" cy="852.80" r="4.1" fill="#5d126e"/>
<circle cx="1582.20" cy="857.60" r="4.1" fill="#a32c61"/>
<circle cx="1582.20" cy="861.50" r="4.1" fill="#65156e"/>
<circle cx="1582.20" cy="866.65" r="4.1" fill="#741a6e"/>
<circle cx="1582.20" cy="871.10" r="4.1" fill="#67166e"/>
<circle cx="1582.20" cy="877.00" r="4.1" fill="#67166e"/>
<circle cx="1582.20" cy="879.20" r="4.1" fill="#bf3952"/>
<circle cx="1582.20" cy="888.10" r="4.1" fill="#5d126e"/>
<circle cx="1582.20" cy="893.70" r="4.1" fill="#67166e"/>
<circle cx="1589.94" cy="796.50" r="4.1" fill="#5a116e"/>
<circle cx="1589.94" cy="802.02" r="4.1" fill="#67166e"/>
<circle cx="1589.94" cy="807.00" r="4.1" fill="#57106e"/>
<circle cx="1589.94" cy="814.80" r="4.1" fill="#5f136e"/>
<circle cx="1589.94" cy="821.16" r="4.1" fill="#69166e"/>
<circle cx="1589.94" cy="826.78" r="4.1" fill="#61136e"/>
<circle cx="1589.94" cy="833.20" r="4.1" fill="#5c126e"/>
<circle cx="1589.94" cy="838.24" r="4.1" fill="#65156e"/>
<circle cx="1589.94" cy="844.78" r="4.1" fill="#62146e"/>
<circle cx="1589.94" cy="850.40" r="4.1" fill="#62146e"/>
<circle cx="1589.94" cy="861.50" r="4.1" fill="#5a116e"/>
<circle cx="1589.94" cy="866.80" r="4.1" fill="#5d126e"/>
<circle cx="1589.94" cy="873.10" r="4.1" fill="#5a116e"/>
<circle cx="1589.94" cy="882.60" r="4.1" fill="#67166e"/>
<circle cx="1589.94" cy="887.80" r="4.1" fill="#61136e"/>
<circle cx="1597.67" cy="784.80" r="4.1" fill="#67166e"/>
<circle cx="1597.67" cy="792.60" r="4.1" fill="#71196e"/>
<circle cx="1597.67" cy="800.80" r="4.1" fill="#62146e"/>
<circle cx="1597.67" cy="816.30" r="4.1" fill="#7a1d6d"/>
<circle cx="1597.67" cy="821.95" r="4.1" fill="#7a1d6d"/>
<circle cx="1597.67" cy="827.30" r="4.1" fill="#5a116e"/>
<circle cx="1597.67" cy="836.50" r="4.1" fill="#67166e"/>
<circle cx="1597.67" cy="846.80" r="4.1" fill="#59106e"/>
<circle cx="1597.67" cy="852.80" r="4.1" fill="#59106e"/>
<circle cx="1597.67" cy="856.80" r="4.1" fill="#721a6e"/>
<circle cx="1597.67" cy="867.30" r="4.1" fill="#69166e"/>
<circle cx="1597.67" cy="871.30" r="4.1" fill="#69166e"/>
<circle cx="1597.67" cy="876.53" r="4.1" fill="#62146e"/>
<circle cx="1597.67" cy="881.50" r="4.1" fill="#b3325a"/>
<circle cx="1605.41" cy="772.60" r="4.1" fill="#ca404a"/>
<circle cx="1605.41" cy="780.80" r="4.1" fill="#64156e"/>
<circle cx="1605.41" cy="786.08" r="4.1" fill="#64156e"/>
<circle cx="1605.41" cy="791.50" r="4.1" fill="#d44842"/>
<circle cx="1605.41" cy="801.50" r="4.1" fill="#62146e"/>
<circle cx="1605.41" cy="805.60" r="4.1" fill="#5f136e"/>
<circle cx="1605.41" cy="817.30" r="4.1" fill="#5a116e"/>
<circle cx="1605.41" cy="831.80" r="4.1" fill="#57106e"/>
<circle cx="1605.41" cy="813.80" r="4.1" fill="#5f136e"/>
<circle cx="1605.41" cy="820.47" r="4.1" fill="#801f6c"/>
<circle cx="1605.41" cy="826.76" r="4.1" fill="#69166e"/>
<circle cx="1605.41" cy="832.13" r="4.1" fill="#5d126e"/>
<circle cx="1605.41" cy="838.56" r="4.1" fill="#5f136e"/>
<circle cx="1605.41" cy="843.72" r="4.1" fill="#741a6e"/>
<circle cx="1605.41" cy="850.87" r="4.1" fill="#5a116e"/>
<circle cx="1605.41" cy="856.91" r="4.1" fill="#69166e"/>
<circle cx="1605.41" cy="862.80" r="4.1" fill="#69166e"/>
<circle cx="1605.41" cy="866.70" r="4.1" fill="#59106e"/>
<circle cx="1613.14" cy="767.60" r="4.1" fill="#61136e"/>
<circle cx="1613.14" cy="787.00" r="4.1" fill="#59106e"/>
<circle cx="1613.14" cy="793.36" r="4.1" fill="#5c126e"/>
<circle cx="1613.14" cy="798.65" r="4.1" fill="#57106e"/>
<circle cx="1613.14" cy="803.70" r="4.1" fill="#62146e"/>
<circle cx="1613.14" cy="822.30" r="4.1" fill="#781c6d"/>
<circle cx="1613.14" cy="827.83" r="4.1" fill="#64156e"/>
<circle cx="1613.14" cy="833.87" r="4.1" fill="#61136e"/>
<circle cx="1613.14" cy="840.19" r="4.1" fill="#801f6c"/>
<circle cx="1613.14" cy="845.80" r="4.1" fill="#57106e"/>
<circle cx="1613.14" cy="849.20" r="4.1" fill="#67166e"/>
<circle cx="1613.14" cy="854.80" r="4.1" fill="#5c126e"/>
<circle cx="1613.14" cy="862.00" r="4.1" fill="#57106e"/>
<circle cx="1613.14" cy="873.10" r="4.1" fill="#64156e"/>
<circle cx="1620.88" cy="752.60" r="4.1" fill="#b93556"/>
<circle cx="1620.88" cy="774.80" r="4.1" fill="#7a1d6d"/>
<circle cx="1620.88" cy="759.80" r="4.1" fill="#7c1d6d"/>
<circle cx="1620.88" cy="765.04" r="4.1" fill="#59106e"/>
<circle cx="1620.88" cy="771.80" r="4.1" fill="#62146e"/>
<circle cx="1620.88" cy="790.40" r="4.1" fill="#781c6d"/>
<circle cx="1620.88" cy="798.10" r="4.1" fill="#5a116e"/>
<circle cx="1620.88" cy="804.20" r="4.1" fill="#62146e"/>
<circle cx="1620.88" cy="810.80" r="4.1" fill="#67166e"/>
<circle cx="1620.88" cy="818.10" r="4.1" fill="#84206b"/>
<circle cx="1620.88" cy="831.50" r="4.1" fill="#5f136e"/>
<circle cx="1620.88" cy="837.59" r="4.1" fill="#57106e"/>
<circle cx="1620.88" cy="843.80" r="4.1" fill="#5c126e"/>
<circle cx="1620.88" cy="846.80" r="4.1" fill="#5c126e"/>
<circle cx="1620.88" cy="850.80" r="4.1" fill="#69166e"/>
<circle cx="1620.88" cy="854.80" r="4.1" fill="#751b6e"/>
<circle cx="1620.88" cy="860.40" r="4.1" fill="#67166e"/>
<circle cx="1628.62" cy="756.30" r="4.1" fill="#6f196e"/>
<circle cx="1628.62" cy="775.40" r="4.1" fill="#5a116e"/>
<circle cx="1628.62" cy="780.80" r="4.1" fill="#721a6e"/>
<circle cx="1628.62" cy="795.10" r="4.1" fill="#64156e"/>
<circle cx="1628.62" cy="801.14" r="4.1" fill="#5c126e"/>
<circle cx="1628.62" cy="807.62" r="4.1" fill="#5f136e"/>
<circle cx="1628.62" cy="814.80" r="4.1" fill="#5d126e"/>
<circle cx="1628.62" cy="818.40" r="4.1" fill="#64156e"/>
<circle cx="1628.62" cy="822.80" r="4.1" fill="#751b6e"/>
<circle cx="1628.62" cy="827.98" r="4.1" fill="#801f6c"/>
<circle cx="1628.62" cy="835.00" r="4.1" fill="#67166e"/>
<circle cx="1628.62" cy="839.86" r="4.1" fill="#5c126e"/>
<circle cx="1628.62" cy="845.93" r="4.1" fill="#6a176e"/>
<circle cx="1628.62" cy="852.04" r="4.1" fill="#5a116e"/>
<circle cx="1628.62" cy="858.10" r="4.1" fill="#7c1d6d"/>
<circle cx="1636.35" cy="741.30" r="4.1" fill="#59106e"/>
<circle cx="1636.35" cy="747.60" r="4.1" fill="#5c126e"/>
<circle cx="1636.35" cy="752.10" r="4.1" fill="#7a1d6d"/>
<circle cx="1636.35" cy="762.60" r="4.1" fill="#62146e"/>
<circle cx="1636.35" cy="766.50" r="4.1" fill="#5c126e"/>
<circle cx="1636.35" cy="771.50" r="4.1" fill="#57106e"/>
<circle cx="1636.35" cy="774.40" r="4.1" fill="#5a116e"/>
<circle cx="1636.35" cy="792.60" r="4.1" fill="#69166e"/>
<circle cx="1636.35" cy="798.74" r="4.1" fill="#69166e"/>
<circle cx="1636.35" cy="803.70" r="4.1" fill="#64156e"/>
<circle cx="1636.35" cy="811.30" r="4.1" fill="#5f136e"/>
<circle cx="1636.35" cy="815.80" r="4.1" fill="#65156e"/>
<circle cx="1636.35" cy="840.40" r="4.1" fill="#61136e"/>
<circle cx="1636.35" cy="828.10" r="4.1" fill="#69166e"/>
<circle cx="1636.35" cy="832.78" r="4.1" fill="#65156e"/>
<circle cx="1636.35" cy="838.80" r="4.1" fill="#59106e"/>
<circle cx="1636.35" cy="843.80" r="4.1" fill="#5c126e"/>
<circle cx="1636.35" cy="850.32" r="4.1" fill="#61136e"/>
<circle cx="1636.35" cy="857.00" r="4.1" fill="#57106e"/>
<circle cx="1644.09" cy="736.60" r="4.1" fill="#67166e"/>
<circle cx="1644.09" cy="746.50" r="4.1" fill="#5a116e"/>
<circle cx="1644.09" cy="750.60" r="4.1" fill="#cc4248"/>
<circle cx="1644.09" cy="776.80" r="4.1" fill="#57106e"/>
<circle cx="1644.09" cy="784.80" r="4.1" fill="#bf3952"/>
<circle cx="1644.09" cy="789.58" r="4.1" fill="#62146e"/>
<circle cx="1644.09" cy="794.20" r="4.1" fill="#751b6e"/>
<circle cx="1644.09" cy="809.40" r="4.1" fill="#69166e"/>
<circle cx="1644.09" cy="819.80" r="4.1" fill="#5c126e"/>
<circle cx="1644.09" cy="826.88" r="4.1" fill="#5f136e"/>
<circle cx="1644.09" cy="833.24" r="4.1" fill="#6a176e"/>
<circle cx="1644.09" cy="839.20" r="4.1" fill="#5c126e"/>
<circle cx="1644.09" cy="843.70" r="4.1" fill="#59106e"/>
<circle cx="1644.09" cy="847.80" r="4.1" fill="#69166e"/>
<circle cx="1644.09" cy="853.70" r="4.1" fill="#6a176e"/>
<circle cx="1651.82" cy="740.50" r="4.1" fill="#59106e"/>
<circle cx="1651.82" cy="765.80" r="4.1" fill="#5f136e"/>
<circle cx="1651.82" cy="769.80" r="4.1" fill="#5c126e"/>
<circle cx="1651.82" cy="774.40" r="4.1" fill="#64156e"/>
<circle cx="1651.82" cy="807.30" r="4.1" fill="#cb4149"/>
<circle cx="1651.82" cy="841.80" r="4.1" fill="#61136e"/>
<circle cx="1651.82" cy="819.20" r="4.1" fill="#721a6e"/>
<circle cx="1651.82" cy="826.32" r="4.1" fill="#5f136e"/>
<circle cx="1651.82" cy="831.91" r="4.1" fill="#7a1d6d"/>
<circle cx="1651.82" cy="838.80" r="4.1" fill="#65156e"/>
<circle cx="1651.82" cy="845.80" r="4.1" fill="#b63458"/>
<circle cx="1659.56" cy="726.30" r="4.1" fill="#5d126e"/>
<circle cx="1659.56" cy="737.80" r="4.1" fill="#61136e"/>
<circle cx="1659.56" cy="743.80" r="4.1" fill="#59106e"/>
<circle cx="1659.56" cy="750.50" r="4.1" fill="#64156e"/>
<circle cx="1659.56" cy="801.60" r="4.1" fill="#65156e"/>
<circle cx="1659.56" cy="805.70" r="4.1" fill="#64156e"/>
<circle cx="1659.56" cy="816.10" r="4.1" fill="#5a116e"/>
<circle cx="1659.56" cy="820.30" r="4.1" fill="#59106e"/>
<circle cx="1659.56" cy="833.20" r="4.1" fill="#69166e"/>
<circle cx="1659.56" cy="838.06" r="4.1" fill="#5f136e"/>
<circle cx="1659.56" cy="843.20" r="4.1" fill="#5c126e"/>
<circle cx="1667.29" cy="718.10" r="4.1" fill="#59106e"/>
<circle cx="1667.29" cy="723.10" r="4.1" fill="#67166e"/>
<circle cx="1667.29" cy="756.50" r="4.1" fill="#5f136e"/>
<circle cx="1667.29" cy="754.10" r="4.1" fill="#57106e"/>
<circle cx="1667.29" cy="786.80" r="4.1" fill="#5c126e"/>
<circle cx="1667.29" cy="790.80" r="4.1" fill="#64156e"/>
<circle cx="1667.29" cy="800.30" r="4.1" fill="#64156e"/>
<circle cx="1667.29" cy="821.80" r="4.1" fill="#67166e"/>
<circle cx="1667.29" cy="827.00" r="4.1" fill="#59106e"/>
<circle cx="1667.29" cy="831.50" r="4.1" fill="#64156e"/>
<circle cx="1667.29" cy="837.80" r="4.1" fill="#61136e"/>
<circle cx="1667.29" cy="841.50" r="4.1" fill="#6a176e"/>
<circle cx="1667.29" cy="847.00" r="4.1" fill="#801f6c"/>
<circle cx="1675.03" cy="708.10" r="4.1" fill="#65156e"/>
<circle cx="1675.03" cy="801.80" r="4.1" fill="#65156e"/>
<circle cx="1675.03" cy="815.50" r="4.1" fill="#67166e"/>
<circle cx="1675.03" cy="819.30" r="4.1" fill="#721a6e"/>
<circle cx="1675.03" cy="824.80" r="4.1" fill="#69166e"/>
<circle cx="1675.03" cy="833.20" r="4.1" fill="#7f1e6c"/>
<circle cx="1675.03" cy="837.30" r="4.1" fill="#64156e"/>
<circle cx="1675.03" cy="840.80" r="4.1" fill="#5c126e"/>
<circle cx="1682.76" cy="706.00" r="4.1" fill="#69166e"/>
<circle cx="1682.76" cy="703.10" r="4.1" fill="#5c126e"/>
<circle cx="1682.76" cy="814.80" r="4.1" fill="#69166e"/>
<circle cx="1682.76" cy="816.80" r="4.1" fill="#5f136e"/>
<circle cx="1682.76" cy="819.00" r="4.1" fill="#57106e"/>
<circle cx="1682.76" cy="831.80" r="4.1" fill="#5d126e"/>
<circle cx="1682.76" cy="836.32" r="4.1" fill="#62146e"/>
<circle cx="1682.76" cy="841.30" r="4.1" fill="#57106e"/>
<circle cx="1690.49" cy="743.90" r="4.1" fill="#771c6d"/>
<circle cx="1690.49" cy="766.50" r="4.1" fill="#67166e"/>
<circle cx="1690.49" cy="782.00" r="4.1" fill="#65156e"/>
<circle cx="1690.49" cy="786.50" r="4.1" fill="#64156e"/>
<circle cx="1690.49" cy="810.50" r="4.1" fill="#71196e"/>
<circle cx="1690.49" cy="824.50" r="4.1" fill="#65156e"/>
<circle cx="1690.49" cy="832.80" r="4.1" fill="#62146e"/>
<circle cx="1690.49" cy="837.00" r="4.1" fill="#5c126e"/>
<circle cx="1698.23" cy="704.80" r="4.1" fill="#8c2369"/>
<circle cx="1698.23" cy="763.10" r="4.1" fill="#801f6c"/>
<circle cx="1698.23" cy="772.70" r="4.1" fill="#5f136e"/>
<circle cx="1698.23" cy="828.10" r="4.1" fill="#5a116e"/>
<circle cx="1698.23" cy="835.40" r="4.1" fill="#6f196e"/>
<circle cx="1705.96" cy="735.70" r="4.1" fill="#5a116e"/>
<circle cx="1705.96" cy="760.80" r="4.1" fill="#65156e"/>
<circle cx="1705.96" cy="771.50" r="4.1" fill="#65156e"/>
<circle cx="1705.96" cy="812.00" r="4.1" fill="#5f136e"/>
<circle cx="1705.96" cy="825.90" r="4.1" fill="#62146e"/>
<circle cx="1705.96" cy="832.60" r="4.1" fill="#67166e"/>
<circle cx="1713.70" cy="703.70" r="4.1" fill="#64156e"/>
<circle cx="1713.70" cy="706.50" r="4.1" fill="#6a176e"/>
<circle cx="1713.70" cy="769.30" r="4.1" fill="#61136e"/>
<circle cx="1713.70" cy="802.00" r="4.1" fill="#67166e"/>
<circle cx="1713.70" cy="808.40" r="4.1" fill="#65156e"/>
<circle cx="1713.70" cy="826.50" r="4.1" fill="#d34743"/>
<circle cx="1721.43" cy="673.10" r="4.1" fill="#7c1d6d"/>
<circle cx="1721.43" cy="745.40" r="4.1" fill="#61136e"/>
<circle cx="1721.43" cy="795.90" r="4.1" fill="#69166e"/>
<circle cx="1721.43" cy="802.00" r="4.1" fill="#57106e"/>
<circle cx="1721.43" cy="822.00" r="4.1" fill="#65156e"/>
<circle cx="1721.43" cy="828.10" r="4.1" fill="#67166e"/>
<circle cx="1729.17" cy="822.20" r="4.1" fill="#5c126e"/>
<circle cx="1736.90" cy="829.50" r="4.1" fill="#65156e"/>
<circle cx="1744.64" cy="826.50" r="4.1" fill="#65156e"/>
<circle cx="1752.38" cy="799.80" r="4.1" fill="#5d126e"/>
<circle cx="1752.38" cy="822.80" r="4.1" fill="#59106e"/>
<circle cx="1760.11" cy="823.40" r="4.1" fill="#721a6e"/>
<circle cx="1775.58" cy="822.80" r="4.1" fill="#5c126e"/>
<rect x="1361.80" y="650.10" width="433.30" height="519.70" fill="none" stroke="#262626" stroke-width="1.3"/>
<line x1="1404.30" x2="1404.30" y1="1169.80" y2="1174.80" stroke="#2b2b2b" stroke-width="1.3"/>
<text x="1404.30" y="1190.50" font-size="15.5" fill="#4d4d4d" text-anchor="middle">50</text>
<line x1="1481.65" x2="1481.65" y1="1169.80" y2="1174.80" stroke="#2b2b2b" stroke-width="1.3"/>
<text x="1481.65" y="1190.50" font-size="15.5" fill="#4d4d4d" text-anchor="middle">60</text>
<line x1="1559.00" x2="1559.00" y1="1169.80" y2="1174.80" stroke="#2b2b2b" stroke-width="1.3"/>
<text x="1559.00" y="1190.50" font-size="15.5" fill="#4d4d4d" text-anchor="middle">70</text>
<line x1="1636.35" x2="1636.35" y1="1169.80" y2="1174.80" stroke="#2b2b2b" stroke-width="1.3"/>
<text x="1636.35" y="1190.50" font-size="15.5" fill="#4d4d4d" text-anchor="middle">80</text>
<line x1="1713.70" x2="1713.70" y1="1169.80" y2="1174.80" stroke="#2b2b2b" stroke-width="1.3"/>
<text x="1713.70" y="1190.50" font-size="15.5" fill="#4d4d4d" text-anchor="middle">90</text>
<line x1="1791.05" x2="1791.05" y1="1169.80" y2="1174.80" stroke="#2b2b2b" stroke-width="1.3"/>
<text x="1791.05" y="1190.50" font-size="15.5" fill="#4d4d4d" text-anchor="middle">100</text>
<line x1="1356.80" x2="1361.80" y1="740.10" y2="740.10" stroke="#2b2b2b" stroke-width="1.3"/>
<text x="1353.30" y="745.50" font-size="15.5" fill="#4d4d4d" text-anchor="end">0.4</text>
<line x1="1356.80" x2="1361.80" y1="893.60" y2="893.60" stroke="#2b2b2b" stroke-width="1.3"/>
<text x="1353.30" y="899.00" font-size="15.5" fill="#4d4d4d" text-anchor="end">0.0</text>
<line x1="1356.80" x2="1361.80" y1="1047.10" y2="1047.10" stroke="#2b2b2b" stroke-width="1.3"/>
<text x="1353.30" y="1052.50" font-size="15.5" fill="#4d4d4d" text-anchor="end">−0.4</text>
<text x="1578.45" y="1210.60" font-size="18.8" fill="#000" text-anchor="middle">Age</text>
<text transform="translate(1314.40,909.95) rotate(-90)" font-size="18.8" fill="#000" text-anchor="middle">SHAP value</text>
<text x="1578.45" y="635.50" font-size="22.1" font-weight="bold" fill="#000" text-anchor="middle">Logistic</text>
<text x="1274.5" y="634.50" font-size="22.4" fill="#000">F</text>
<text x="1823.10" y="837.70" font-size="18.8" fill="#000">ALT</text>
<rect x="1823.10" y="849.70" width="30" height="147.20" fill="url(#inf)"/>
<line x1="1823.10" x2="1829.10" y1="863.90" y2="863.90" stroke="#fff" stroke-width="0.9" opacity="0.85"/>
<line x1="1847.10" x2="1853.10" y1="863.90" y2="863.90" stroke="#fff" stroke-width="0.9" opacity="0.85"/>
<text x="1862.10" y="869.20" font-size="15.1" fill="#000">200</text>
<line x1="1823.10" x2="1829.10" y1="897.40" y2="897.40" stroke="#fff" stroke-width="0.9" opacity="0.85"/>
<line x1="1847.10" x2="1853.10" y1="897.40" y2="897.40" stroke="#fff" stroke-width="0.9" opacity="0.85"/>
<text x="1862.10" y="902.70" font-size="15.1" fill="#000">150</text>
<line x1="1823.10" x2="1829.10" y1="930.80" y2="930.80" stroke="#fff" stroke-width="0.9" opacity="0.85"/>
<line x1="1847.10" x2="1853.10" y1="930.80" y2="930.80" stroke="#fff" stroke-width="0.9" opacity="0.85"/>
<text x="1862.10" y="936.10" font-size="15.1" fill="#000">100</text>
<line x1="1823.10" x2="1829.10" y1="964.30" y2="964.30" stroke="#fff" stroke-width="0.9" opacity="0.85"/>
<line x1="1847.10" x2="1853.10" y1="964.30" y2="964.30" stroke="#fff" stroke-width="0.9" opacity="0.85"/>
<text x="1862.10" y="969.60" font-size="15.1" fill="#000">50</text>
</g>
</svg>
</body></html>
